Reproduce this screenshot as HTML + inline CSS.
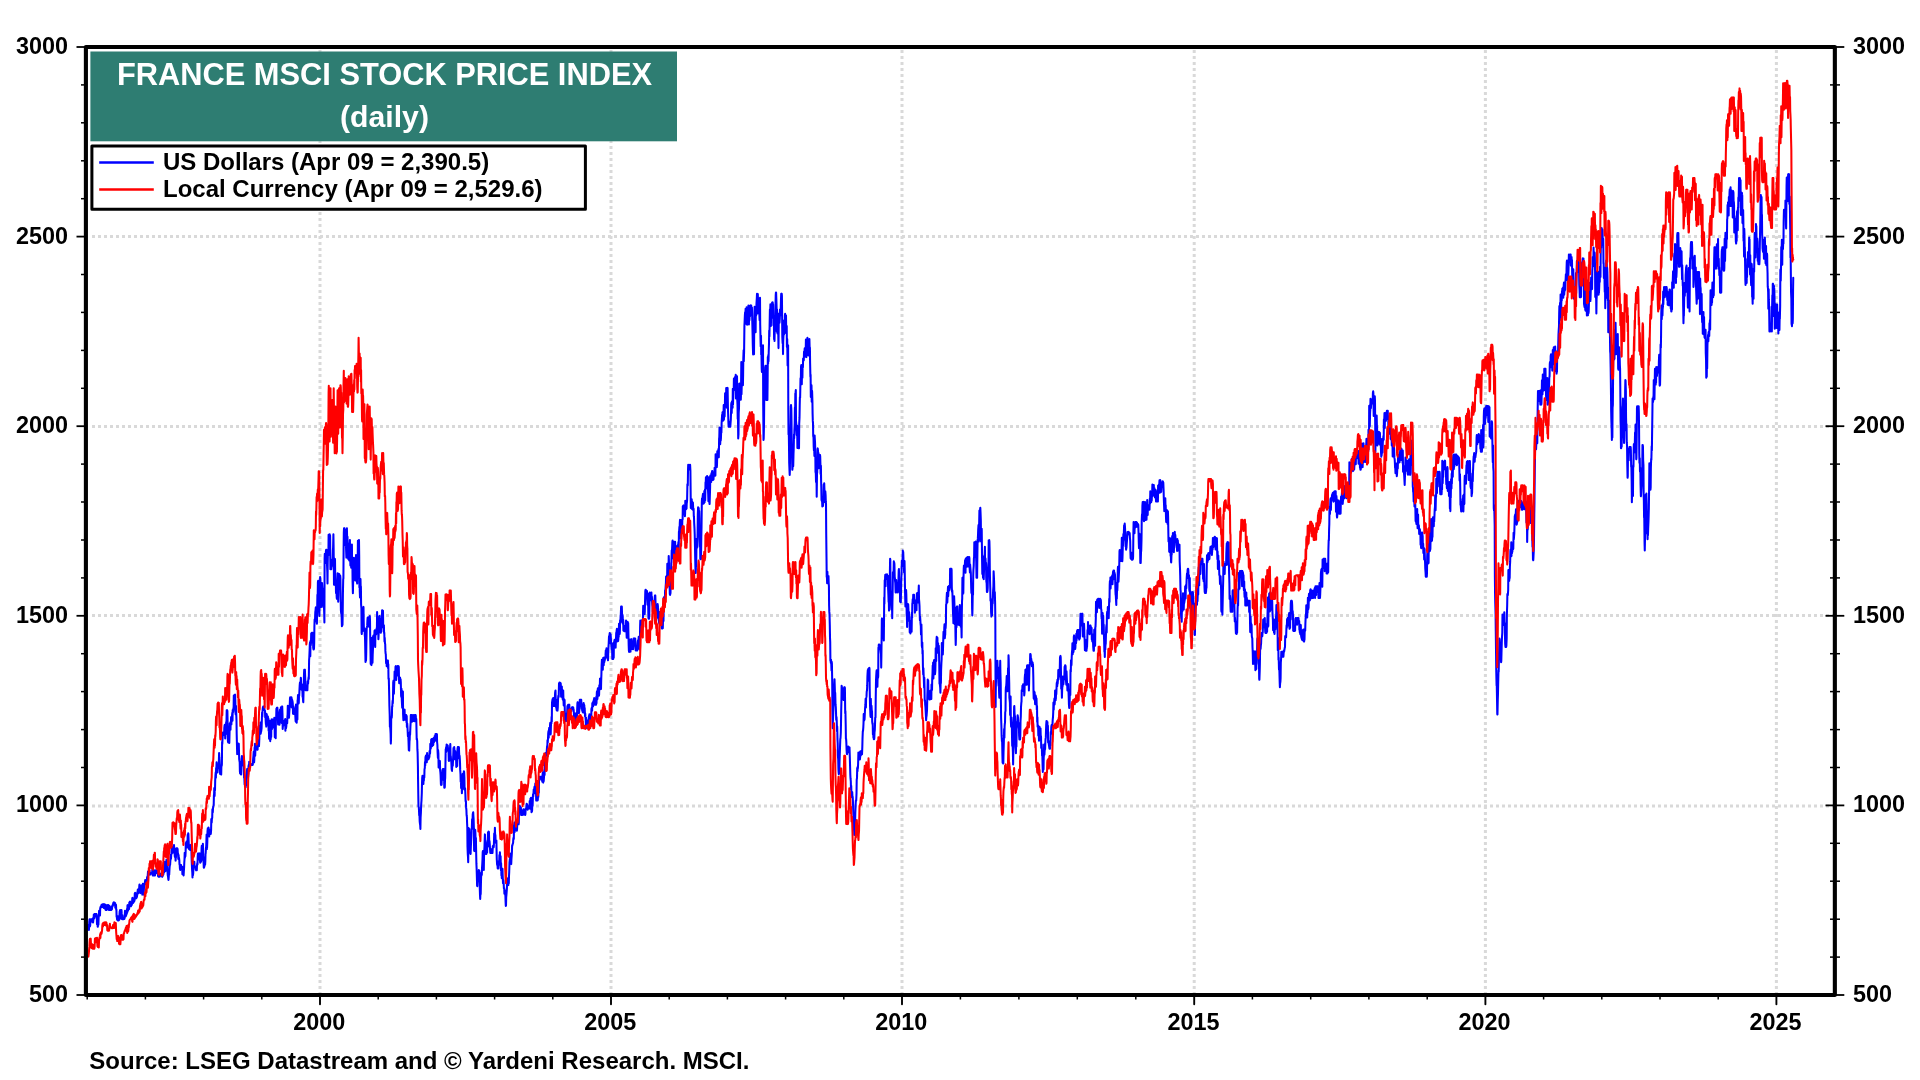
<!DOCTYPE html><html><head><meta charset="utf-8"><title>France MSCI Stock Price Index</title><style>html,body{margin:0;padding:0;background:#fff;width:1920px;height:1080px;overflow:hidden}svg{display:block;will-change:transform}text{font-family:"Liberation Sans",sans-serif;font-weight:bold}</style></head><body><svg width="1920" height="1080" viewBox="0 0 1920 1080"><rect width="1920" height="1080" fill="#fff"/><g stroke="#d9d9d9" stroke-width="3" stroke-dasharray="3 3" fill="none"><line x1="92" y1="236.5" x2="1833" y2="236.5"/><line x1="92" y1="426.5" x2="1833" y2="426.5"/><line x1="92" y1="615.5" x2="1833" y2="615.5"/><line x1="92" y1="806" x2="1833" y2="806"/><line x1="320.0" y1="50" x2="320.0" y2="993"/><line x1="611.0" y1="50" x2="611.0" y2="993"/><line x1="902.0" y1="50" x2="902.0" y2="993"/><line x1="1194.2" y1="50" x2="1194.2" y2="993"/><line x1="1485.4" y1="50" x2="1485.4" y2="993"/><line x1="1776.4" y1="50" x2="1776.4" y2="993"/></g><g fill="none" stroke-linejoin="round" stroke-linecap="round" stroke-width="2.05"><path d="M88.2,929.5l.2-4.6 .3 1.9 .2 3.2 .2-3.3 .2-5 .3-2.5 .2 4.5 .2 2.7 .2-1.1 .2-4.8 .3-1.3 .2 0 .2 .6 .2 1.7 .2-2.3 .3 0 .2 .1 .2 1.4 .2-.9 .3 2.5 .2-4 .2 4.1 .2-2.1 .3-1.6 .2-4.1 .2 3.1 .3 .7 .2-1.7 .3-2.6 .2 1.2 .2-1.3 .3 0 .2 0 .2 0 .2 2.5 .3-2.5 .2 .6 .2 2.1 .2 7.5 .2-4.6 .3 4.3 .2 2.9 .2-.5 .2-6 .3 4.4 .2-6.4 .3-4.1 .2-3.4 .3 3.8 .2-3.2 .2 .6 .2 3.5 .2-7.3 .3-1 .2-.6 .2-.4 .2 .5 .3-.4 .2-1.6 .2 2.6 .2-.8 .3-1.3 .2 1.8 .2-2.7 .2 0 .3 0 .2 .6 .2-.6 .2 3.6 .3-2.7 .2 .2 .2-1.1 .2 0 .3 .2 .2 3.9 .2 1 .2 .3 .3 .3 .2-4.2 .2 2 .3 2.2 .2-1.6 .3-3.4 .2 .6 .2 .3 .3 1.1 .2 2.1 .2-4.1 .3 3.6 .2 .8 .3 .6 .2-1.8 .2-2.4 .3 1.3 .2 2.3 .2-1.3 .3 1.9 .2 0 .2 0 .3 0 .2 0 .3-3.1 .2 2.7 .2-.8 .3-3.3 .2 .1 .2 .4 .3-2 .2 .4 .2-1.7 .3-.3 .2 2.4 .3-2.4 .2 0 .2 .9 .3-.2 .2-.1 .2 4.8 .2-1.1 .3-2.3 .2 .6 .2 4.6 .2-.2 .2 7.2 .2 .3 .3 2.8 .2-.6 .2-3.1 .2 1.2 .2 3.2 .2 0 .2 0 .3 0 .2-.7 .2 .1 .2 .1 .2-3.5 .3-5 .2 1.2 .2-2.5 .2 .6 .2-.2 .3 3.9 .2 3.8 .2 .5 .3-8.6 .2 3.3 .3 2.2 .2 3.5 .2 0 .3 0 .2-.6 .2 .6 .3 0 .2 0 .2-1.2 .2 1.2 .3-3.8 .2 3.2 .2-1.6 .3-6.2 .2 5.5 .2-2.5 .2 2.7 .3-.5 .2-.5 .2-.6 .2-2.4 .3 1.4 .2-4.8 .2 3.8 .3-7.5 .2-.3 .2 1.4 .2 4.2 .3-3.5 .2 1.3 .2 .3 .3 .2 .2-6.3 .2-.3 .2-.4 .3-.4 .2 2.5 .2 .2 .3-1.8 .2 3.8 .2-.4 .2-.3 .3-.4 .2-.3 .2-1.6 .3-5.1 .2-.3 .2 4.8 .2 .5 .3-.4 .2-.3 .2-.4 .3-.3 .2-.3 .2-.4 .2-.5 .3-7.2 .2 3.7 .2-4.2 .3 .7 .2 4.1 .2 .8 .3-.2 .2-.3 .3-.5 .2-.6 .2-1.1 .3-3.6 .2-.6 .2-2 .3 4 .2-.7 .3-.6 .2-1.7 .2 .4 .3-4.9 .2-1.5 .2 2.6 .3 4.5 .2 .8 .2 .7 .3-2.7 .2-3 .2-1.6 .2 4.3 .3-4.7 .2 .7 .2 2.9 .3 5.6 .2-.6 .2-6.2 .2-4 .3 1.1 .2 4.3 .2 5.4 .2-3.5 .3-5.7 .2-.9 .2-1.1 .3 .2 .2-1.6 .2-2 .2 4.3 .3-2.9 .2 2 .2-1.2 .3 .6 .2-1.2 .3-1.1 .2-3.4 .2 2.5 .3-2.7 .2-2.1 .2-3.2 .3-.2 .2 3 .3-3.5 .2-.2 .2-.3 .3 .3 .2 1.5 .2 2.5 .3-.3 .2-.3 .2-.4 .3-.3 .2-.3 .3-.3 .2-.2 .2 .6 .3 .6 .2-4.2 .2 2 .2 3.9 .3-5.1 .2-.8 .2 5.8 .2 0 .3 0 .2-4.3 .2 3.7 .2-4.4 .3 .8 .2 4.2 .2-1.3 .3-3.7 .2-.2 .3 0 .2 .7 .2-.7 .3 0 .2 .5 .2 2.5 .3-3 .2 0 .3 2.8 .2 3.1 .2-3.6 .2 4.3 .3 0 .2 0 .2-.1 .2-2.2 .3 1.3 .2 .8 .2-1.8 .2-.7 .3 1 .2-1 .2 0 .3 0 .2-.7 .3-1.1 .2 4.3 .2 .2 .3-1.8 .2 1.1 .2-1.7 .3-7.8 .2 7.8 .2-5.7 .3 1.6 .2 2.3 .3-1.3 .2-4.3 .2-5.1 .2 5.9 .3 2.3 .2 1 .2-1.1 .2-3.5 .3-3.3 .2-3.3 .2 .7 .2 1.7 .3 4.3 .2-1.6 .3 8.1 .2 2.4 .2 .7 .3 2.9 .2 .9 .2-2.3 .2-3.2 .3 .2 .2-3.9 .2-3.5 .2-2 .3-.6 .2-3.2 .2-2.2 .2-4.5 .3 3.8 .2-3.8 .2-.3 .3-7.9 .2 3.9 .3 2.5 .2-2.8 .2-2.9 .3 4.1 .2 1.2 .2-2.8 .2-2.9 .3 1.1 .2-3 .2 4 .3 2.1 .2 3.7 .2 2.2 .2-4.8 .3 3.7 .2 4.7 .2-4.4 .2 .9 .3-8.9 .2 0 .2 0 .2 0 .3 0 .2 2.2 .2-1.5 .2 4 .3 .8 .2 5.3 .3-4 .2 3.8 .2-1 .3 2.3 .2 4.3 .2-.1 .2 4 .3 1.6 .2-4.3 .2 .3 .2 1.6 .3-2.5 .2 3.9 .2-.6 .2 .4 .3 1 .2-3 .2 7.5 .3-1.7 .2-1.2 .3 2.5 .2 1 .2 .7 .2-3.5 .3-4.6 .2-5 .2-2.9 .2-6.7 .2 5.1 .2-3.2 .3 1.6 .2-3.6 .2-9.7 .2 2.1 .3-1.1 .2-2.4 .2 2.1 .2 .6 .3 1.6 .2 1.6 .3-12.6 .2 4.4 .3-6 .2 .8 .2 5.7 .2 4.6 .3 4.9 .2-3 .2-1.3 .2 4.3 .3 .6 .2-1.3 .3-3.3 .2 .6 .3-1.2 .2 5.5 .2-1.2 .2 9 .2 5.2 .3 6.8 .2 2.1 .2 5.3 .2-5.1 .2 3.1 .3-2 .2-6.4 .2-.5 .2-4.6 .2 3.4 .3-3.6 .2 2.5 .3 2.1 .2 1 .2 .6 .3-.6 .2 2.3 .2-.7 .2 1.4 .3 0 .2-1.4 .2 1.4 .2-5 .3-2.2 .2 1.4 .2-7.8 .2-3.2 .3 1.2 .2-1.3 .2 .7 .3 5.4 .2-5.2 .3-.5 .2 .3 .2-.7 .2 7.4 .2 1.8 .3 0 .2-.9 .2 .2 .2-1 .2-.9 .3-12.2 .2-2.1 .2 6.9 .2 3.1 .3-5.6 .2-1 .2-5.4 .2 6.5 .2 10.2 .3 2.6 .2 4.7 .2 0 .2-.7 .2-.6 .2-9 .2 4.3 .3 2.9 .2-2.8 .2-7.7 .2-1.1 .2-4.3 .3-2.4 .2-5.2 .2-6.6 .2 6.6 .2 7.8 .3-6.7 .2-10.9 .3-3 .2-.2 .2 6.2 .3-6.7 .2 .5 .2 4.3 .3 4.1 .2-2.9 .2 .4 .3 0 .2-.9 .3-3.4 .2 3.6 .2 .7 .3-3.9 .2-11 .2 3.8 .2-.5 .2-3.7 .3-.8 .2-8.5 .2 3.2 .2-.5 .2-3.8 .2-1.7 .3-.9 .2-.7 .2-9.3 .2-1.7 .2-5.9 .3 7.8 .2-7.5 .2 1.8 .2-10 .2-4.2 .3-3.7 .2 5.5 .2-9.6 .3-.2 .2-5.7 .3 4.2 .2-.6 .2 .2 .2 6.4 .3-4.2 .2 .4 .2-4.5 .2 0 .3 2.9 .2-6.8 .2-7.3 .2 4.2 .3 3.7 .2 4.4 .3 8.6 .2-1.6 .2 1 .3-3.3 .2 3.7 .2 .9 .2-9.3 .3 .6 .2-1.8 .2-22 .2 1.8 .2-4.8 .3-4.6 .2-2.1 .2-.1 .2 0 .3 2.1 .2-1.1 .2 1.6 .2-6.8 .3-2.8 .2-.6 .2 4.4 .2 9.4 .2-4.1 .2-3.4 .2 3.2 .3-11.4 .2-1 .2-.1 .2-11.4 .2 2 .3-2 .2 1 .3 17.2 .2 12.6 .3 1.3 .2 0 .2-2.5 .3-1.2 .2-3.6 .2 7.9 .2-8.3 .3-11.4 .2-.3 .2 1.7 .3 5.1 .2-7.9 .2 3.1 .2-8 .3 7.4 .2-6.6 .2 2.9 .2-4.4 .3-3.4 .2 7.9 .2-10.8 .2 1.7 .3 .3 .2-4 .2 2 .2-14.4 .3 4.5 .2-1.2 .3-3.2 .2-.8 .3-.2 .2 5.3 .2 12.6 .2 1.7 .3-8.4 .2 6.1 .3 8.9 .2 13.7 .3 12 .2 7.5 .2-2 .3-8.8 .2 4.8 .2 5.7 .2-4.3 .3-1.7 .2-4.1 .2 8.5 .2 6.8 .2 1.5 .3 1.8 .2 9.2 .2 2 .2-6.5 .2-.1 .3 0 .2 7.5 .2 0 .2-6.1 .3-9.4 .2-2.9 .3 3.3 .2-2.4 .2 4.7 .2-.9 .3 4.5 .2-4 .2-5 .2 9.7 .2 .8 .2 11.2 .2-2.4 .3 9 .2-1.1 .2 3.3 .2-1.5 .3-1.6 .2 3.6 .2-4.3 .3 2.6 .2-5.3 .3-4 .2-3.8 .2-3.4 .3 .7 .2 7.7 .2-5.7 .3 5 .2-4.1 .2-6 .2-1.5 .3 2.3 .2-5.5 .2 1.2 .2-.1 .3 4 .2-1 .2-1 .3-.1 .2 0 .2-.9 .2 .9 .2 0 .3 0 .2 0 .2 0 .2-.5 .3 .5 .2-.3 .2-4 .2-2.4 .2-2.1 .3-4.6 .2 8.3 .2 2.5 .2-2.7 .3-12.1 .2 .5 .2-4.3 .2 12 .3-9.1 .2-.1 .2 1.3 .3-.1 .2-2.8 .3 .9 .2 3.1 .2 .9 .3 0 .2-.1 .2-8.1 .3-2 .2 5.1 .3-1.9 .2 2.2 .2 1.1 .3-6.8 .2-8.6 .2 3.6 .3-8.7 .2 3.8 .2-6.8 .3 11.1 .2-1.5 .3-.9 .2-1.7 .2-1.6 .3-9.7 .2-5.7 .2 4.2 .2-4.8 .3-4.2 .2 2.4 .2-3.8 .2 0 .3 0 .2 0 .2 1 .2-1 .2 3.5 .3 .4 .2 .6 .2 6.5 .2-3.5 .2 5.2 .3 5.2 .2 .2 .2 2.1 .2-12.8 .3 .8 .2 5.8 .2 4.4 .3-4.2 .2-2.7 .2-1.3 .2 4.9 .3-3 .2 12.2 .2-5.3 .3 13.3 .2-1.6 .2-7.8 .2-8.6 .3 2.3 .2 18.1 .2-4.5 .3 2.6 .2-6.5 .3 4.2 .2-16.5 .2-1 .3 9.7 .2-5.2 .3-4.5 .2 8.1 .3-4.5 .2 0 .2 3.9 .3 .1 .2 .4 .3-6.7 .2-2.9 .3 9.7 .2 9.7 .2-1.4 .3-3.3 .2 3.4 .2 2.3 .2-17.7 .3-3.2 .2-8.6 .2 1.6 .3-2.6 .2 .6 .3-.6 .2 3.1 .2 3.6 .3 10 .2-.1 .2-2.3 .3-.8 .2 1.6 .2-.6 .3 2.6 .2-11.9 .3-3.2 .2 .6 .2-1 .3 .2 .2-2.1 .2 7 .2 3.5 .3 5 .2-8.8 .2-.8 .2-6.9 .3 8.2 .2 14.4 .2-3.4 .2 .1 .3-1 .2-3.9 .2 3.4 .2 .3 .3 .7 .2-.9 .2-1.8 .2-1.8 .3-1.6 .2 11.6 .2-3.8 .2-1.2 .2 2.6 .3-2 .2-4.2 .2-1.7 .2 .6 .3 2.3 .2-6.8 .2-2 .2-8.7 .3 10.2 .2-3.4 .2 .9 .3 3.2 .2 1.1 .3-5.6 .2-2.6 .3-6.3 .2-5 .2-1 .3 3.8 .2 5.6 .2-.5 .3-5.9 .2-3 .3 1.4 .2 8.7 .2-7.6 .2 1.1 .3 1 .2 1.8 .2 10.1 .2-3.2 .3-4.4 .2 7.7 .2-1.3 .2-4.5 .3 .6 .2 .6 .3 4.2 .2-3 .2 5.1 .3 5.4 .2 .7 .2-17.2 .2 13.9 .3 .6 .2 3.7 .2-9.3 .2-.8 .3 7 .2-19.3 .2-.7 .2-4.6 .3 1 .2 7.6 .3-.7 .2-7.7 .2 .4 .3-6.5 .2-3.7 .2-2.4 .2-.7 .3 0 .2 1.3 .2-5.8 .2 1.1 .2 9.7 .3 1.1 .2-3.7 .2 3.8 .2-5.4 .3 5.1 .2 7.5 .2-1.5 .3 5.5 .2 1.2 .2-8.8 .3-9.8 .2-9.6 .2-4.3 .2 13.2 .3-12.6 .2-.5 .2 5.2 .3 8.5 .2 6.8 .2-1.9 .2-2.9 .3 4.8 .2 0 .2-.6 .3-.2 .2-.2 .2 1 .3-9.1 .2 2.7 .2-.4 .2-3.7 .3-2.7 .2 1.8 .3-18.9 .2-2.5 .3-6.9 .2-6.1 .3-2.3 .2 14.1 .2-15.2 .3 4.1 .2-3.3 .2-8.3 .2 1.8 .3-2.5 .2 3.3 .2-2.8 .2-.5 .3 0 .2 10.2 .2-9 .2 13.6 .3 1.7 .3 0 .2-1.1 .2-5.6 .2-16.2 .2-6.9 .3 1.6 .2-3.1 .2-6.1 .2-1.2 .3-3.4 .2 8.5 .2 5.4 .2-5.1 .3 5.3 .2 2.2 .2-10.2 .3-18.8 .2 8 .3-20.5 .2-1.3 .3 0 .2 12.4 .3 1.8 .2 15.3 .3 5.5 .2-17.4 .3-5.6 .2-15.9 .2 1.3 .2 4.2 .3 14.8 .2 4 .2 5.6 .2-2.6 .2-6.9 .2-12.1 .2-2.2 .3 4.4 .2 2.5 .2-1.3 .2 3 .3 8.1 .2 7.4 .3-5.5 .2 3.2 .3 8.2 .2 9.3 .2-63.5 .2-5 .2-.1 .2 7.7 .3 1.5 .2-8.7 .2-3.2 .2-1.3 .3 0 .2 0 .2 .5 .2 13.8 .3 7.9 .2 11.5 .2-19.9 .2-10.5 .2 2.1 .3 .1 .2-20.5 .2 .8 .2 14 .2-13.8 .3 7.9 .2-9.5 .2 7.3 .2-5.9 .3 33.7 .2-1.3 .2 1.3 .3-3.9 .2 3.9 .2-4.1 .2 1.4 .2-4.7 .3-2.3 .2 3.2 .2 2 .3-14.4 .2-2.6 .3-13.5 .2 12.3 .2 16.2 .2 22 .2-11.9 .3 .7 .3-9.5 .2-5.2 .2 16.7 .3 9.8 .3-3.6 .2 10.8 .2 .8 .3-1.8 .2 5.8 .2 1.4 .2-10.1 .3-8.8 .2-6.7 .2 19.8 .2 .9 .2 7.8 .2-6.4 .2-12.7 .3-4.5 .2-4.2 .2 5.4 .2-4.8 .3 5.5 .2-2.2 .2-2.1 .2 2.3 .3 21.6 .2 10.7 .3 3 .2-2 .2 4.5 .3 10.4 .2-16 .2 .8 .2 14 .2-11.7 .2-19.4 .3-14.5 .2-1.1 .2-28.8 .2-16.5 .2-4.7 .3 5.1 .2-5.1 .2 6.7 .2 1.3 .3-.1 .2-6.5 .2 15.8 .3-6.8 .2 11 .3 7.9 .2-27 .3-2.3 .2 8.9 .2 .9 .2-1.3 .2 19.2 .3-1.8 .2 4.7 .2 0 .2-1.3 .2 1.3 .2-5.7 .2 7.2 .3-17.2 .2 .6 .2-3.7 .2 14.5 .3 10.8 .2-7.9 .2 6.6 .2-2.6 .2 6.2 .3-16.9 .2 10.7 .2-16.9 .2 22.2 .3-3.1 .2 18.3 .3 11.2 .2-9.9 .3-5.2 .2-.4 .3-19.9 .2 14.2 .3-4 .2 5.2 .3-4 .2 5.3 .2 6 .2-7.3 .3-7 .2-11.2 .2 4.1 .3 3.5 .3 18.5 .2 1.1 .2 1.3 .2-14.5 .3-8.8 .2-19.5 .2 5.2 .2 25.3 .3-6 .2-7 .2-18.1 .2 15.4 .2 31.9 .2-6 .2 10.7 .2 5.4 .3-12.8 .2-5.7 .2 9.7 .2-2.2 .2 18.2 .3 3.6 .2 24.5 .2 1.2 .3-10.3 .2 2.3 .3 5.1 .2-4.6 .2-14.5 .3-3.5 .2-1.6 .2 14.2 .2 8.4 .2 .1 .3 1 .2-2.4 .2 7.2 .2 1.6 .3 14.8 .2 10.2 .2-7.7 .3 6.4 .2-6.5 .2-12.3 .3-13.7 .2-.8 .3-1.5 .2-5 .2-3.2 .3 5.2 .2-5.7 .2 3.9 .3 5.1 .2-4.6 .3-4 .2 7.2 .2 2.3 .3-11 .2 3.7 .2 16.8 .3 14.3 .2 13.1 .2-6.8 .3-.6 .2 8.5 .2-1.2 .2-14.9 .3-11.3 .2 18 .2 7 .2-7.8 .3-6.8 .2-11.4 .2-1.2 .2 3.6 .3 5.8 .2-3.7 .2-4.7 .2-5.5 .3-.7 .2 5.4 .2 11.3 .2-15.8 .3 3.4 .2-2.6 .2 2.5 .3-1.3 .2-4.8 .3 1.3 .2-17.7 .2 10.2 .2-.9 .3 7.1 .2 .1 .2 .8 .2 10 .2-4.2 .2-4.5 .2-1.5 .3-12.9 .2 4.7 .2-5 .2 6.9 .3-4 .2 2.5 .3 11.4 .2 0 .3-4.7 .2 3.5 .2-6 .3-4.9 .2-10.3 .2 7.1 .2 4.8 .3-4.4 .2-7.1 .2 16.5 .2-1.1 .2-.3 .3-.5 .2 8 .2-.5 .2 8.8 .2-3.9 .3 5.9 .2 .4 .2 6.9 .2 2.6 .2 .7 .3 9.1 .2-3 .2-.3 .2 6.1 .2-5.3 .3 3.3 .2 2.4 .2-1.8 .3-4.2 .2 7.6 .2-3.9 .2 14.8 .3-.6 .2 8.2 .2 8.7 .2 10.6 .3 8.9 .2 12.1 .2-.5 .2 1.9 .3 5.4 .2 9.9 .2-4 .2-22.3 .3-.1 .2 .7 .2-2.5 .2-9 .2 .3 .3-6 .2 2.6 .2-5.5 .2-15.4 .3-1.8 .2 6.9 .2 6.2 .2-6.7 .3-6.5 .2-8.9 .2 7.5 .3-5.2 .2-.2 .2-7 .3-.6 .2 4.8 .2 9.1 .2-6.4 .3-.9 .2-5.5 .2 8.4 .3-4.2 .2-5.3 .2 0 .3 0 .2 0 .2 .1 .3 .7 .2 12.4 .2 4 .2-4 .3 .2 .2-2.1 .2 .7 .3 1.6 .2-.3 .2 2.8 .3 13.4 .2 1.1 .2-8 .3 11.5 .2 3.7 .2 3.8 .2-1.9 .3-5 .2-9.4 .2 22.7 .3 6.1 .2-1 .2-4.9 .3 .5 .2-4.6 .3-.6 .2 10.1 .2-4.6 .3-.1 .2 0 .2 2.5 .3-2.5 .2 0 .3 7.5 .2-6.5 .2 10.9 .3-3.5 .2 2.5 .2 3.9 .3 6.4 .2-3.3 .2 2.9 .2 5.2 .3 9.3 .2-.6 .2 .9 .3-9.5 .2-1.4 .2-7.7 .2 2.6 .3-8 .2-3.5 .2-8.1 .3 4.2 .2-4.2 .2 1.4 .2-1.4 .3 6.7 .2-5.7 .2 5.1 .2-.5 .3-4.3 .2-1.2 .2 5.8 .3-1.3 .2-3.9 .2 1.3 .2 .5 .2 3.8 .3-6.3 .2 0 .2 0 .3 0 .2 0 .2 1 .2 5.6 .3-2.6 .2 11.3 .2 9.2 .2-.9 .3 2.5 .2 8.6 .2 2.7 .3 13.6 .2 16.3 .2 13.3 .2 11.2 .3 .3 .2 3.2 .2 5 .3 .6 .2 5.6 .2 1.9 .3 1.7 .2 3.9 .2-11.2 .3-5 .2-6.8 .2-3 .2-2.7 .3-7.3 .2-9.7 .2-5.1 .3-2.5 .2 4.8 .2-3 .3 3.9 .2 2.6 .2-7.8 .2 4.8 .3-4.7 .2 1.1 .2-8.1 .3-1.2 .2-6.1 .2 3.8 .3-9 .2-.4 .2-.5 .3-.5 .2 1.3 .2 4.3 .2 1.2 .3-9.1 .2 2.5 .2 2.9 .3 .1 .2-2.8 .2 3.7 .3-.4 .2-.5 .2-.5 .2-.5 .3-.8 .2-5.7 .2 2.9 .3-1.1 .2-9 .2 3.2 .3 1.4 .2-4.6 .2-4.4 .3 1.9 .2-2.4 .2 4.3 .2 3 .3-.9 .2-4.8 .2-1.8 .3 6.4 .2-.7 .3-6.4 .2 2.4 .2 1.6 .3-3.5 .2 2.6 .2-5.2 .3 2.9 .2 1.6 .3-6.4 .2 3.4 .2 2.9 .2-.4 .3-5.9 .2 .9 .3-.9 .2 7.9 .3 3 .2 6.9 .3 6.1 .2-8 .3 3.6 .2 13.8 .2-6.5 .2-.5 .2 5.8 .3 1.5 .2-3.9 .2-2.9 .2 9 .3 2.5 .2 2.7 .3 9.2 .2 .8 .3-4.6 .2 4.2 .2-6.7 .2-2.9 .3 2.1 .2-7.2 .2 6.2 .2-7.1 .2 2.3 .3 4.1 .2-6.4 .2 11.3 .3-.1 .2 7.4 .3 0 .2-.8 .2-7.1 .2-1.8 .3-17.5 .2-11.2 .2 3.2 .2-5.3 .3 2.3 .2-5 .2 3.5 .2-2.1 .3 4.7 .2-3.3 .2-1.9 .2 2.6 .2 .1 .3 2.7 .2 2.7 .2 7.1 .2 .3 .2-1.2 .2-6.5 .2 6.9 .3-5.5 .2-8.1 .2-2.4 .3 12.6 .2-.5 .3 4.7 .2 .7 .3 7.1 .2 1.3 .2 .9 .3-6.4 .2-3.5 .3 4.7 .2-5.2 .3-6.7 .2-5.8 .2 2.3 .3 1 .2-4.2 .2 2.1 .3 10 .2-5.7 .3-2.6 .2 1 .2 2.7 .2-1.4 .3 5.9 .2 7.9 .2-.9 .3-.8 .2-.7 .2 1.4 .3-16.9 .3-2 .2 .9 .2 3.4 .3-4.3 .2 .6 .2-.6 .2 5.5 .3 6.1 .2-3 .2 3.2 .2 3.5 .2 7.5 .3 4.3 .2 7.4 .2-3.8 .2 10.3 .3-2.2 .2-3.1 .3 10.5 .2-4.5 .2-.7 .3-14 .2 5.6 .2 1.6 .2 7.4 .3-5 .2-11.1 .2-1.3 .2 .6 .3 5.8 .2 12 .3-1.7 .2 .4 .3 6.5 .2 6.2 .3 0 .2 6.3 .3 2.6 .2 5.2 .3 1.9 .2 6.2 .2 4.1 .2 19.3 .3 7.8 .2 2.3 .2 5.4 .2-16.5 .2-17.6 .3 1.2 .2 6.8 .2-7.2 .2 4.8 .2 4.3 .3 5.3 .2-3.6 .2 13.6 .2 .7 .3-8.4 .2-3.4 .3-6.6 .2-6.7 .2 .6 .3-10 .2-.8 .2 4.2 .2-8.5 .3-1.5 .2-.7 .2 3.8 .2 2.8 .3 10.5 .2 20.9 .2 .9 .2-7.4 .2-4.1 .3-9.9 .2 .2 .2 3.4 .2 7.8 .3-3.2 .2 12.2 .3 13.8 .2 4.1 .3 10 .2 7.6 .2 .6 .3-7 .2 2.8 .3-5.8 .2 3.2 .3-3.5 .2-5.9 .2 3.2 .3-2.5 .2 3.2 .2 12.4 .3 8.9 .2 3.7 .2-5.2 .3 .5 .2-9.5 .2-7.2 .3-4 .2-1.3 .2 2.7 .2-6.7 .3-5 .2-3.8 .2-7.2 .2-1.1 .2 8.5 .3 4.4 .2-3.1 .2 9.1 .2-12.5 .2-6 .3-5 .2-7.3 .2-4.8 .2 4.3 .2 3.3 .2 11.5 .3 .1 .2 .4 .2-.7 .2 .7 .2-2.6 .3-1.2 .2 2.2 .2-9.1 .3-2.7 .2 1.2 .2-9.6 .2 3.7 .2-1.4 .2-3 .3 .4 .2 5.4 .2 9.4 .2-5.6 .3 3.5 .2 4.1 .3 4.2 .2-.9 .3-2.8 .2 3 .2 .7 .2 0 .3 0 .2-2.4 .2-1.7 .2 1.3 .2 2.8 .3-6.7 .2-.1 .2-.5 .2 .8 .3 .8 .2-2.9 .3-10.8 .2 2.6 .3-.1 .2-8.2 .2 6.5 .3 .8 .2 6.4 .3 .2 .2 1.5 .3-2.8 .2 11.8 .2 7.6 .3 4.7 .2 .8 .2-.7 .2 3.9 .3 0 .2-.7 .2 .7 .3-7.1 .2 3.4 .3-3.2 .2-6.6 .3 3.6 .2-6.4 .2 4.8 .3 .7 .2-1.4 .3 13.9 .2-7 .3 12.2 .2-1 .2 3.9 .3-2.9 .2-.6 .2-6 .2 6.7 .3 7.6 .2-2 .2-1.2 .3 4 .2 4.5 .3-.3 .2 5.5 .3-3.6 .2 3.7 .2-.8 .3 3.2 .2 5.8 .2 4 .2-.3 .2-8.5 .2-1.9 .2-2.6 .3-4 .2-10.3 .2 .6 .3 2 .2 1.8 .3 .3 .2 2.1 .3-2.8 .2 1 .2-7.6 .2-3.7 .3-9.6 .2-1.8 .2-1.7 .2-5.4 .2 4.6 .3 .2 .2 .4 .2 4.6 .2 .8 .2-4.5 .3-4.1 .2-3.2 .2-6.7 .2 .3 .3-1.8 .2 0 .3-1.4 .2-3.8 .3-1.4 .2 1.4 .2-13.4 .2-1.2 .3-1.8 .2 9.6 .2-8.8 .2-.8 .3 0 .2 6.5 .3-8.5 .2 4.4 .3 .8 .2 4.3 .2 .7 .2-.8 .3-6.9 .2-4.2 .2-1 .2 .8 .2-1.1 .3-4.2 .2 11 .2-1.4 .2-14 .2 .9 .3-3.9 .2 0 .2 3.3 .3 .3 .2-2.8 .2 1.2 .3-.3 .2 7.3 .3 0 .2-.8 .2 .8 .2-3.9 .2 3.6 .3 .3 .2-1.7 .2-3 .2-.3 .3-.5 .2 5.2 .2-4.7 .2-.5 .3 2.5 .2 .1 .2-2.1 .2 3 .3 2 .2-.8 .2-4.4 .2-1.1 .2 .2 .3-.5 .2-2.8 .2-1.8 .2 .5 .3 3.6 .2-2.8 .2 4.7 .3-1.3 .2 0 .3 0 .2 0 .2 0 .3-2.1 .2 1.3 .2 .8 .2-7.4 .3 4.9 .2 2.9 .2-10.1 .2-.2 .2 .2 .2-1 .2 5.1 .3 9.5 .2-1 .2 .2 .2-1 .2-7.3 .3 2.8 .2-5.9 .2-5.9 .2 2.5 .3-3.4 .2-3.7 .2 3.7 .2-2.2 .3-3.8 .2-.7 .2 6.5 .3-5.7 .2-3.9 .3 0 .2 .8 .2 6.4 .2 9.9 .3-6.8 .2-4.7 .2 6.8 .2-.6 .3 5.3 .2 0 .2-.8 .2-4.3 .3 1.5 .2-4.6 .3 .4 .2-12.9 .2 .4 .3-3.4 .2 .9 .2-.9 .3 0 .2 0 .2 0 .3 0 .2 0 .3 2.8 .2-.6 .2-1.7 .3 1.5 .2 2.8 .2-6.3 .3-3.1 .2 1.3 .2 9 .3-10.2 .2 8.7 .3-4.1 .2-4.4 .2-2.9 .2 5.4 .3-15.2 .2 2.5 .2 2.8 .2-6.5 .3-4.1 .2-1.8 .2 2.9 .2-.6 .2-2 .3-4.4 .2-2.6 .2 2.1 .2-8 .2 2.6 .3-4.1 .2-5 .3-2.7 .2 6.7 .2-6.6 .3-3.2 .2 4.5 .2-2.9 .2 2.6 .3-8.2 .2-1.2 .2 9 .2 2.7 .3-10.8 .2-.5 .2 .2 .2-6.6 .2 4.8 .2-18.9 .2-1.2 .3-1.9 .3-.8 .2 .2 .2-.9 .3 7 .2 1 .3-3.9 .2 3.9 .2 0 .2 0 .2-6.4 .3-6.6 .2-1.5 .2-1 .2 8.2 .3 .9 .2 8.4 .2-5.5 .2 7.1 .2 1 .3 0 .2-2.3 .2 2.3 .3-3.1 .2-7.5 .3-4.2 .2 .9 .2 .2 .3-13.6 .2 6.7 .3-7.4 .2 0 .3 3.7 .2-2.6 .2 5.8 .3-6.2 .2 3 .2 10.4 .2-5.6 .3-.8 .2-3.9 .2 5.6 .3-.6 .2 6.5 .3 1.6 .2-8 .2-1 .2 7.9 .3 7 .2-5.8 .2-.3 .2 .2 .3 .7 .2 10.2 .2 9.6 .2 1 .3-4 .2-3.5 .2 5.8 .3 1.7 .2 0 .3-3.9 .2 1.2 .2-4.8 .3-7.1 .2-.7 .2 5.5 .3-6.5 .2 0 .2 .1 .3-.1 .2 .8 .3-.7 .2 4.8 .2-.6 .2 1.6 .3-.7 .2 .7 .2-.5 .2 .5 .3 0 .2 .9 .2-3.2 .2 .7 .3-1.7 .2 0 .3 0 .2 1.9 .2-1.9 .3 .1 .2 1.8 .2 .1 .3 4.2 .2 11.9 .2 0 .3 0 .2-1 .2-2.2 .3-4.7 .2-4.1 .2 6.8 .3-.3 .2 4.1 .2-.1 .3-2.5 .2-4.8 .2-5.1 .3-8.1 .2-1.2 .2 8.3 .2-8.1 .2 7.7 .3-4.5 .2 1.6 .2 6.1 .2-.9 .3-4 .2-3.4 .2-5.2 .3 0 .2 0 .2 0 .3 2.4 .2-1.4 .2-1 .3 5.5 .2 3.7 .2-.5 .3 2 .2-1.2 .2 2.5 .3 .6 .2-4.6 .2-.7 .3-4.1 .2 1.3 .2 .4 .3 .7 .2 7.8 .2-5.1 .3 8.2 .2-3 .2 3.6 .3 2.6 .2 6 .2-7.7 .3 4.6 .2 2 .2 3.6 .3 .2 .2 0 .2-2 .3-6 .2 7 .2-3.3 .3 2.4 .2-6.3 .2-3.9 .3 1.8 .2-3.7 .2 1.5 .3 5.1 .2-1.9 .2-.7 .2 .2 .3 5.2 .2-1.7 .2-.8 .2-11.8 .3-1.4 .2 .8 .2 1.9 .2-7.3 .3 1.7 .2-2.8 .2 4.2 .3-.9 .2-4.3 .2-.8 .3-1.1 .2-1.2 .2 .2 .3 5 .2 .3 .2 1 .3-2 .2-.5 .2 2.5 .3 0 .2-7.9 .2 6.6 .3-10.5 .2-1.6 .2 8.4 .3-1.6 .2-8.1 .2-1.7 .3 2.9 .2 1.4 .2 .2 .3 3.1 .2-1.3 .2-9.2 .3 2.9 .2-1.3 .2-8.3 .3-.1 .2 10.4 .2-3.7 .3 3.9 .2-9.1 .2-5.8 .2-8.8 .3-5.5 .2 1.7 .2 4.5 .2 .9 .3 2.7 .2-10.3 .3-1.6 .2 1.7 .2 5.7 .3-7.4 .2 4.6 .2-2.2 .2 .9 .3-1.8 .2-.4 .2-1.1 .2-2.4 .3-5 .2 5.1 .2 2.1 .3-9.3 .2 1.1 .2-.7 .2 4 .3 2.8 .2-.9 .2 4.6 .2 1.1 .3-9.6 .2-4.5 .2-2.7 .3-7.2 .2 .6 .2-1.1 .3-2.8 .2 .5 .2 9.4 .3-5 .2-3.7 .3 4.7 .2 4.6 .3 2 .2 3.9 .2-6.5 .3 6.2 .2 9.8 .2-5.3 .3-3.1 .2 8.4 .2 0 .3-8.3 .2 7.2 .2-14.5 .3-1.7 .2-1 .2-.9 .3 4.1 .2 2.3 .2-1.4 .3 2.9 .2-5.1 .2-3.6 .2-6 .3-.8 .2-1.9 .2-1.4 .2 12.7 .3-3.3 .2-2.6 .2 4.4 .3 1.1 .2-1.8 .2-6.8 .2 4.5 .3-13.2 .2 2 .2 4.2 .3 3.9 .2-3 .2-10.7 .3 .8 .2-5 .2-1.5 .3-7.9 .2 1.2 .2 8.3 .3-9.5 .2 5.9 .2 9.9 .3-7.6 .2 1.3 .2 7.9 .3-4.3 .2 10.9 .2-2 .3 1.7 .2-.3 .2 1.2 .3 0 .2 0 .2-5.3 .3 4.7 .2-2 .2-3.3 .3-4.7 .2 8.5 .2 .6 .3 8.1 .2-1.4 .2-9.9 .3 7.2 .2-12 .2 7.1 .2 8.7 .2-14.4 .3 14.9 .2 7.8 .2 5 .2 1.1 .3-5.7 .2 2.3 .2 2.1 .3-11 .2 .1 .2 11.9 .3-11.2 .2-1 .3-.3 .2 8.5 .3-.3 .2 .8 .2 .9 .3-7.1 .2 5.3 .2 2 .2 0 .2-2.6 .3-8 .2 1.1 .2-1.2 .3 0 .2 0 .2 6.9 .3-6.9 .2 .1 .2 7.2 .3 4.7 .2-1.1 .2 1.1 .3 0 .2 0 .2 0 .3 0 .2-1.1 .2-5.2 .3-3.3 .2 .2 .2-1.1 .3-.3 .2-3 .2 2.9 .3 8.5 .2 1.3 .2-11.6 .3 5.5 .2-16.6 .2-6.1 .3 10.4 .2 .4 .2-3.8 .2-.8 .3 1.6 .2 .4 .2-8.6 .2 .1 .2 9.4 .2-5.8 .3 3.5 .2-14.2 .2-7.4 .3 3.6 .2-2.2 .2 .6 .2 .9 .3 3.8 .2 1.6 .2-2.7 .3-12.6 .2-7.7 .2-1.3 .3 0 .2 7.8 .3-2.5 .2 2.5 .3-1.9 .2-4.6 .2 8.9 .3 4.8 .2-10 .2-1.3 .3 11.7 .2 12.3 .2 1.2 .3 0 .2 0 .2-5.5 .3-18.6 .2-2.1 .2 2.7 .3 1.4 .2 2.6 .2-3.6 .2 4.7 .3-7.1 .2-.7 .2 6.3 .3-2 .2 5.2 .2 2.6 .3 2.2 .2 5 .3-6.5 .2 5.3 .2 1.2 .3-1.9 .2-6.3 .2 2.7 .2-5.4 .2-1.9 .3-3.5 .2 1.2 .2-1.2 .3 9.4 .2 6.7 .2 2.5 .2-3 .3 1.4 .2-7.6 .2 3 .3 5.1 .2 4.5 .2-13.6 .3 2.2 .2 8.5 .2 4.1 .3 .2 .2 1.6 .2 1.5 .3 1.5 .2-10.2 .2-1.2 .3 3 .2-2.1 .2 2.6 .3-3.5 .2 0 .2 9.8 .3-3.5 .2 8.8 .2 1.2 .3 0 .2 0 .2 0 .3-.2 .2-9.3 .2-5 .3 7.2 .2-19.8 .2-4.1 .3 .8 .2 5.6 .2-.7 .3-5.2 .2-7.5 .3 .2 .2-3 .3-4.4 .2-6.4 .3 3.2 .2 2.4 .3-.8 .2-.3 .2-17.4 .3 22.3 .2-11.6 .2 10.9 .2-16.9 .3 .9 .2-13.4 .2 3.8 .3 20.6 .2 .9 .2 3.2 .2 9.5 .3 1 .2-1.2 .2-.5 .3-21.3 .2 3.6 .2-12.2 .2-1.3 .3-11.6 .2 .8 .2-2.6 .3-7.2 .2-.9 .2 7.2 .2-3.3 .3 14 .2-9.4 .2 1.1 .3-5.4 .2-2.9 .2 1.3 .3 8.2 .2 6.8 .2-16.4 .2 5.7 .3 14.2 .2-1 .2 1.3 .3 0 .2-7.4 .3-8.5 .2 11.2 .2 .3 .3-1.6 .2-10.5 .3-.5 .2 0 .2-2.8 .3 11.6 .2-21.9 .2-.3 .3-4.8 .2 3.8 .2-7.7 .2-2.9 .3 18.4 .2-17 .2-1.4 .3 0 .2 9.5 .2 2.7 .2 0 .3 0 .2-1.4 .2-10.9 .3-.4 .2-13.1 .2-.3 .2-.3 .3-.3 .2 3.3 .2 5.4 .3-3.4 .2 1 .2-5.7 .3 10.3 .2-3.2 .2-12.4 .2 9.1 .3-1.2 .2-3 .2 3.3 .3-.3 .2-5.1 .2-1.1 .2-2.2 .3-15.9 .2 .8 .2 .1 .2-15.3 .2-5.2 .3 4.7 .2 .2 .2-3.4 .2-.6 .3-.2 .2 3.2 .3-3.9 .2 0 .3 6.2 .2 18.3 .2 18.7 .3 .2 .2 .2 .2-2.7 .2-6.3 .3 7.9 .2 1.9 .2-6.5 .2 5.9 .3-6 .2 4.6 .2 3.3 .3-1.7 .2 7.5 .2 1.5 .2 5.7 .3 5.2 .2 5.3 .3 14 .2 10.6 .3 13.2 .2 1.3 .3-8.4 .2 2.2 .2-16.5 .2-11.6 .3 5.8 .2-4.3 .2 7.2 .3-14.2 .2-18.6 .3-7.3 .2 1.4 .2 2.2 .2-3 .3 22.2 .2-19 .2 7 .2 19.6 .3 8.4 .2-2.7 .2 15.7 .2-13.2 .3-13 .2 26.2 .3-22.4 .2-8.6 .3-25.7 .2-3.9 .3 1.3 .2-1.9 .2-2 .3-2 .2 8 .2 1.9 .2-.3 .3-.3 .2-3.9 .2-8.4 .3 11.4 .2-6.5 .2-6.2 .2 10.7 .3-18 .2 2.8 .2-7.8 .3 9.1 .2-8.5 .2 3.3 .2 7 .3-12.3 .2 2.9 .2 2.2 .3 8 .2 1.2 .2 3.9 .2 7.1 .3 0 .2-24 .2 8.2 .3 17.5 .2 1.1 .2-6.5 .3-10.1 .2-11.7 .2-.3 .2 5.3 .3 0 .2 1.2 .2-8.7 .3 4.3 .2-4.3 .2-2.2 .2 0 .3 5.3 .2-3.8 .2 7.4 .3-4.7 .2 4.2 .2-4.5 .2-1.7 .3 2 .2-1.1 .2-6.4 .3 5.9 .2 2 .3 0 .2-21.4 .3 4.1 .2 9.2 .3-6.4 .2 .2 .2 5.8 .2-2.5 .3-13.3 .2 3.9 .2-.7 .3 2.9 .2-3.8 .2-4.6 .2 3.9 .2 4.3 .3-18.5 .2-1.7 .2-9.6 .3 .6 .2 3.9 .2 12.3 .3-8.9 .2 5.4 .2-2.2 .2-5.6 .3-.3 .2-9.4 .2-3.5 .3-4.9 .2 5.5 .2-8.1 .3 1.2 .2 7.3 .2-4 .3-2.8 .2-9 .2 14.8 .3-7.5 .2-.3 .2 4.7 .3-12.8 .2-10.6 .2 3.5 .3-1.4 .2-.2 .2 11.4 .2-18.6 .3 0 .2 8 .2 11.9 .3-2.9 .2-15.3 .2-1.7 .3 18.4 .2 7 .3 9.2 .2 4.3 .3 0 .2-1.8 .3 1.8 .2-1.6 .2 .2 .3-3.8 .2 5.2 .2-3.3 .3-3.8 .2-6.2 .2-9 .2-1.6 .3 10.1 .2-11.5 .2 1.5 .2-1.9 .3 6.6 .2-18.9 .2 15.8 .2-8.9 .2-5.6 .3 .5 .2-12.1 .2 5.2 .2-3.8 .2 9.7 .3-10.5 .2-2 .2 7.6 .2-.1 .3-9.9 .2 23.7 .2-10.7 .2 2.2 .3-1.3 .2-3.1 .2-9.2 .2 22.3 .3 6.3 .2 13.8 .3 .9 .2 18.9 .3-4.4 .2-20.8 .3-5.8 .2-23.9 .3-.1 .2 1.7 .2 .3 .3 0 .2 1.7 .2 2.3 .2 10.3 .2-5.8 .3-32.1 .2 32.2 .2-8 .3-9.4 .2-7.8 .2 2.3 .2-3.6 .3 17.6 .2-10.1 .2-16.6 .3-8.1 .2 10.8 .3-10.1 .3-25.2 .2-4.2 .3-6.8 .2-2.6 .3 4.3 .2-7.8 .3 14.2 .2-4.3 .3 5.3 .2-16.7 .3 8.4 .2 9.1 .3-17.4 .2 14.2 .3-10.6 .2 2.5 .3-7.9 .2 2.1 .3 16.7 .2-11.3 .3 7 .2-4.8 .2-.3 .2 1.1 .3-10.5 .2 4.4 .2-4.5 .3 3 .2-3 .2 5.4 .3 3.8 .2-7.3 .2 7.9 .3 11.2 .2 8.5 .2 10.4 .3 9 .2-1.8 .2-4.4 .3-3.3 .2 9.4 .2-25.3 .2-15.1 .2-7.1 .3 2.9 .2 10.3 .2 1.7 .3 10.5 .2-20.1 .3 3.7 .2-7.7 .2-4.7 .3-5 .2-4.7 .3 12.6 .2 7.1 .3-19.3 .2 6.9 .2-2.3 .3 6 .2-6.5 .2 8.4 .2 6.8 .2-.1 .3 6.9 .2-17.2 .2-5.2 .2 26.9 .3 14.6 .2 7.1 .3-10.7 .2 19.1 .2-4.5 .3 18.3 .2 3.3 .2-2.5 .2-.1 .3-3.2 .2-3.4 .2-17.5 .2 60 .3 34.8 .2-1.9 .3-13.3 .2-24 .3-11.7 .2 3.3 .3-13.8 .2-11.2 .3-1.7 .2 0 .3 0 .2 34.3 .3-.7 .2-1 .2-13 .3 14.7 .2 0 .2-18 .2-25 .3 6.7 .2-8.7 .2 6.2 .2-8.4 .3-9.9 .2-12.4 .2 6.1 .2-10.7 .3-16.4 .2 5.3 .3-10.6 .2 2.2 .3 19.5 .2-14.8 .3-6.4 .2 13 .3-4.1 .2-11.1 .3 12.1 .2-12.4 .3 2 .2 .3 .3 20.7 .2-8.5 .3 6.2 .2 16.4 .2-10 .2 11.6 .3-14.5 .2-1.1 .2-3.6 .3-15.4 .2-10.9 .2-2.8 .2 0 .2 5.4 .3 10.3 .2 23.5 .2-22.2 .2 3.9 .3 19.9 .3-10.5 .2-4.3 .2 12.1 .3 17.4 .3-32.1 .2-2.4 .2 3.3 .3 5.8 .3-4.5 .2-8.6 .2 5.4 .3 .1 .2-5.3 .3-10.9 .2-5.2 .2 2.8 .3-2.8 .2 1.9 .2 18.9 .2 22.8 .3 5.9 .2-5 .2 15.9 .2-12.7 .3-6.8 .2-3 .3 2.9 .2-14.3 .2 2.4 .3 10.6 .2-17.6 .2-1.8 .3 7 .2-.6 .2-5 .2 .5 .2 16.3 .3-3.3 .2-2.8 .2 21.2 .3-8.1 .2 14.8 .2 11.6 .3-13.1 .2-7.1 .2 64.8 .2 24.5 .3-1.3 .2 14 .2 15.7 .3 7.9 .2 4.2 .2-5.2 .2-29.6 .3-9.4 .2-8 .2-16.1 .2-1.6 .3 3.4 .2 12.1 .3 29.3 .2 6.3 .3 13.6 .2-1.5 .2-6.9 .3 1.4 .2 3.4 .3-12.5 .2-4.7 .3-14.6 .2 3.9 .2-7.7 .3-7.3 .2-15.7 .2 8.9 .2-22.7 .3-1.6 .2-2.2 .2 31 .2 2 .3 7.5 .2 4.5 .2 .1 .2-9.6 .3 22.5 .2-15.3 .2 8.2 .2-1.8 .3 3.4 .2 5.8 .2-1.6 .3 1.6 .2-24.3 .3-6.6 .2-12.4 .2-8 .2 1.1 .2-9.8 .2-10 .3 4.6 .2-16 .3-1.9 .2 .6 .3 18.7 .2-19.4 .2 2.4 .2 10.5 .2-12.8 .3 2.3 .2-8.7 .2 1.2 .3 .7 .2-.3 .2-8.5 .3 3.6 .2-4.5 .2-2.5 .2 5.1 .3-4 .2 7.1 .2-.1 .3-16.9 .2 13 .2 4.6 .2-6.9 .3-2.2 .2 .1 .2-7.1 .2-3.2 .2 16.6 .2-5 .3 .6 .2 5.5 .2-.1 .2-16 .2 3.4 .3 8.9 .2-12.6 .2 7.6 .3 1.1 .2 15.4 .3 13.5 .2-2 .2 22.2 .2-1.8 .3-10.2 .2 .6 .2 16.2 .2-11.2 .2 1 .3 9.5 .2 12.9 .2 7 .2 2.4 .2 12.8 .3 1.4 .2 9.2 .2 3.7 .2-5.4 .3 11 .2-20.6 .2 3.5 .2 2.8 .3 10.8 .2 19.5 .3 1.3 .2 7.9 .2 1.1 .3-5 .2 19.4 .3-24.2 .2 .3 .3-22.8 .2-1.6 .3 2.5 .2 15.9 .3-13.7 .2 15.2 .2-5.8 .2 5.4 .3-3.1 .2-6.8 .2-2.3 .2-.7 .2 1.5 .2 7.1 .2 10.3 .3-8.2 .2 15.2 .2 7.4 .2 11.6 .3 1.2 .2-2.9 .3 8.2 .2-1.4 .2-1.5 .3 2.5 .2-3.3 .3-5.5 .2-12.6 .3 2 .2-3.3 .2 5.2 .3 8.8 .2 4.7 .2-6.3 .2-4.5 .3 4.2 .2 6.3 .2 2.4 .2 29.2 .3 24.8 .2 18.8 .2-.9 .2 7.2 .3-11.4 .2 8.8 .2-4.8 .2 1.3 .3-.6 .2-.3 .2 7.1 .2 2.5 .2 20 .2 6.1 .2 2.3 .3 11.6 .2 12 .2 4.2 .2 19 .2-1.2 .2 3.1 .2-3.2 .2 2.7 .3 8 .2-8.6 .2 1.9 .3 18.4 .2 28.3 .3 17.9 .2-7.1 .3-6.7 .2-6.3 .2-5 .2-18.7 .2 3.7 .3-4.4 .2-4.5 .3 9.1 .2 8.9 .2-4.6 .3 11.5 .3 2.9 .2 4.6 .2 8.3 .3-2.9 .2 3.4 .3 10.7 .2-4.6 .3 13.2 .2 3.5 .2 12.2 .3 4.1 .2 9.1 .2 3.5 .2 2 .3-3.7 .2 2.8 .2-11.6 .3-8.5 .2-6.1 .3-8.2 .2-.7 .3-5.5 .2-9.4 .2-13 .2-8.8 .2-15.8 .2 .8 .2 2.2 .3 .1 .2-.4 .2 1.6 .3-1.6 .2 3.8 .3 7.8 .2-5.7 .3 4.8 .2-11.8 .2 4 .3-4 .2 1 .3 25 .2-2.2 .3 13.8 .2 13.8 .2 .2 .2 3.2 .3 8.3 .2 2.9 .2 .9 .3-1 .2-2.4 .2 .2 .2 1 .3-5.5 .2 4.7 .2-3.8 .2 0 .3 0 .2 .9 .2-.9 .3 9.5 .2 7.1 .3 10.6 .2 3.6 .3 3.1 .2 8.7 .2-4.3 .3 11.4 .2-3.4 .3 2.7 .2-4.3 .3 5.5 .2-.9 .2 3.8 .3 9.9 .2 5.3 .2 6.6 .2 6.4 .3 1.8 .2 4.5 .2-6 .3-1.7 .2-.1 .3-14.4 .2-5.2 .3-6.7 .2-.9 .2 .7 .3-7.3 .2-13.6 .3-2 .2-9.7 .3 3.2 .2-4.6 .2 1.4 .2-4.3 .3-11.4 .2 0 .2 .1 .2-.1 .3 0 .2 5.5 .2-4.6 .2 6.1 .3-2.7 .2-5.5 .2 3.8 .3 .2 .2-4.2 .2 3.2 .3 0 .2-.9 .2 .9 .3-7.1 .2-8.3 .3-7.5 .2-.2 .3-3.8 .2-4 .2-9.2 .3 6.6 .2-3.1 .3 2.1 .2-3.2 .3-7.2 .2-2.6 .2-2 .2-6 .3 8.9 .2-9.4 .2-.8 .2-1 .2-4.6 .3-1.5 .2-4.4 .2-9 .2-4.1 .2-2.7 .3 10.7 .2-11.8 .2-.1 .3 5.6 .2-6.3 .3-.4 .2 1.1 .2 20.1 .3 15.9 .2 5.1 .2 5.2 .2 1.8 .2-18.3 .2 10.6 .3 6.5 .2-10.1 .3 5.8 .2-.4 .2 10.8 .3 2.2 .2-.8 .2 11.2 .3-1.3 .2 4.5 .2-.8 .2 2.3 .3 0 .2-.9 .2-5.8 .3-2.6 .2-5.7 .2-6.6 .3-.1 .2-17.5 .3-19.8 .2-4 .3-4.8 .2-1.2 .2 10.7 .2 1.4 .3 4.4 .2-9.7 .2 1 .2 0 .2-1.8 .2-28.5 .2-.8 .2-2.4 .3 0 .2 0 .2 1.7 .3 3.1 .2-3.8 .3 1 .2-.9 .2 6.1 .3 2.5 .2 13.4 .2-13 .2-15.3 .2-19.7 .2-1.2 .2 2.4 .3 10.1 .2-5.7 .2 8.1 .2-.1 .3-.2 .2 4 .2 3.4 .2-20 .2-22.8 .2 6.1 .3-23.4 .2 6.6 .2-10 .2-2.2 .3 11.6 .2-11.8 .2 1.4 .3 3.1 .2-4.1 .3 2.3 .2-2.9 .2 2.9 .3-1.7 .2 .1 .2 .3 .2 12.5 .3 7.2 .2 6.4 .2-1.2 .2 9.8 .2-2.9 .2-5.9 .2-7.9 .3-23.4 .2-11.8 .2 1.3 .2 30.1 .3 3.8 .2 .1 .2 7.2 .3 8.4 .2-1.5 .3-6.3 .2 16.5 .2-15.6 .2-8.3 .3-22.2 .2 2.8 .2-2.9 .2 3.4 .3-14.2 .2 2.3 .2-1 .2 1.4 .3 13 .2 1.2 .2 3.3 .2 1.4 .3 9.5 .2 0 .2 0 .2-12.4 .3 8.5 .2 2.6 .2 1.2 .2-.9 .3-8.3 .2 .9 .2 8.4 .2-2.3 .3-4.1 .2-9.1 .2-6.5 .2-1.3 .3 13.4 .2 2.5 .3 6.7 .2-1.6 .2 11.7 .3-1.4 .2 .7 .2 1.2 .3-15.7 .2-8.8 .2-3.7 .2-8.6 .2-4.6 .2 .5 .2-1.3 .2 1.7 .3-11.2 .2 2.8 .2-1.5 .2 5.2 .2 9.2 .3-1.3 .2 7.5 .2-.5 .2-11.1 .2 8.8 .3 20 .2 8.8 .2 8 .2-6.1 .3-1.1 .2-9.2 .2 4.5 .2 7.8 .2 12.8 .2 1.9 .2 9.9 .2-13.6 .2-2.7 .3 .5 .2-7.1 .2 .5 .2 4.3 .2 8.1 .2-1.1 .2-3.9 .3 9.7 .2-4.6 .2 15.1 .2-8.1 .2 2.9 .3 6.4 .2-5.9 .2-3.9 .2 6 .2-8.9 .2 6.7 .2 4.3 .3-19.3 .2 5.6 .2-14.3 .2-.9 .2-3.6 .3 3.7 .2-8.2 .2 3.5 .2-2.3 .2 2.2 .2-3.4 .2 5.3 .3-.3 .2 1.5 .2 11.6 .2-7.3 .2 2.9 .3 .1 .2-2.6 .2-3.1 .2 3.8 .3 3.7 .2-11.6 .2-5.4 .2 7.2 .3-7.3 .2 4.6 .2 4.6 .3-3.7 .2-2.8 .3-5.3 .2-5 .2 13.7 .2 2 .3 4.8 .2 8 .2 6.1 .2-3.5 .2 2.8 .2 3.8 .3 2.9 .2 8.2 .2-2.3 .2-7.7 .2 9.9 .2 11.6 .3 1.8 .2-5.2 .2 11.4 .2-3.3 .2 15.7 .3 8.1 .2-6.1 .2 6.1 .2 4 .3 9.2 .2-9.9 .2 8.6 .2 14.7 .3-.5 .2 4.4 .2 1.6 .2 3.7 .3 5.7 .2 4.4 .2-2.9 .3-1.9 .2-2.9 .2-2.1 .3-14.6 .2-5.9 .2-10.5 .3 8.9 .2-7.8 .2 15.7 .3 2.3 .2-.3 .3-2.7 .2 2.5 .2 1.4 .3-4.6 .2 4.2 .2-8.4 .3 8.6 .2-.6 .3-1.7 .2 1.9 .2-14.3 .3 1.7 .2 3.6 .2-10.3 .3-6.3 .2-7.8 .2 5.9 .2-8.9 .3 16 .2-13.8 .2-1.4 .3-3.3 .2 2.2 .2 1.4 .3 4.3 .2 6.2 .3-3.1 .2-8.2 .2-14.6 .3 9.3 .2 3.4 .2-19 .3-5.2 .2 6.1 .3 8 .2-13 .2 13.4 .3 1.4 .2-9.3 .2 9.7 .3-3.3 .2-3.9 .2 8.1 .2 8.2 .3 21.7 .2-3.1 .2 4.3 .3 2.9 .2 4.9 .2-9.1 .3-.7 .2-13.4 .3-6.9 .2-3.2 .2-16.6 .3 1 .2 3.5 .2-.3 .3 7.4 .2-5.9 .3-11.2 .2-5.7 .2 .1 .2 1.6 .2 .1 .2-6.2 .2-3.1 .3 14.1 .2-2.8 .2-.8 .2-10.3 .2 3.9 .3-5.4 .2-18.3 .3-.9 .2-5.5 .3-5.5 .2 6.5 .2 3.3 .2-5.4 .3-6.5 .2-3.7 .2 9.4 .3-7.4 .2 .3 .3-3.3 .2 4.5 .2-.4 .3-1.9 .2-2.5 .2-16.9 .3 0 .2 4.7 .3 2.8 .2-7.5 .3 0 .2 1.3 .2 17.2 .2 4.8 .3-1.4 .2 5.3 .2 6.3 .3 11.5 .2 2.6 .2 6.9 .2-23.8 .3 8 .2-11.2 .3 7.5 .2 15.7 .2 4.8 .2-9 .3 8.4 .2 13.5 .2 7.9 .2-6.8 .2-30.6 .3 14.2 .2 5.1 .2-13.6 .2-5.7 .2-1.2 .2 4.4 .2 6.9 .3 2.7 .2-5.8 .2 9.8 .2-7.4 .2 3.6 .3 4.4 .2-2.1 .2-1.2 .2-15.4 .2-1.2 .2 2.8 .3 2.8 .2 9.1 .2 7 .2-1.6 .3-2.6 .2 6.5 .2 8.3 .2-23.5 .2-12.5 .2-2.9 .2-20.7 .2 11.8 .3 .7 .2 .2 .2 2.9 .2-15.6 .2-8.9 .2-3.3 .2 4.8 .3 1 .2-2.5 .2-2.8 .2-5.1 .2-1 .3 12.7 .2-14 .2 7 .2-2.2 .2-5.4 .2-.3 .3 8.9 .2-7.9 .2 2 .2-1.2 .2-2.5 .2 7.3 .3-.7 .2 2.7 .2-8.9 .2-.5 .3 0 .2 0 .2 1.3 .2 9.4 .3 4.7 .2-7.9 .2 2.5 .2 2.6 .3 3.1 .2 7.7 .2 7.9 .2 4.6 .2-3.5 .3-3.6 .2 23 .2 6.6 .2-6.9 .3-20.3 .2 6.7 .2-19.1 .2-5.9 .3-3.9 .2-7.7 .2-1.5 .2-14.6 .2 8 .3-6.7 .2 9.1 .2-9.8 .3 1.8 .2-3.1 .3 13.5 .2 5.9 .3 16.9 .2-1.3 .2 .6 .2 .7 .3-26.6 .2-11.3 .2-1 .2-3.8 .2-5.9 .3-4.1 .2 11 .2 5.3 .2-15.5 .3-15.3 .2 23.7 .3-5.4 .2-19.8 .2-1.4 .2 4.3 .3 8.3 .2 21.2 .2-10 .2 1.9 .3-4.7 .2 17 .2 16.1 .2 12.1 .3-17.6 .2 10.8 .2 10.7 .2-.3 .3 .5 .2 1.1 .3-8.6 .2-3.6 .2-10 .3-3.1 .2-7.1 .2 18.7 .2-5.3 .2-1.5 .3 8.1 .2-4 .2 15.1 .2 4.4 .2 0 .3 9.8 .2-13.9 .2 13.8 .2-1.2 .2-2.9 .3-17.7 .2-4 .3-4.3 .2-21.6 .2 0 .3-.1 .2 1.4 .2 7.2 .2 20.4 .2 11 .3 9.9 .2 10.8 .2-2.3 .2 2.5 .2 11.4 .3 4.2 .2-8.6 .2 6.8 .2 .6 .2-8.8 .3-4.5 .2 1.4 .2-7.2 .2-5.5 .3-4.6 .2-14.9 .2 3.7 .3 6.9 .2 9.4 .3 .8 .2 .2 .3 10.7 .2 13.7 .3 90.3 .2-18.7 .2-9.2 .3-.7 .2-5.3 .2-9.5 .3 2.1 .2-2.4 .2-2.6 .2 6.9 .3-.3 .2 .9 .2 13.4 .3 4.3 .2-3.9 .3 11.3 .2 4.5 .2-10.7 .3-9.4 .2-9.2 .2-7.8 .2 12.2 .3 10 .2 19.1 .2 16.1 .3 8.6 .2 8.7 .3 5.8 .2-2.4 .3 16.8 .2 7 .2-2.1 .2 3 .3 0 .2-10.5 .2-6.7 .2-8 .2-9.4 .3 8.8 .2-11.2 .2-2.8 .2-1.1 .2-10.2 .3-1.5 .2-20.5 .2-3.2 .3-1.2 .2-3 .3-7 .2 12.4 .2-3.9 .3 6.8 .2-4.6 .2-4.7 .2-13.8 .3 4 .2-17 .2 4.7 .3 15.3 .2 7.5 .2 15.1 .2 1.9 .3 3.2 .2 12 .2-5.9 .3-12.4 .2 23.7 .3 6.4 .2-3 .2-6.3 .3 4.7 .2 13.9 .2 9.9 .2-4.2 .2 3.5 .3 7.6 .2 11.6 .3-19.2 .2-12 .3-12.2 .2-14 .2-1 .2 6.2 .3 4.5 .2-.6 .2 6.9 .3 23.9 .2 2.5 .2 3.9 .2-9.3 .3 2.5 .2-17.7 .2-1 .3-6 .2 1.2 .3-7.7 .2 1 .2 1.2 .2 7.7 .3-.2 .2-2.1 .2 4.2 .2 8.2 .3 4.1 .2-.9 .2 .9 .3 0 .2-3.6 .2-14.6 .3-5.1 .2-9.1 .3-4.1 .2-1.4 .2-11.2 .3 1.2 .2-.6 .2-5.2 .2 2 .2 3.3 .3-6.6 .2 6 .2-5.9 .3 0 .2 2.1 .2 8.9 .3-3.1 .2-13.8 .3-4.4 .2 3.2 .2-7.6 .3 3.9 .2 11.1 .2-8.3 .2-7.2 .2 4.2 .3 11.3 .2-18.5 .2-1.1 .3 0 .2 2.8 .3 6.4 .2-9.2 .2 1 .3 8.6 .2 15.6 .2-7.5 .3-14.8 .2-2.8 .2-1.4 .2-2.5 .2-7.3 .3 0 .2 1.1 .2 4.9 .3-1.4 .2 2 .3 .5 .2 5.1 .2-3.4 .3 1.1 .2-1.4 .2 1.7 .2 .9 .3 12.1 .2 15 .2 6.1 .3-2.5 .2-4.4 .2 8.1 .2-7.4 .3 7.1 .2 4.9 .2-7.3 .3-1.5 .2 .8 .3 2.4 .2 1 .2-1 .3 11 .2-3.6 .2 16.1 .2-4.9 .2 9.6 .3-1.2 .2 0 .2 9.9 .3-5.6 .2 1.9 .2 9 .3-5.2 .2-8.9 .3 8.5 .2-.4 .2-2.8 .3-3.6 .2 7.4 .3 .5 .2 11.4 .2 .6 .3-3.8 .2 5.1 .2 6.3 .2-2 .3 12 .2 6 .2-8.6 .2-1.5 .3 7.6 .2-11.9 .2-2.1 .2-10.8 .3 10 .2-3.1 .2-2.2 .3-.1 .2-6.2 .2-3.5 .3-2.1 .2-6.5 .2-6.4 .3-3.6 .2 0 .2 4.8 .3 2.2 .2-6 .2 10.4 .3-6.5 .2 16.8 .2-1.8 .3 .6 .2 3 .3 2 .2 1.4 .2 .9 .3-2.4 .2 2.4 .2-7.5 .2 4.3 .3-13.5 .2 2.5 .2-1.8 .2-5.5 .2-1.7 .3-.8 .2 2.7 .2-2.2 .3-1.6 .2-3.8 .3-3 .2-4.3 .2-10 .3 7.2 .2-6.4 .2-.7 .3-4 .2 5.8 .3-3.7 .2-10.3 .2 3.5 .3 1.2 .2 4.8 .3-8.7 .2 2.9 .2-5.5 .2-5.2 .3-1.3 .2 4.1 .2-6.4 .2 4.2 .2-2.6 .3-3.5 .2-8 .2 9.4 .3-2.6 .2-2.7 .2 2.7 .3-3.6 .3-5.8 .2-10.3 .2 3.3 .3-4.4 .2 1.7 .3 17.5 .2 13.7 .2-7.5 .3 7.9 .2 8.6 .2-7.4 .2-3.2 .3-1.2 .2-9.4 .2 3.8 .2 .2 .2 3.7 .3-5.6 .2 1.1 .2-2.4 .2 .4 .3-11 .2 2.5 .3-4.1 .2 0 .3 1.1 .2 13.1 .2 1.4 .3 3.8 .2-13.3 .2 4.4 .3 7.1 .2 1.3 .2 6.3 .2-3.8 .2 2.2 .3-4.7 .2 6.8 .2 .5 .2 5.2 .2 7.5 .3 3.9 .2 0 .2-1 .2-17 .3 3.2 .2 1.8 .2-24.9 .3 1.6 .2-11.5 .3 5.5 .2-1.3 .2-7.1 .3-6.1 .2-1 .2-7 .3 11 .2-5.1 .2 1.8 .3 1.1 .2-1.4 .2-13.8 .3-1.4 .2 6.8 .2 5.1 .3-7.1 .2 6.1 .2 2.6 .2-1.8 .3-9.8 .2 6.2 .2-1 .2-8.7 .2 6.9 .3-2.8 .2-6.8 .2 3.6 .3-4.8 .2 0 .2 1.7 .3-1.7 .2 0 .2 .1 .3 8.8 .2-.6 .2 1.4 .3-1.6 .2 .5 .2-2.5 .3-15.6 .2-6.6 .3 4 .2 2.3 .2 4.4 .3 1 .2-10.5 .2-1.2 .3 10.3 .2-10.3 .2 13.5 .2 9.2 .3-12.7 .2 8.1 .2-5 .2 .9 .3-4.1 .2 5.2 .2 7.8 .2 2.4 .3 11 .2-.9 .2-.8 .3-1.9 .2 4.2 .3-10.6 .2 9.5 .2 1.1 .3-6 .2 3.2 .3-9.1 .2-8.9 .3 3.4 .2-11.3 .2 9 .2-2.2 .3-1.2 .2-.6 .2 2.3 .2-2.2 .3 7.2 .2-5.5 .2-3.2 .2 4.7 .3-4.8 .2 1.7 .2 3.9 .3-1.3 .2-1.8 .2-.1 .2 11.6 .3 .1 .2 1.9 .2-7.2 .3 1.4 .2 5.3 .2 5.6 .3 4.1 .2-1.1 .2 1.1 .3-21 .2 8.4 .2 8.2 .3-1.1 .2 .2 .2-18.5 .2 0 .3-8.5 .2-16.7 .2 6.8 .3-1.1 .2-4.3 .2 9 .3-12.4 .2-.2 .2-.2 .3 6.9 .2-7.4 .2 0 .2 0 .3 2.1 .2-1 .2 8 .3-6.3 .2-1.6 .2-1.2 .3 0 .2 1.8 .3-1 .2 1 .2 8.2 .3 1.5 .2 8.3 .2-3.6 .3 18.8 .2-7.7 .3-13.2 .2 5.4 .2 1.3 .2-3.8 .3 15.6 .2-7 .2 10 .2 5.2 .3 12.3 .2-1.7 .2 6.8 .2-11.8 .3 4.4 .2-9.4 .2 4.7 .3-11.7 .2-5.6 .3-2.7 .2 7.5 .2-17.7 .3-3 .2 .5 .2 5.6 .2-10.9 .2 9.8 .2-1.4 .3-3.9 .2 6.7 .3-10.7 .2-8.7 .3 3.4 .2-17.1 .2-3.9 .3 4.4 .2-8.1 .2 11.1 .2-7.4 .3 1.9 .2 .3 .2-6.3 .3 3.3 .2-3.6 .3-1.5 .2 9.1 .3-9.1 .2-3.5 .2 7.7 .3-9 .2 0 .3 0 .2 2.1 .3 .1 .2 5.7 .2-4.2 .3 6.1 .2 10 .2 4.3 .2 1.2 .3 5.7 .2 3.6 .2-22 .3 15.7 .2-9 .3 .8 .2-4.9 .3-16.3 .2-2.6 .2 5 .3 10 .2-3.5 .3-6.6 .2-3.6 .3-16.9 .2-1.1 .2 9.1 .3-7.9 .2 4.5 .2 1.6 .2 3.6 .3-8.1 .2 7.2 .2-7.2 .3-15.1 .2 18.8 .3 4.8 .2-3.8 .3-10.9 .2-1.6 .2-6.6 .2-4.3 .3 5.5 .2-8.5 .2-5.5 .2-.6 .2 .4 .2-1.8 .3 3.7 .2 5.3 .2 8.7 .2 5.1 .3-.3 .2 3.6 .2-1.4 .2-1 .3-4.5 .2-2.3 .3-5.1 .2-3.5 .3 0 .2 1.4 .2 .5 .3-1.4 .2-.5 .3 2.1 .2 .5 .3-1.7 .2 .5 .2 4 .3 3.8 .2 10.8 .2 6 .2 .8 .3-.5 .2-4.9 .2-.5 .3 6.8 .2 0 .2 0 .3 0 .2-1.3 .2 .8 .2-2.5 .3-25.6 .2-9.1 .2 0 .2 4.1 .3-3.2 .2 10.4 .2-9.9 .2 4.3 .3-.5 .2 .3 .2-5.4 .2 4.6 .3-4.7 .2 0 .2 4.7 .2-4.1 .3 .3 .2 3.9 .2-.3 .3-2.6 .2 .3 .2 .3 .2 .3 .3 10.3 .2 8.3 .2 4.8 .3-12.5 .2-1.8 .3 3.6 .2 3.2 .3 22.4 .2-1.3 .2 1.3 .3-10.7 .2-1.7 .3-11 .2-18 .3-7.4 .2 5.8 .2-14.2 .3-3.9 .2 0 .2 3.6 .2-.1 .3-3.5 .2 1.4 .2 18 .3-12.5 .2-3.3 .3-3.6 .2 0 .3 9.4 .2 8.7 .2-8.3 .3-8.4 .2 5.7 .3 10.8 .2-6.6 .3-1.7 .2-11.5 .2 6.6 .3 8.3 .2-9.9 .2 4.7 .2 0 .3-2.1 .2 .7 .2 1.4 .3 0 .2 0 .3-10.9 .2 5 .3-12.5 .2 5.4 .2-2.9 .3-1.6 .2 10 .3-10.3 .2 8.9 .3-6.9 .2-2.2 .2-7.3 .3 6.8 .2 4.6 .2-4.2 .2 2.9 .3-.7 .2-8.8 .2 7.3 .3 1.4 .2-5.4 .3 8.3 .2 .9 .3-6.5 .2-1 .2 0 .3 11.4 .2 0 .3 0 .2-2.8 .3 1.8 .2-.4 .2-8.8 .3 7.5 .2 2.8 .2-15.9 .2 5.4 .3-2.2 .2 4.5 .2-6 .3-4 .2-3.1 .3 7.4 .2-7.2 .3-.2 .2 1.5 .2 10.7 .3-1.6 .2 .9 .3-6 .2-1.9 .3 3 .2-1.8 .2-.8 .3-2.9 .2 .4 .2 .5 .2 .5 .3 7.5 .2 8.1 .2 5.3 .3 7.5 .2-10.1 .3 1.6 .2 .2 .3-4.5 .2 8.4 .2-1.4 .3 12.1 .2 4.6 .3-.2 .2-12 .3 11.8 .2-1.6 .2 .1 .2 3.8 .3-12.7 .2 6.2 .2 12.6 .2 11.5 .3-4 .2 2.2 .2 12 .3 .2 .2-8.6 .2-2 .2-3 .2 4.7 .3 13.1 .2-3.7 .2 9.3 .2 .8 .3-8.3 .2 .5 .3-15.6 .2-3.1 .3 11 .2-.3 .2-13.7 .3 7.7 .2 1.5 .2-3.7 .2 13.6 .3-6.3 .2-12.5 .2-.7 .3-.7 .2 8.3 .3-5.3 .2 3.8 .3 1.2 .2 1.8 .2 .3 .2 3.1 .3 2.4 .2-1.1 .2 4.6 .2-12 .3 1.1 .2 .4 .2 2.8 .2 6.2 .3 1 .2-3.1 .3-2.7 .2 1.2 .3-1.1 .2 16.9 .3 7 .2 6.4 .3 14.9 .2 1.2 .3 22 .2 4.7 .3 1 .2 2.8 .2-16.1 .2 5.4 .2 .5 .3-5.1 .2-5.3 .2-7.8 .2 10.6 .3 5 .2 .7 .3-8.3 .2 1.7 .3-1.8 .2-1.2 .2-5.5 .3-8.2 .2 3.4 .2 8.8 .2-9.1 .3-4.6 .2 3.5 .2-5.7 .2-4.6 .3-4.5 .2 4.7 .2-4.2 .2-4 .3-1.3 .2 0 .2 1.3 .2 3.9 .3 2.6 .2-1.1 .3 14.2 .2 1.6 .3-13.1 .2 20.2 .2 9.7 .2-3.6 .3-13 .2 3.4 .2 5.5 .2 11.4 .2 1.2 .3-13.9 .2 4.1 .3-4.4 .2-4.8 .3-1.8 .2 1.2 .2 4 .3 6.5 .2 9.9 .3-10 .2 10.2 .3 15.3 .2 5.8 .2 0 .3-17.2 .2-7.7 .2-2.1 .2-2.2 .3-5.9 .2 1.8 .2-15.2 .3 5.9 .2 12.4 .3-14 .2 10.3 .3-8.6 .2-2.5 .2 4.6 .3-20.7 .2-6.7 .3 17.7 .2 .5 .3-21 .2-1.1 .2 1.7 .3-1.6 .2 10.5 .2-4.5 .2-9.6 .3 4.9 .2-6 .2 0 .2 0 .3 2.3 .2-1 .2-1.3 .3 3.7 .2 1.7 .2 14.9 .2-10.8 .3 13 .2-10.8 .2-6.3 .2 10.8 .3 12.2 .2 4.6 .2 1.2 .3 0 .2 0 .2 .1 .2 0 .3-1.8 .2-5.2 .2 2 .2-17.1 .3-15.7 .2 3.1 .2 4.1 .3-1.7 .2 0 .3-7.1 .2-.5 .2 3 .3 .1 .2 3 .3-.3 .2-3.7 .2-2.7 .3 .7 .2-4.7 .2-1.6 .3 1.8 .2-.1 .2 3.7 .3-5.9 .2 4.5 .2 4.1 .3-4.3 .2-4.9 .2 3.7 .3-11.6 .2 2.4 .2 6.8 .3-2.6 .2-6.4 .2 1 .2-1.4 .3 .4 .2-1.4 .2 0 .2 6.4 .2 2.3 .3 4 .2-10.3 .2 1.2 .2 2 .3-1.2 .2-3 .2 .2 .3 14.4 .2 6.5 .2-7.8 .3 17.5 .2-9.5 .2-3.9 .3 13.3 .2 .2 .2-8 .3 13.9 .2 .2 .2 .3 .3 8.6 .2-7.5 .2 4.7 .2-5 .3 7.9 .2 5.1 .2 20.9 .2 1.6 .2-6 .3 1.3 .2 4 .2 3.8 .3-13.7 .2-9.6 .3-10.9 .2-19 .2 .3 .2 5.5 .3 5.6 .2-1.2 .2-7.5 .2 9.7 .2-7.9 .3-1.1 .2 0 .2-1.3 .2 .8 .3 .5 .2-10.8 .3-7.6 .2-3.4 .2 16.2 .3 5.2 .2-22.6 .2 12.7 .3-3.9 .2-2.5 .3 .6 .2-6.5 .2 20 .2 10.9 .3 10.5 .2 15.2 .2-3.4 .2 .2 .3 3 .2 8.4 .2 4.5 .3-7.2 .2 7.2 .2-.8 .3 .7 .2-1.1 .2 1 .2 .2 .3-20.6 .2-.9 .2 0 .2 1.8 .2 9.6 .3-6.9 .2-4.5 .2 1.2 .2 8.7 .3 15.4 .2 5.9 .2-3.7 .2 3.3 .3 1.1 .2 7 .2 4.4 .2-.9 .3-.3 .2 1.7 .2-4 .3 2.8 .2-10.1 .3-14 .2-5.1 .3 1.9 .2-16.2 .2 .9 .3-2.8 .2-14.6 .2 7.6 .3 8.4 .2-7.7 .3-10.2 .2 0 .2 0 .3 .9 .2 .4 .2 3.9 .3-5.2 .2 .1 .2 3.7 .3 11.4 .2-15.2 .2 2.4 .3-1.2 .2 1.1 .2 2.4 .3-.3 .2 9.7 .2 5.3 .3-8.8 .2 11.9 .2 3.6 .3-7.8 .2 3.8 .2 12.4 .3-4.8 .2 3.6 .2 1.2 .3-12.9 .2 9.9 .2-4.9 .2 1.3 .3 6.6 .2-3.3 .2 1.9 .3-3.2 .2 0 .2 3.5 .2-3.5 .3 0 .2 1.2 .2 9.9 .3-6.2 .2-4.9 .2 14 .3 17.3 .2-8.2 .2-7.5 .3 9.9 .2-3 .2 5.3 .3-3.8 .2 11 .2 1.5 .3 1.2 .2 8.7 .2 4 .3 12.8 .2-13 .2 11.5 .2-9 .3 5.4 .2-.4 .2-2.9 .2 4.1 .2 4.3 .3-12.7 .2 10.4 .2 8.5 .2-4.2 .3-3.2 .2 5.7 .2 .5 .3-14.2 .2 .7 .2-1.4 .3-14.3 .2-1.6 .2 5.9 .3 6.5 .2 4.5 .3-.4 .2 8.6 .3 1.8 .2 13.6 .2 1.1 .3-8.6 .2-8 .2-13.3 .3-4 .2 3 .3-4.1 .2-1.3 .2-6.1 .3-4.3 .2 3 .2-.4 .3 .6 .2-3.5 .2-.2 .3-5.8 .2-7.3 .2 1.2 .3-.3 .2-1.3 .2 4.3 .3-3.6 .2 3.3 .2-5.2 .2 8.8 .3 5.4 .2 .9 .2 0 .3 0 .2 0 .2 0 .2-9 .3 5.7 .2 2.1 .2-9.8 .3-10.1 .2-14.4 .2 17.9 .3 11 .2-15.5 .2-5.5 .3-5.5 .2-6.4 .2 6.4 .3 11.6 .2-.1 .2-7.5 .2-11.6 .3 1.4 .2 5.8 .2-6 .3 16.2 .2-13.8 .2 4.8 .2-2.4 .3 3.1 .2 9.1 .2 4.7 .3 4.6 .2 10.5 .2-5 .3-.5 .2-5.4 .2 13 .3-11.5 .2 13.1 .2-3.8 .3-6.6 .2 3.5 .2 2 .3-10 .2-.3 .3-4 .2-9.7 .2 0 .3 5.1 .2-3.9 .2 11 .3 14.9 .2 18 .2-12.5 .3 4.9 .2 17.4 .2-2.4 .3 12 .2-5.5 .2 7.1 .3 11.2 .2 4.8 .2-3.5 .3-1.8 .2-3.8 .2-15.1 .3-4.3 .2-7 .2 2.6 .3 2.6 .2-3.8 .2-.9 .3 4.1 .2-2.3 .2-2.4 .2 2.7 .3 2.5 .2-2.9 .2-3.3 .3 1.2 .2-1.2 .2-1.2 .2-1.3 .3-1.2 .2-10.8 .2 1.9 .3-1.6 .2-.2 .2 1.1 .3-8.6 .2-3.3 .2 2.6 .3-8.9 .2 0 .2 6.5 .3-7.6 .2-.1 .2 0 .3 0 .2 2 .2-4.7 .3-2.2 .2 14.6 .2 1.2 .3-1.2 .2 .2 .2-14.7 .3-.2 .2-9.6 .3-2.5 .2 4.7 .2 2.5 .3-7.2 .2 1.2 .2 3.7 .3 13.8 .2-8.4 .3 4.1 .2 15.4 .3 .3 .2-1.2 .2 1.2 .3 0 .2 0 .2 0 .2 0 .3-.1 .2-11.1 .2-1.4 .3-.4 .2 0 .2 0 .2 1.1 .3 .1 .2 0 .2 5.5 .3-6.7 .2 3.6 .2 1.3 .2-4.9 .3 0 .2 0 .2 3.2 .3 2.5 .2-2.5 .2 8.6 .2 .5 .3 2.7 .2-5.3 .2 6.7 .3-6.5 .2-2.9 .2 9.4 .3 2.9 .2 .3 .2 1.1 .3 .7 .2 .7 .2-1.1 .3 1.3 .2-10.1 .2 .7 .3-1.3 .2 8.7 .2 3.3 .3 0 .2-1.1 .2-.9 .2-8.3 .3-2.2 .2 1.8 .2-7.6 .2-4.5 .2-3 .3-2.7 .2-7.7 .2 3.1 .2 2.4 .3 1.1 .2 5.6 .2-5.2 .2 .6 .3-15.2 .2 11.9 .2-.7 .3-1.3 .2-10.8 .2-3.1 .2 5.1 .3 1.8 .2-2.8 .2 2.4 .3-10.1 .2 6.7 .2-7.5 .2 3.6 .3 2.5 .2-1.9 .2 4.8 .3-.7 .2-7 .2 5.5 .3 1 .2-4.7 .3 1.8 .2 3.8 .2-2.4 .3-2 .2-3.4 .3 .4 .2 6.1 .2-8 .3-.8 .2 10 .2-9.5 .2-2.2 .3 7 .2-.2 .2 2.1 .2-8.9 .3 0 .2 1.3 .2 4.7 .3-6 .2 0 .2 0 .3 6.3 .2-2.3 .2 7.7 .3-10.6 .2 9.4 .2-3.2 .3-10.4 .2 14.8 .3 0 .2-3.5 .2-5.1 .3-5.2 .2-10.6 .2-2.1 .3-2.1 .2-.1 .3-.6 .2 9.7 .2 8.5 .3-27.3 .2 8.7 .2-.2 .3-2.9 .2-6.4 .2 0 .3 1.8 .2-.5 .2-1.3 .3 12.4 .2-9.8 .3-2.6 .2 3.6 .2 4.5 .3 2.2 .2-2.9 .2-1.9 .3 9.2 .2-7.7 .2-1.9 .3 7.9 .2 1.8 .2-7.8 .3 2.8 .2 3.7 .2-22.4 .3-9.8 .2 .5 .2-11.1 .2-5.2 .2-17.4 .3 2.3 .2 4.8 .2-8.7 .2-5.2 .3-1.8 .2 11.8 .2-8.1 .2-2.4 .2-.8 .3-.8 .2-2.7 .2-.6 .2-.6 .3-.6 .2-.6 .2 5.2 .2 2.6 .3 1 .2-.4 .2-4.1 .3-5.7 .2 0 .3-.1 .2 1.5 .2-1.5 .3 0 .2 0 .3 20.5 .2-13.3 .2-2.6 .3 3.9 .2 16.3 .2 1.4 .2-2 .3-4.8 .2-10.2 .2 0 .2 .6 .3-.6 .2 0 .2 1.4 .2 11.7 .2-9.2 .3 9.2 .2-10.9 .2 3.7 .2 5.8 .2 1.4 .2 0 .2-9.7 .3-7.4 .2 6.1 .2-4.6 .2-1.3 .3-4.9 .2 5 .3 6.2 .2 .9 .2-2.5 .3-2.1 .2-5.2 .2-8 .2 4.1 .3-2.9 .2 9.6 .2 1.3 .2-10.6 .2-1.5 .2 0 .2 0 .3 0 .2 0 .2 10.6 .2-10.6 .2 8.1 .3 4 .2-10.1 .2-3.5 .2-1.5 .3 .1 .2 11 .2-4 .2 5.9 .3-1.7 .2-10.7 .3 10.1 .2-9.2 .2-22.3 .3 .4 .2 5.5 .2-3.3 .2 8.6 .3-9.8 .2 4.2 .2 3.1 .2 1.1 .3-4.7 .2-8.5 .2 1.5 .2-1.5 .3 1.1 .2 1.8 .2 5.9 .3 3.2 .2-.1 .3-5.6 .2 4.2 .2-6.2 .2 6.2 .2-4.1 .3-11.1 .2 6 .2-3.7 .2 .2 .3 4.2 .2 3.3 .2-9.5 .3-2.2 .2 5.5 .3 0 .2-2.8 .2-3.9 .2-.2 .3 1.6 .2 5.4 .2 .5 .2-7.5 .3 12.5 .2-5.1 .2-5.9 .2 6.1 .3-7.6 .2 8.7 .3 8.1 .2-4.4 .2 6.2 .3 0 .2-1.5 .2-8.4 .2 2.8 .3-8.1 .2 .3 .2-11.4 .2 1.4 .2 11.6 .2 10.7 .3-7.3 .2-15.2 .2 1.2 .2-2.5 .3 5.9 .2 12.7 .2-1.5 .2-7.1 .3-.1 .2 5.5 .3-2 .2 3.2 .2 2 .3-8.1 .2-7.7 .2-2.9 .2-4.4 .3 6.1 .2 1 .2 8.1 .2-.1 .2-2.5 .2-5 .3 .7 .2 4.2 .2-21.5 .2 5.8 .3 8.4 .2-38.3 .2 10.6 .2-.6 .2 10.5 .3-13.6 .2-2.8 .2-11 .2 3.2 .2 6.1 .3-4.1 .2-2.1 .3-2.2 .2-.3 .3 2.2 .2 1.8 .3-.5 .2-9.9 .3-1.7 .2 2.1 .3 22.5 .2-16.5 .2 10.2 .2-5.7 .3-1.8 .2-5.8 .2 4.4 .2 20.8 .2 31.1 .2-19 .2-2.3 .3 4.4 .2-4 .2-5 .2-11.3 .2 9.7 .3 5.6 .2 14.8 .2-1.7 .2-1.6 .2-3.8 .2-2.3 .2 3.9 .3 3.8 .2-8.2 .2-3.7 .2 8.6 .2-7.2 .3-.7 .2 1.3 .2 11 .2-2.7 .2-2.3 .2 5.1 .3 8.8 .2 2.9 .2-3.4 .2 1.9 .2-16.2 .2 1.2 .2 2 .3 10.4 .2-9.4 .2-3.6 .2 .6 .2-4.2 .3 3.8 .2-20.2 .2 4.7 .2-5.4 .2-5.9 .3 15 .2-14.8 .2 1.5 .3 3.2 .2 3.1 .3-.7 .2-7.9 .2 2.1 .2 3.7 .3-7.4 .2 0 .2 0 .2 0 .3 0 .2 8.9 .2-3.4 .2 11.5 .3 .4 .2 5.5 .3-6.5 .2-3.1 .2-1.2 .2 2.8 .3-5.3 .2 5.5 .2 3.7 .2 9.4 .3-8 .2 8.8 .2-1.5 .2-6.3 .2 13.6 .3-1.8 .2 1.7 .2-5 .2 16 .2-2 .2-15.9 .2 3 .3 2.9 .2 .2 .2 1.4 .2 4.2 .2 7.6 .3 1.4 .2 3.4 .2 5.1 .2 .4 .2 5 .3-8.7 .2 3.8 .3 4.5 .2-9.3 .3 12.6 .2-1.5 .2-3.5 .3-7.6 .3 4.9 .2-9 .2-4.7 .3 8.3 .2-2.7 .2 2 .3-.7 .2-4.7 .2 5.3 .2-9.6 .2 2.8 .2-5.1 .2 4.4 .3 5.3 .2-2.2 .2-7.8 .2-1.5 .2 .3 .3 11.2 .2-7.9 .2-1.6 .2 2.1 .2 10.3 .2-12.4 .3 21.3 .2-2.1 .2-3.7 .2 4.7 .3 2.1 .2 2.5 .3 5.9 .2 3.8 .3-9.2 .2-4 .3-14.2 .2 1.5 .2 9.5 .3 1.6 .2-2.9 .3 3.2 .2 .2 .2-10.2 .2 4.7 .3 1.6 .2 7.1 .2 .9 .2-10.5 .2-1.5 .2-.5 .2 5.6 .3-8.7 .2 3.6 .2 10.5 .2-6.3 .2 7.8 .3 0 .2-1.7 .2-26.9 .2 9 .2 9.6 .2-4.6 .2-1.1 .3-12.1 .2-6.4 .2 1.6 .2 19.4 .3 3.5 .2 21.2 .2 1.5 .2 4.1 .2 0 .3 9.5 .2-10.7 .2 8.6 .2 1.5 .2 5.7 .3-5.6 .2 2.8 .2-3.3 .2 9.2 .2 11.1 .2 .9 .3-2.3 .2 3.7 .2 1 .2-6.6 .2 1.7 .3-10 .2 11.6 .2 7.5 .2-3.5 .3-10.1 .2 12.2 .2 0 .3-1.6 .2 1.7 .2 7.1 .2-.8 .3-4.2 .2 .4 .2 1.9 .3 1.6 .2 11.9 .2-1.6 .3 4.4 .2 .6 .2-7.5 .2 5.9 .3-6.3 .2-7.9 .2 1.4 .3 2.6 .2 11.4 .3-4.1 .2 9.4 .3-5.5 .2 .5 .3 11.4 .2-2.6 .2-7.8 .3 9.1 .2 4.4 .2 6 .3 4.1 .2 3.9 .3-2.5 .2 1.2 .2 1.3 .3 0 .2-3.6 .2-16.4 .2-5 .2 5.1 .3 7.1 .2-13 .2 11 .3 1.2 .2-22.6 .2 6.4 .2-7.6 .3-6.1 .2 12.7 .2 5.3 .2-1.1 .3-1.1 .2-10.3 .2-8.1 .3-11.6 .2 22.4 .3-4.3 .2 .4 .2 3.3 .3-5.2 .2 1.6 .3-17.8 .2-2.1 .2 1.4 .3 .6 .3 7 .2-7.9 .2 3.4 .3-6.7 .2-5.2 .3-3 .2-11.5 .2 8.5 .2 6.5 .3-12.8 .2-.8 .2-18 .3-.3 .2 10.1 .2 4.6 .3-21.3 .2 10.8 .3 4 .2-11.6 .2 5.9 .3 0 .2-7.6 .2-1.5 .3 0 .2 0 .2 0 .2 1.9 .3 17.6 .2 3 .2 0 .2 0 .3 0 .2-1.5 .2 1.5 .2 0 .3-6 .2 .9 .2-28.5 .2 5.9 .2 16.5 .3-12 .2 6 .2-14.9 .2 3.2 .3 1.2 .2-2.5 .3 1 .2-4.1 .2-.3 .3 .2 .2 8.5 .3 .5 .2-1.6 .2 6.2 .3 9.8 .2-.1 .2-.7 .2 4.8 .3-15.7 .2-5.5 .2 1.3 .2 22.5 .3-1.8 .2-2.4 .2-1.2 .3 1.8 .2 8.7 .2-13.7 .3-.3 .2 4.4 .2 22.2 .3-1.9 .2 4.4 .2-19.1 .2 5.8 .3-18.5 .2 8.8 .2 .5 .2-14.9 .2 9.9 .3-19.3 .2-1.9 .2 12 .2 2.4 .3-19.2 .2-2.4 .3-.6 .2 14.5 .2-1.9 .3-.8 .2-2.8 .3-9 .2 1.5 .2 5.6 .3 2.5 .2-9.6 .3 0 .2 0 .2 0 .3 2.6 .2 8 .3-1.3 .2-4.7 .2-3.3 .2 .3 .3 .5 .2 2.6 .2-2.3 .2 .3 .2 .3 .3 1.6 .2 11.3 .2 10.1 .2-1.8 .2-4.6 .3 15.6 .2 15.3 .2-2 .2 4.4 .3 3.9 .2 0 .2-9.3 .2 5.6 .3-5.4 .2-.2 .2 7.9 .2-10.9 .3 1.3 .2-4.9 .2 15.9 .3-11.9 .2-4.9 .2 9.8 .3-.8 .2-22.8 .2-5.1 .3 2.2 .2 0 .2 .2 .3-1.4 .2 7.1 .2-10.2 .3-8.3 .2 .3 .2-3.8 .3 7.8 .2 3.2 .2-11.8 .2 6.6 .3-.6 .2 1.9 .2-.6 .2 11.7 .3-12.1 .2-5.4 .2-1.5 .3 4.8 .2-4.8 .3 12.6 .2 6.4 .2 6.5 .3 1.6 .2-3.7 .3-1 .2 12.7 .2-1.9 .3-1.2 .2-8.3 .2-11.3 .3 7.8 .2-9.3 .2-3.9 .3-8.5 .2-3.1 .2 .3 .3-3.7 .2 4.8 .3 4 .2-3.6 .2-1.8 .3 1.1 .2-1.7 .2-1.6 .3-1.7 .2-1.6 .3-13 .2-2.9 .2 5 .3 4.3 .2-8.1 .3 5.2 .2 .7 .2 .2 .3-1.8 .2-6.5 .2 .5 .3 1.2 .2 2.4 .3-2.2 .2 5.2 .3 .1 .2 7.6 .3-4.4 .2 7.4 .3-21.9 .2 20.4 .2-3.7 .3 5.2 .2-3.8 .3-4 .2-10.7 .2 9.1 .3-17.5 .2 22.5 .3-5.8 .2-24.9 .2-5.6 .3-2.2 .2-.7 .3 5 .2 10.8 .2-3.3 .3-3.3 .2 0 .2-4.4 .3-7.1 .2 9.2 .3-9.2 .2 1.6 .2 5.7 .3-7.3 .2 5.5 .2-5.5 .3 6.3 .2 9.7 .2-8 .3-7.6 .2 4.3 .2-3.7 .3 .4 .2 29.3 .2-2.4 .2-6 .3 8.4 .2-1.6 .2 .4 .3 3 .2-9.7 .3 7.7 .2-15.2 .3 1.6 .2 14 .3 16.2 .2 9.2 .3-16.6 .2 22 .3 4.1 .2 36.5 .2 2.2 .2-5.1 .2 6.9 .3 12.7 .2 51.8 .2 17.2 .2 9.3 .3 10.4 .2 17.7 .3 23.7 .2 17 .3 13.4 .2 .3 .3 16.3 .2 12 .2 .5 .3-14.9 .2-5.8 .3-14.5 .2-9 .2 1.7 .3-16 .2-8.2 .3-9.2 .2 1.1 .2 8.1 .3 4.6 .2 3.7 .2-4.9 .2 3.8 .3 7.2 .2-1.1 .2-7.4 .3-11 .2-5.4 .3-4.5 .2-18.3 .3 9.9 .2-6.5 .3 2.7 .2 2.3 .3-.3 .2 2.4 .3-12.8 .2 9.7 .3 1.5 .2 12.2 .2 8 .3 3.4 .2-14.3 .2 14.2 .3 0 .2-1.1 .3-7.5 .2-23.7 .3-9.2 .2-11.5 .3 1.7 .2-.8 .3-4.6 .2-20.3 .3 8.1 .2 .6 .3 2.2 .2-2 .3-.8 .2-11 .3-5.6 .2-10.3 .2-1.6 .2 2 .3 1.2 .2-10.5 .2 13.9 .2-10.5 .2 7.9 .3-1.5 .2-.6 .2-6.4 .2 3.2 .3 .9 .2-.3 .3-16 .2 6.6 .2-1.9 .3-4.1 .2-6.5 .3-10.8 .2 7.5 .2-9 .3 8.4 .2-8 .3-5.7 .2 1.3 .2 7.3 .3 6.7 .2-1.2 .3-1.2 .2-10.8 .2-9.1 .2-.9 .3-.6 .2 1 .2 2.3 .2 1.6 .2 .7 .3-3.3 .2-2.3 .2 1.4 .2-1.4 .3 6.4 .2-3.1 .2-3.2 .3 0 .2-.1 .2 4.2 .2-3.7 .3 4.6 .2 3.8 .2 0 .3 0 .2-1.4 .2-5.1 .3-.4 .2-.5 .3 2.2 .2-.6 .2-2.7 .3 8.1 .2-2.7 .2-5.8 .3 0 .2 0 .3 5.9 .2-4.5 .3-.5 .2 6.8 .3 13.9 .2-7.7 .3 5.7 .2 21.5 .2-12.4 .3 .2 .2-2.9 .2-8.5 .2-11.4 .3 0 .2 7.1 .2-7.1 .2 0 .3 2.3 .2-.9 .2 4.6 .3-4.9 .2 5.4 .2 9.6 .3-4.3 .2-11.8 .2 5.5 .3 2.5 .2 5.7 .2-6.2 .3 22.9 .2 9.5 .3 .4 .2 12.2 .3 .9 .2-3.8 .3-6.3 .2-9.4 .3-26.4 .2-13 .3-30.4 .2-13.6 .2-16.3 .2 5.9 .2-6.2 .3 6.9 .2 1.6 .2-4.9 .2-4.6 .3-14.2 .2 4.2 .3 13.4 .2-17.1 .3-23.1 .2-12.1 .3 0 .2 0 .3 0 .2 0 .3 1.7 .2-1.7 .2 10.4 .3-7.5 .2 8.6 .2 2.2 .2-7.9 .2-6.5 .3 13.8 .2 .6 .2-1.6 .3-12.9 .2-9.9 .2 14.3 .3-.3 .3-19.8 .2 10.8 .2-4.8 .2 10.4 .3-14.2 .2 1 .2 12.7 .2-21.6 .2 0 .3 0 .2 6.6 .2-4.9 .3-1.7 .2 11.4 .3 12.7 .2 5.4 .3-3.3 .2-.8 .2 6.2 .3-22.4 .2 14.4 .2 12.3 .3 0 .2-1.6 .2-4.9 .3-8.5 .2 8.6 .3-11 .2-9.5 .3-1.4 .2-12.3 .2-2 .3 3.3 .2 1.9 .2-11 .3-1.9 .2 9.7 .2 1.9 .2 1.3 .3-7.9 .2 .5 .2 10.8 .3-.6 .2-19.9 .3 12.7 .2-13.2 .2 7.1 .3-9.5 .2 3.6 .3 5.5 .2 8.2 .3-16.4 .2 9 .2-10.7 .3 18.9 .2 5.8 .2-19.8 .2 4.9 .2 13.5 .3 3.9 .2-3.1 .2 1.4 .2-17.6 .3 2.8 .3-2.3 .2 2.9 .2-10.3 .3-12.6 .2-4.1 .3-4.1 .2-12.8 .2-7.7 .3 8 .2-4.5 .2-6.9 .3 8.1 .2-16.2 .2 25.2 .3-7.5 .2-8.3 .3-7.6 .2 4.2 .2-9.3 .2 .1 .2-3 .3 7 .2 1.1 .2-8.9 .2 10 .2-6.6 .3-6.4 .2-2.1 .2 12.1 .2-3.1 .2-8.9 .2 7.9 .3-2.2 .2 1.3 .2-8.5 .2-2.6 .2-4.2 .2 2.5 .3 3.3 .2-11.9 .2-6.3 .2-1.4 .3 19.6 .2-.6 .2-11.3 .2 4.7 .3 3 .2-1.7 .3-10.3 .2-9.3 .2 8.4 .3-1.3 .2-5.2 .2 4.6 .2-6.6 .2 4.1 .3 .1 .2-4.2 .2 11.1 .2-1.7 .2-4.7 .3-2.2 .2 5.1 .2-2.1 .2 13.3 .2 11.9 .2-6.3 .2 5.4 .3-10.1 .2-5 .2 9.3 .2 19.5 .2 .6 .3 0 .2 0 .2 0 .2-1.9 .2 1.9 .3 0 .2 0 .3-9.9 .2-15.6 .2 20.1 .3-16.3 .2-6.2 .2-9.6 .2 0 .2 5.4 .3 4.9 .2-9 .2 .6 .2-1.3 .2 10.4 .3-6 .2-4.2 .2 8 .2 14.9 .3 6 .2 6.5 .2-1.9 .2-3.9 .2 5.8 .3 0 .2 0 .2-.7 .2-15.5 .2 2.6 .2-20.6 .2 6 .3-5.5 .2-2.1 .2-1.1 .2-2 .2 2.4 .2 3 .3-5.4 .2 14 .2 3.5 .2 28.3 .3 1.8 .2 1.2 .2-8.6 .3-8.5 .2 19.6 .3 .9 .2-7.4 .2 4.4 .2-18.6 .3 13 .2-3.4 .2 16.8 .2 0 .3-6.2 .2 6.1 .2-1.8 .2 1.8 .2-6.3 .2 4.5 .3-1.5 .2-6.4 .2-8.9 .2-11.1 .3-1.1 .2-1.6 .2 12 .3-.9 .2 6.9 .3-10.5 .2-6.7 .2-6.3 .2 8.4 .3-6.9 .2-1.1 .2 11.3 .2-18.4 .2-2.9 .2-10.9 .2 6.6 .3 2.7 .2-4.7 .2-14.1 .2 11.4 .2-3.4 .2-2.8 .3-.2 .2 .3 .2 5.1 .2 12.5 .2 26.6 .2-26.2 .2 11.8 .3 14.6 .2 2.1 .2 14.3 .2-14.4 .2-3.1 .3-21.2 .2-3.4 .2 1.9 .2-1.9 .2 0 .3 8.8 .2 2.4 .2 12.1 .2-1.9 .2-.2 .3-7.3 .2-7.3 .3 4 .2-15.2 .2 .7 .3 9.5 .2-21.8 .2-12.4 .3 5 .2-9.3 .3-10.5 .2 16.9 .3-5.8 .2-9.8 .2 .6 .2 12.4 .3-3.1 .2-.5 .2 24.8 .2-.5 .2 15.1 .3-2.5 .2-8 .2 16.2 .2 8.2 .3-1.8 .2 18.1 .2-18.6 .3-5.1 .2 13.5 .3-37.7 .2 6.1 .3-3.1 .2 6.3 .2-1.8 .2 4.1 .3 13.8 .2 14.8 .2-13.1 .2 44.7 .3-20 .2-.2 .2-4.5 .2-.5 .2-5.5 .3-.8 .2 28.2 .3 22.6 .2 1.8 .3 15.1 .2 15.1 .3 27.8 .2 9.6 .3 8.5 .2 10.6 .2-5.5 .3 3 .2-29.5 .3-3.2 .2-27 .2-16.5 .3-3.7 .2 2.3 .2-9.2 .2 8.7 .3-.7 .2-18.3 .2-10.3 .2 1 .3 1.7 .2-10 .2 12.8 .3 12.3 .2 6.2 .3-.5 .2-6.8 .2-5.8 .3 8.6 .2 1.2 .3-16.8 .2 19.3 .2 15.1 .3 1.3 .2-1.4 .2-3.1 .3-17.9 .2 5.4 .2-.9 .3 13.3 .2 3.5 .2 17.2 .3 34.7 .2 7.7 .2 20.1 .2 0 .3-8.2 .2 6.6 .2-16.1 .2-6.7 .2-2.4 .3-14.5 .2-2 .2-6.5 .2 8.4 .2 4.2 .3 11.7 .2 15.3 .2 4.9 .2-5.1 .2-15.1 .3 1.7 .2-9 .2-25.4 .2-10.1 .2 .6 .3 11 .2 26.5 .3 12.8 .2-6.7 .2 18.2 .3 3.9 .2 17.1 .3 14.4 .2-1.5 .2-20 .2-2.4 .2 5.6 .3 .9 .2-8.9 .2-3 .2 2.4 .2-3.9 .3 0 .2 0 .2 0 .3 0 .2 0 .2 3.4 .3 16.3 .2-1.5 .3 16.5 .2 20.5 .2-8.1 .3-6.2 .2 1 .2-8.4 .2 15.4 .2-28.2 .3-1.1 .2-16.2 .2-6.4 .3 5.9 .2 2.5 .3-6.6 .2-5.1 .2-8.3 .3 5.1 .2-13.1 .2 21.8 .2-3.9 .3 17 .2-1.5 .3-27.3 .2-22.7 .2-1.6 .3 0 .2 8 .3-.4 .2 5.6 .2-13.2 .3 .2 .2 6.9 .2 15.3 .2 25.5 .2 8.9 .3-4.8 .2 13.4 .2-3.8 .2 .4 .2 16.6 .3 11.5 .2-1.5 .2-3.9 .3-5.2 .2-4.3 .2-4.3 .3-7.6 .2-24.4 .3 0 .2 1.6 .2 13.6 .3 5.1 .2 30.4 .2 4.6 .2 17.1 .2-.4 .3 26.2 .2 7.1 .2-9.9 .2-12.2 .3-17.7 .2-15.8 .2 11.5 .3 6.7 .2-19.6 .3 11.2 .2 28.8 .2-9.3 .3-6.7 .2 21.9 .2-6.2 .2 2.2 .2-6.5 .3-7 .2-6.3 .2-7.7 .3-23 .2-21.5 .2 3.7 .2 11.4 .3-7.7 .2 .8 .2 18.2 .2-2.3 .2-18.9 .3-9.8 .2 1.4 .3-13.8 .2 4.1 .2-14.7 .3-21 .2-16.2 .2 1.1 .3 2.3 .2-3.9 .3-2.4 .2-15.6 .3 14.8 .2-2.7 .2 7.2 .3-20.4 .2-10.1 .2 1.8 .2 9.1 .3 4.9 .2-5.4 .2 3.5 .2-15.8 .3 1.2 .2 .5 .2 7.3 .3-4.6 .2-3.6 .3-.8 .2 0 .2 0 .3 .3 .2 5.2 .2-10.2 .3-7.4 .2 17.3 .3 13.5 .2-1.7 .2 1.1 .3-15.4 .2-25.1 .3 3.3 .2-12.2 .2-21.7 .3-8.3 .2 13.5 .3-9.1 .2-.4 .2 5.9 .3-11.9 .2 4.3 .2-16.4 .2 12.6 .3-12.5 .2-.5 .2-4.1 .3 0 .2 5.7 .2 4.5 .2-8 .3 6.2 .2-6.5 .2-1.9 .2 0 .3 0 .2 0 .2 0 .2 1.5 .3 8.3 .2 3.4 .2-8.7 .2 13.2 .3-8.7 .2 2 .3 7.1 .2-9.2 .2 .4 .3 8.8 .2-1.9 .2-13.6 .3 0 .2 1.9 .2 7.9 .3-.2 .2 9.4 .2-3.9 .3 6.7 .2 0 .3-10.8 .2 9 .2-27.4 .2 3.9 .3-1.7 .2-6.5 .2-6.6 .2 4.6 .3 2.8 .2 9 .2-17 .2-14.3 .2-2.8 .3 7.8 .2-10.1 .2-7.2 .2 2 .2 10.7 .3-3.7 .2 29.9 .2-21.3 .2 15.5 .3-6.2 .2-11.4 .2-4.5 .2-20.1 .2-2 .2 2.3 .2 2.3 .3 8.8 .2-13.4 .2 11.1 .2 15.9 .2 6.8 .2-1.1 .3 1.1 .2-.1 .2-1.9 .2-6.2 .2-10.6 .3 4.5 .2-1.3 .2 0 .2 2 .2-2 .2 .1 .2 13.7 .3 14.3 .2-14 .2 8.6 .3 11.9 .2-1.3 .2 21.8 .3 16.9 .2-7.7 .2 .3 .3-16.3 .2-16.5 .2 13 .2-.1 .2-6.3 .3-5.3 .2 8 .2-17.2 .2-2.8 .3-5.3 .2 .4 .2-1.9 .2 13.6 .3-6.6 .2 8.4 .2 8.6 .2 9 .2 9.1 .2-10.7 .2-8.8 .3-7.6 .2-12.4 .2 1.9 .2 2.4 .2 26.3 .2 12.8 .2-21.7 .2-27.5 .2-4.2 .3 .4 .2-6.5 .2-7.9 .2-2 .2 3.4 .3-3.4 .2 0 .2 0 .2 5.9 .2 20.5 .2-12.4 .2 6.7 .3 2.2 .2-7.2 .2 29.1 .2-2 .2-5.8 .3-6.7 .2 3.2 .2-11 .2-8.9 .2 16.5 .3-4.9 .2 4.5 .3-4.4 .2 15.6 .2 7.3 .3 7.8 .2 5.6 .2-3.9 .2-12.4 .3-15.4 .2 11.2 .2-.6 .2 16 .3-24.9 .2-1.7 .2 1.9 .2 7.4 .2-9.3 .2 9.7 .3 1.1 .2 4.3 .2 27 .2-35.5 .2 7.7 .3 2.2 .2 18.2 .2-12.7 .2 1.9 .2 .2 .2-2.1 .2 19.2 .3 9 .2 .1 .2-8.2 .2 19.6 .2-.8 .2-12.1 .3-8.7 .2 22.2 .2-3.4 .2-13.9 .2 15.6 .3 4.9 .2-4.4 .2 5.1 .2-4.7 .2 5.4 .2-9.1 .2 22.9 .3 7.6 .2 17.4 .2-1.7 .3 .7 .2-20.5 .2 12.3 .3-23.5 .2-4.2 .3-4.6 .2-1.7 .2 6.8 .2-8.8 .3-.9 .2 1.9 .2 2.4 .2-12.6 .3 1.2 .2-4.5 .2 9.6 .2-23.3 .2-16.1 .3 .6 .2 4.5 .2-.5 .3 10.1 .2-3.7 .3 1.3 .2-14.3 .2-5.8 .2 6.8 .2-3.8 .3 11.7 .2-1.9 .2-1.9 .2 1.9 .2-17.3 .2-19 .3-11.6 .2 13.4 .2-11.4 .2-2 .2 0 .3 1.7 .2 11 .2 8.7 .2-11.7 .2 2 .3 0 .2-14.8 .3 14.8 .2 6.7 .2-9.2 .3 2.1 .2-19.7 .2 22.6 .2 7.3 .3-10.1 .2 8.7 .2 .1 .2 7.7 .2-4.2 .2 .8 .3 20.8 .2 0 .2 0 .2-1.9 .2 1.9 .2-2.9 .2 2.9 .3-33.2 .2-8.1 .2-2 .2 7.1 .2-9.1 .3 15.7 .2-10.1 .2-5.6 .2 22.4 .3-.6 .2 1.5 .2-1.9 .2 1.9 .2-2.9 .3-28.9 .2 12.5 .2 9.7 .2-11.7 .2-16.6 .2 5 .2-.3 .3 2.3 .2 8.1 .2-10.2 .2-3.4 .2 4.9 .2-19.7 .2-1 .2-13.4 .2 3.4 .3-6.1 .2 .2 .2 2.7 .2 10.3 .2-18.5 .3 9.1 .2-6.8 .2-7.3 .2-2.7 .2 7.7 .2-6.5 .2 13.4 .2-16.7 .2 18.8 .3 0 .2-.8 .2-14.9 .2 2.9 .2-2.1 .2 13.9 .2-13.9 .3 9.3 .2 17 .2-10.9 .2-15.4 .3 1.7 .2 10.7 .2-1.7 .2 3.4 .2 27.2 .2-16.3 .3 16.2 .2-3.4 .2-10.4 .2 8.7 .3 6 .2 8.3 .3 2 .2-6.4 .3 4 .2-21.7 .2-7.8 .2 8.7 .3-10 .2 20 .2-22.9 .2 .4 .2-10.3 .3 2.1 .2-10.3 .2-11.2 .3 .3 .2 2.2 .3-2.5 .2 1 .3 22.1 .2-21 .2 32.8 .2 2 .2 0 .2-3.1 .3-16.4 .2-2.8 .2 1.7 .2 1.2 .2 27.4 .3-3.7 .2 4.4 .2-13.8 .2 10.8 .2 20.3 .2-9.4 .3 25 .2-27.8 .2 5 .2 12.9 .2 .8 .3 19.2 .2 13.7 .2 4.5 .2-10.5 .3 7.5 .2-15 .2 .1 .2 16 .2-10 .2 4.4 .2-18.4 .3 7.5 .2-6 .2-8.6 .2 4.3 .3 4.1 .2 6.4 .3-17.6 .2-11.5 .2 25.6 .2-24 .2 24.3 .3 11 .2-19.3 .2 17.4 .2 .4 .2 4.2 .3 7.9 .2-14 .2-7.4 .2 1.1 .2 6.2 .2 25.9 .3 .1 .2 6.7 .2-31.6 .2 10.7 .3-13.5 .2 29.5 .2-30.1 .2 2.7 .2 .4 .2-16.6 .3-22.3 .2 20.9 .2 .6 .2-20.1 .2 23.1 .3-9.6 .2-23.9 .2 9.9 .2-7.9 .2 14.7 .3-1 .2-.2 .2-1 .3 3.4 .2 19.2 .3-12.2 .2 13.4 .2 1.9 .2-.5 .3 .2 .2-2.4 .2 2.8 .2-4.5 .3-16.8 .2-9.8 .2-9.8 .2-14.1 .2-14.2 .2 0 .3 18.7 .2-10.3 .2-6.4 .2 17.9 .2-.2 .2 20.3 .2 1.8 .2 11.4 .2 1.8 .3 1.7 .2-1.3 .2-10.2 .2 6.7 .3 11.8 .2-5.4 .3 3.3 .2-2.9 .2-16.2 .3 10.4 .2 7.8 .2 7.5 .2-10.3 .3-6.8 .2 19 .2-9.2 .2-.3 .3-2.2 .2 1.4 .2 12.6 .2 5.6 .2 13.9 .2 1.3 .2 4 .2 16.6 .3-19.6 .2 10.7 .2 4.9 .2 11.9 .2 14.7 .2-5.3 .2-.9 .3 6.2 .2-3.4 .2 1.6 .2-5.2 .2 1.8 .3 .8 .2-6 .2-14.2 .2 24.6 .3-26.3 .2-9.8 .2 12.3 .2-23.7 .2-.2 .2 .7 .3 31.6 .2-1.6 .2-28.8 .2 1.8 .2 1.3 .3 10.6 .2 29.5 .2-8.9 .2 7.1 .2-14.3 .2-8.8 .2 11.3 .3 3.4 .2-2.5 .2-9.8 .2 21.7 .3-10.6 .2-13 .3 18.3 .2-5.7 .2 8.6 .3-4.5 .2 12.4 .2-8.8 .2-1.2 .3 6 .2-17.2 .2 17.6 .2-11.9 .2 1 .3-12.8 .2-36.2 .2-.7 .2 11.5 .3-15.2 .2-18.6 .2 14.2 .2-11.9 .2-9.6 .2 12.1 .2 13 .2-24.4 .3 8.9 .2-.5 .2-5.5 .3 .2 .2-21.1 .3-12.7 .2 2 .2-2.1 .2 0 .3 .7 .2 2.8 .2-.7 .2-11.9 .3 9.6 .2 15.2 .2 3.2 .2-19.6 .2-22.5 .2-8.8 .2 5.9 .3 3.2 .2 14.6 .2-13.6 .2-4.6 .3-8.9 .2 12.1 .2-12.1 .2 2.1 .2-2.1 .2 0 .2 29.7 .2-.6 .2-6.8 .3 21.3 .2 12.7 .2 27.2 .2-5.8 .2 21.5 .2 18.7 .3 6.8 .2 25.2 .2 .3 .2 1.8 .2-4 .3 .1 .2 .9 .2-4.3 .2-27.3 .2-13.8" stroke="#0000ff"/><path d="M88.2,956.1l.2 .5 .3-2.5 .2-1.9 .2-2.4 .3-3.4 .2-4.4 .2-2.4 .2-.8 .3 0 .2 .5 .2-.5 .3 5.8 .2 3.2 .3 .1 .2 .2 .2-1.5 .3-2.4 .2 2.8 .2-2.3 .2 4.1 .3 0 .2-3.6 .2 2.3 .2-2.5 .3 3.8 .2 0 .2-.5 .2-1.2 .3-8.3 .2 1 .2-1.6 .3 4 .2-2.6 .3 1.4 .2-3 .2 1.3 .3-.7 .2-.9 .2 3.4 .2 5.1 .3 .3 .2 .5 .2 .1 .3-.4 .2 .8 .2 0 .3-8.5 .2 1 .2-2.6 .2 .2 .3-1.4 .2-2.1 .2 3.9 .3-4.8 .2-1 .3 0 .2 1.6 .2-.5 .3-1.8 .2-1.3 .2-4.4 .3-1.9 .2 .3 .2 2.2 .3-3.5 .2 1 .3 1.2 .2-.3 .2-2.3 .3 1 .2-.5 .2-.6 .3 1.4 .2 1.4 .2-2.8 .3 0 .2 0 .3 .2 .2 3.4 .2-1.8 .3 1.8 .2 4.2 .2 .4 .3 .1 .2 0 .2-1.5 .3-.4 .2 1.9 .3-.1 .2-.6 .2-4.5 .3 .1 .2-1.9 .2 4 .3-.6 .2-.1 .2 .2 .3 .3 .2 .3 .3 .3 .2 0 .2 0 .3 0 .2 0 .2-.4 .3-2.7 .2 2.6 .2 .5 .3 0 .2 0 .2-3.3 .3-2.4 .2 0 .3 1.1 .2 .9 .2 2.7 .3 .7 .2-4.8 .2 5.4 .2 4.2 .3 3.9 .2 2.8 .2-.1 .3 1.8 .2-3 .2 1.4 .2-3.2 .3-.3 .2 2.9 .2-.3 .3-1.3 .2 6.6 .2 .1 .3-.8 .2 1.2 .3 0 .2 0 .2 0 .3-5.1 .2-3.8 .2-.5 .3 0 .2 0 .2 3.5 .3 .1 .2-1.7 .3 3 .2-2.3 .2 2.3 .3-2.4 .2 1.9 .2-5.6 .3-.7 .2 .2 .2-1.4 .2-.7 .3-.6 .2 0 .2-1.2 .3 1.4 .2-2.8 .2-.4 .2 .2 .3-1.6 .2 1.6 .2 .5 .3 4.8 .2-1.2 .2-6.2 .3 4.5 .2 1.4 .2-.6 .2-2.9 .3-.6 .2-3.4 .2 .2 .3-3.6 .2-.6 .2-.3 .3-.4 .2-.3 .2-.4 .2-.3 .3-.4 .2-.3 .2-.4 .3-.3 .2 2.4 .2 2.2 .3 .3 .2-6.3 .2-.4 .3-.3 .2-.3 .2-.4 .2-.3 .3 3.3 .2 1.9 .2-.3 .3-.4 .2-3.3 .2 2.6 .3-.3 .2-.4 .2-.5 .3-.2 .2-.4 .3-.6 .2 0 .2-1.2 .3 .2 .2-1.7 .2 1.4 .3-3.3 .2 2.7 .3-.3 .2-.3 .2-.4 .3-.7 .2-2.6 .2 2.4 .3-5.6 .2 .5 .2-2.4 .3 2.6 .2-4.1 .3-.5 .2 1.3 .2 5.3 .3-1.1 .2-1.9 .2 1.6 .3-.5 .2-.4 .3-.5 .2-.5 .2-3.1 .3-2 .2-.1 .2-.8 .3 .6 .2-3.5 .2-3.7 .3 3.7 .2 0 .2-4.7 .3-2.4 .2 3.9 .2-9.9 .2 8.9 .3-5 .2-2 .2-.7 .3-2.9 .2 4.2 .2 2.1 .3-4.9 .2-2.9 .2-5.5 .2-6.4 .3 2.9 .2 .9 .2-8.2 .2 .7 .2-1.1 .2-2 .3-.1 .2 0 .2 1.7 .2 2.1 .3 2.9 .2-5.1 .2-.9 .2-.7 .2 0 .2-.5 .3 4.4 .2 2.5 .2 2 .2-2.7 .3-5.9 .2-2.6 .2-3.5 .3 2.3 .2 .4 .3-4.8 .2 0 .2 9.4 .2 1.8 .3-.5 .2 3.1 .2-2.8 .2 3.2 .2 .7 .2 1 .2-.6 .3-3.9 .2-1.3 .2-3.6 .2 .3 .2 9.3 .3 .1 .2 5.2 .2-6.1 .2 6.7 .2-3.7 .2-7.4 .2-2.5 .3 2.1 .2-1.7 .2 .3 .2-.7 .2 0 .3 0 .2 8.1 .2-1.1 .2 1.4 .2-.2 .2 6.1 .3-.1 .2 0 .2-.8 .2 .2 .2-4.2 .2-6.5 .2-2.7 .3-6.3 .2-3.8 .2 5.4 .2-8.7 .2 .5 .3-3.3 .2 1.4 .2-2.3 .2 .7 .2 4.4 .2 3.2 .2 3.9 .3 .9 .2 0 .2-.7 .2-6.1 .3 2.2 .2-7.9 .2-1.2 .3 9.3 .2 7.1 .2 5 .3-.7 .2-9.4 .2-.7 .3-2.5 .2-3.9 .2-2.1 .2-3.4 .2-.7 .2 0 .3 .6 .2 .4 .2 3.7 .2 1.2 .3-.6 .2 0 .2-.7 .2-3.8 .2-5.3 .3-14.5 .2 2.9 .2-2.1 .3 2.5 .2-3.8 .3 1 .2-.3 .3 .4 .2-.3 .2 4.2 .3 2.3 .2 .7 .3 3.8 .2-.7 .2 .7 .2-1.5 .2-7 .3-3.7 .2-3.1 .2-.9 .2 1.1 .2-6.5 .3-1.6 .2 4 .2 2.7 .2-7.5 .2 3.9 .2 3.8 .2 2.8 .3 .4 .2 1.1 .2-4.2 .2 .9 .2-4.1 .3 4.1 .2 7.2 .2 2.9 .2-8.4 .2 4 .2 .2 .2 12.4 .3-3.5 .2-.9 .2 .7 .2 2.9 .2-.1 .3 3 .2 2.6 .2-5.2 .2 8.5 .2-8.8 .2-4.6 .3-1.3 .2 6.4 .2-8.7 .2 1.4 .2 5.5 .2-11.1 .2 4.7 .3-7 .2-.4 .2-3.3 .2 0 .2-2 .3-.9 .2-1 .2 1.8 .2 4.7 .2 .8 .2-3 .2-2.4 .3-2.5 .2-5.4 .2 .8 .2 1.5 .2 4.4 .2-1 .3-5.7 .2 1.3 .2 8.6 .2-4.3 .2-3.6 .3 .5 .2 1.5 .2 7.3 .2 3.8 .2-.6 .3 12.4 .2 6.3 .2 11.5 .2 7.4 .2 3.2 .2 .7 .2-9.9 .3 2.5 .2-2.2 .2-1.5 .2 3.9 .2-1.5 .2-2.6 .2 1.4 .3-5.1 .2-2.7 .2-2.5 .2 3.8 .2-.1 .3 2.4 .2 1.8 .2-2 .2-2 .2-.8 .2-1.7 .3-3.7 .2-4.6 .2 2.3 .2-8.4 .2-5.9 .2 0 .2 0 .3 0 .2 5.7 .2-4.9 .2 4.5 .2 2.1 .3 3 .2-1.8 .2-.3 .2 5.4 .2-1.4 .2-4.9 .2-2.4 .3 4.3 .2-4.1 .2-4.4 .2 2.8 .2-9.4 .2-5.4 .3 1 .2 5.3 .2-9.9 .2 7.7 .2 4 .3-2.2 .2 .4 .2 0 .2-.8 .2 .8 .2-1.2 .2 1.2 .3-5.3 .2 5 .2-1.8 .2-9.5 .2 1.2 .3-1 .2-5.7 .2-1.9 .2-2.6 .2 4.6 .3-6.1 .2-.9 .3 .3 .2 2.2 .2-.2 .3-.1 .2-1.1 .2 1.8 .2-12.1 .2 8.9 .3 .7 .2-2.6 .2-1.8 .2-1.3 .3-1.8 .3 1.1 .2-4.5 .2-4 .2-1.6 .3-2.5 .2-10.1 .3-1.5 .2-3.5 .2 .8 .2 3.1 .3-5.3 .2-1.5 .2-5.2 .2-4.3 .2-5.6 .3-5 .2 .3 .2 8.2 .2-9.2 .2 7.3 .2-10.6 .2 1.2 .3-4.9 .2-10.4 .2-4.6 .2 1.3 .3 7.4 .2-8.5 .3-5.7 .2-.2 .3-7.2 .2-.1 .3-1 .2 0 .3 6.6 .2-6.3 .3 11.4 .2 3.6 .2 9.6 .3 0 .2 3.5 .2 7 .2 1.4 .3 .1 .2-.9 .3-7.8 .2-6 .3-13.4 .2-6.5 .2-1.7 .2 12 .3-10.5 .2-8.2 .2 3 .2 .2 .3 1.1 .2 1.3 .2-2.4 .2 4.6 .2-1.9 .3-.6 .2 .5 .2-3.2 .2-11 .2 12.8 .2-9.3 .2-.8 .3 3.3 .2-1.1 .2 6.7 .2-6.8 .2-5.2 .3 2.2 .2-13.2 .2-2.7 .2 1.1 .2-.5 .2 4.3 .2 12.7 .3 5.5 .2 4.9 .2-1 .2-10.2 .3-11 .2 3.9 .3-10.3 .2-3.9 .2-.5 .3-3.5 .2 3.1 .2-5.7 .3 .1 .2-2.3 .2-.8 .3 7.6 .2 5.2 .3-3.2 .2-6.1 .2-3.9 .3 3.4 .2 4.2 .3-4.9 .2-5.6 .3 4.8 .2-4.4 .2-1.1 .3 8 .2 11.6 .2-.4 .2 6.9 .2 2.8 .3-12.7 .2 11.6 .2-7.7 .2 13.4 .2-6.4 .2-3.5 .2 6.6 .3 2.7 .2 8.5 .2-6.6 .2-.1 .2 11.2 .3 10.3 .2-12.5 .2 0 .2 2.7 .2 5.2 .2-2.9 .3 6 .2 15.4 .2-9.3 .2 3.8 .2-4.3 .2-2.8 .2-3.4 .3 8.5 .2-2.5 .2 12.3 .2 1.1 .2 4 .3-7.3 .2 1.6 .2 7 .2-3.9 .2 7.7 .2 14.6 .2 3.3 .2 3.8 .2 .9 .3 8.9 .2 3.6 .2 5.4 .2 18.6 .2 6.7 .3 .8 .2-2.3 .2 15.2 .2 2.5 .2 .4 .2 3 .2 0 .3-3.8 .2 3.8 .2-.8 .2-23.8 .2-6.4 .2-13.9 .2-3.5 .2-1.5 .2-4.8 .3 1.5 .2-2.9 .2 2.1 .2 1 .3-3.1 .2-.4 .2-9.5 .2-6.7 .3-2.6 .2 1.7 .2-4.6 .3-2.9 .2-1.6 .3 4.3 .2-8 .2-1.1 .3-5.8 .2 4.1 .2-2.7 .2-9.7 .3 2.1 .2 8.8 .2-8.2 .2-7.1 .2 1.1 .2 5.7 .2-6.9 .3-7.9 .2-2.1 .2 1 .2-1 .2 19.5 .2-.6 .3 14 .2 4 .2-.9 .2-.9 .2-2.8 .2-1.6 .3-5.1 .2 5.5 .2-8.1 .2-4.2 .2-1.7 .3-8.6 .2-5.4 .2-4 .2 3.2 .2-.9 .2-10.3 .2-10.2 .3 2.1 .2-14.2 .2-5.4 .2 .3 .2-1.4 .3 8.7 .2-5 .2 6.9 .2 15.1 .2-6.4 .2-6.7 .3-3.5 .2 10.8 .2-12.1 .2 1.1 .2-.8 .2 6.6 .2 14.5 .3-.3 .2 1 .2 7.5 .2-19.7 .2-13.8 .3 9 .2-1.8 .2-7.2 .2 1.1 .2-1.1 .2 2.4 .2 7.3 .3-4.8 .2 3.8 .2 9.3 .2 8.2 .2 8.8 .3-4.1 .2-8 .2 .5 .2 11.4 .2-5.6 .2-12.9 .2 4.5 .3-9.5 .2-2.9 .2 .5 .2 9.2 .2 7.5 .2-10.4 .3-6.8 .2 13.2 .2 8 .2 1 .2-2.4 .3 2.4 .2-3.5 .2-8.9 .2-6.7 .2-1.1 .2 0 .2 1.3 .3 11.1 .2 1.3 .2-1 .2-5.1 .2-5 .3 .8 .2-16.9 .2-2.1 .2 8.9 .2 1.7 .2-3.3 .3 2 .2-6.7 .2-9.1 .2 1.1 .2 4.8 .3 1.6 .2 3.9 .3 1.2 .2 0 .2-7.9 .3 7.9 .2-1.1 .2 1.1 .2-21 .3 13.2 .2-11.3 .2-1.3 .2-.1 .2-.5 .2-3.2 .2 0 .3 0 .2 0 .2 1.1 .2-1.1 .2 3.1 .2 10.1 .3 8.8 .2 .2 .2 2.2 .2 1.1 .2-9.2 .3-3.9 .2-8.5 .2 6 .2-4.9 .2 4.6 .3-2.7 .2 8.1 .2 1 .3-.2 .2 .6 .3-11.4 .2 10.3 .2-6.2 .2 .4 .2 5.1 .3-8.4 .2-1.1 .2-1.4 .2-2.5 .2 8.9 .3-1.6 .2-14.5 .2-7.6 .2-1.8 .3 11.7 .2-.6 .2 1.5 .2-5.4 .3 1.1 .2-.8 .2 2.6 .2-7.2 .3-12.1 .2 0 .2 10.2 .3-1.3 .2 3.3 .3 6.5 .2-4.7 .2 9.7 .3 0 .2 9.9 .3 5.9 .2 3.1 .3-10.4 .2 7.7 .2 7.5 .3-5.1 .2-.6 .2 8.2 .3 .2 .2 0 .3 0 .2-3.8 .2-6.1 .3 9.5 .2-.7 .2-15.8 .3-6.2 .2-7.8 .2 2.4 .3-19.5 .2 9.3 .2-1 .3 11.2 .2-16.4 .3 3.3 .2-4.5 .2-2.9 .2-10 .2 0 .3 7.9 .2-5.2 .2-1.5 .3 .2 .2 6.3 .2-7.7 .2 18.9 .3 1.9 .2 0 .2-1.2 .2-5 .2 .2 .3 5.3 .2-12 .2-4.5 .2-6.1 .2 13.5 .2 9.9 .2-4.6 .3-4.6 .2 5.5 .2 5 .2 1.2 .3 0 .2-9.2 .3-11.7 .2-.8 .3-1.6 .2 10.1 .2-4 .3 9.7 .2 11.4 .2-1.2 .2-5.6 .2-6.1 .2-17.3 .3 .4 .2 8.4 .2-5.8 .2-2.6 .2-.6 .3-6.7 .2-2.7 .2-5.9 .2-8.7 .2-6 .2-11.6 .3 15.1 .2 .5 .2-3 .2-18.4 .2-5.1 .2 3.1 .3-3 .2-9.4 .3 5.5 .2-.7 .3 2.5 .2-7.1 .2-1.8 .3 3.4 .2 10.1 .2-1.1 .3-9.1 .3-23.7 .2 7.9 .2-1.7 .3 2.9 .2-7.4 .2 .5 .2-.3 .3-2.1 .2 .4 .2-2.9 .2-16.1 .2 3.6 .2-8.2 .2-9.9 .3 .1 .2-3.4 .2 7.3 .3-5.4 .2-5.9 .2 10.4 .2-10.2 .3-9.8 .2-8.7 .3 0 .2 1.5 .2 18.2 .3 42 .2-8.9 .2 2.2 .3-5.5 .2-5.8 .2 4 .2-19 .2-.5 .3 1.8 .2-.3 .2 15.5 .2-4.3 .3-1.4 .2-1.4 .2-14.4 .3-25.1 .2 .1 .2-10.2 .3-17.5 .2-12.5 .2 13.3 .3-5 .2-8 .2-2.9 .3 2.4 .2 14.2 .3-6.1 .2-13.1 .2-1.6 .3 2.9 .2 27.3 .2 11.8 .3-13.8 .2 .2 .2 12.8 .3-7 .2-8.4 .3-15.1 .3-41 .2-7 .3 9.6 .2 16.3 .3 29.9 .2-13.6 .3-15.7 .2-16.4 .2-7.5 .2 22.6 .2 25.7 .2-5.5 .2-10.7 .2-10 .3-4 .2 25 .2-21.4 .2-10 .2 7.6 .3 11.6 .2 23.6 .2-9.4 .2-19.4 .2-25.7 .2 17 .3 7.7 .2 8.6 .3 31.6 .2-20.7 .2-21 .2 1.5 .2-6.4 .3 25.4 .2 7.3 .2 6.5 .2 7.7 .3-4.1 .2 2.5 .2-12.2 .3-31.1 .2-18.3 .2 18.3 .2 22.6 .2 2.5 .2-22.7 .3-7.8 .2-12.3 .2-2.6 .2 23.1 .2 14.5 .2-5.5 .2 7.1 .2-18.1 .3-24.1 .2 0 .2 1.7 .2 9 .3-3.3 .2 21.4 .3 7 .2 15.9 .3 2.2 .2 14 .3-19 .2-19.9 .3-4.9 .2-23 .3-15.6 .2 31.6 .2-3.5 .3 2.3 .2-3.8 .2-3.6 .3-9.5 .2-6.3 .2 21.1 .3-18.5 .2 18.5 .3-4.3 .2 8.8 .3-5.6 .2-3.8 .2-14.9 .2 10.9 .3 16.6 .2 0 .2-1.6 .3-10.9 .2-18 .3 1.7 .2 8.7 .2-5.1 .3-.6 .2 13.8 .2-7 .2 1.1 .2 4.6 .3-19.2 .2 18.4 .2-17.3 .2-1.7 .3 11.2 .2 9.9 .2 17.2 .3-10.7 .2 6.7 .3 2.4 .2 1.6 .3-13 .2-11.7 .2-2.9 .2 7.1 .2-11.6 .2 9.7 .2-19.5 .2 8.1 .2-12.3 .3 0 .2 6.3 .2-4.6 .2 5.6 .2-7.3 .3 .7 .2-2.9 .2 3.9 .2 4.6 .2 14.2 .3 6.2 .2-.4 .2-9.2 .2-12.3 .3-16.4 .2-16.5 .3 16.9 .2 .8 .3 9.5 .2-11.4 .3 20.4 .2-5.4 .2-4.2 .2 12 .2-18.6 .2 24.1 .2-11.9 .2 23.4 .3-3.1 .2 9.5 .2 19.6 .2 2 .2-11.9 .3-20 .2 7.9 .2-1.7 .2 9.2 .2 34 .2-2 .3-28.1 .2-4.9 .2 .2 .2 25.8 .2 28.4 .2-3.1 .2 5.1 .3 2.1 .2-4.1 .2 4.1 .2-1.5 .2-3.8 .3-24.7 .2-18.1 .2-2.6 .2-2.8 .3-4.3 .2 .6 .2 20.8 .3 9.2 .2-2.5 .3 16.6 .2-13.9 .3-13.8 .2 3.8 .3-18.9 .2 12.3 .3 24.8 .2-.7 .3 16.7 .2-13.4 .2-5 .2-23 .2 4.9 .2-4.1 .3 14.9 .2-2.5 .2-4.4 .2 6.7 .3 7.9 .2 3.1 .3 7.4 .2 21.3 .3-10.7 .2 15.3 .2 1.5 .2 0 .3-8 .2-16.3 .2 1.8 .2-1.5 .2 16.1 .3-12.2 .2 11.4 .2-14.8 .2 7.5 .2 2.8 .2 .8 .3 16.5 .2-9.1 .2-4.5 .2-2.3 .3 4.1 .2 7.3 .2 19.4 .3-.1 .2-1.4 .2 1.4 .2-6.1 .3 .3 .2-10.1 .2-5.1 .2 1.2 .3-10 .2-3.2 .2-1.9 .2-1.8 .2 6.4 .3 2.2 .2-8.5 .2-8.8 .2 17.6 .3-8.1 .2 11.6 .2-19.6 .2-1.5 .2 8.3 .2 8.7 .2-6.9 .3 11.3 .2 1.3 .3 7.1 .2 13.6 .3-.6 .2 7.2 .2 13.5 .3 12.5 .2-3.9 .2 9.2 .3-3.9 .2-12.1 .3-3.3 .2-2.1 .2 6.6 .3 7.4 .2 1.8 .2-5.1 .3 12.6 .2 19.2 .2 8.7 .2-.7 .2-1.3 .3 3.4 .2 24.6 .2 6.3 .2-1.2 .2-16 .2-28.8 .2-4.5 .2-1.3 .2 0 .3-5.3 .2 2.8 .2 14.6 .2 15.2 .2 1.3 .2-8.7 .2-18.6 .3-.8 .2-4.1 .2-11.9 .2 4.4 .2 4.8 .3 1.8 .2-12.4 .2 4.1 .2 6.1 .3-4.8 .2-7 .2 5.6 .2-3.4 .2 2.1 .3-17.5 .2 10.7 .2-21.5 .2 .9 .2-9.5 .3-1 .2 9.9 .2-1.5 .2 10 .3-1.8 .2-9.7 .2-12.8 .2 15.9 .3-1 .2-1 .2-6.1 .2 8.7 .3-9.5 .2-5.6 .2-1.5 .2 10.7 .3-10.7 .2 0 .2 15.7 .2-9.8 .3 18 .2 4.1 .2 1.1 .2 5.1 .3 13.8 .2 5.5 .3 16.6 .2-3.7 .3-5.7 .2 3.9 .2 13 .2-6.4 .3 6.4 .2-5.1 .2 1.6 .2 2.2 .2-1 .2-8.6 .3-1.7 .2-9.1 .2 10.1 .2-11.4 .3 2.3 .2-10.5 .2 1.4 .2 12.6 .2 1.6 .2 23.4 .2 .7 .2 1.5 .2 4.7 .3 .2 .2-4.3 .2 6.2 .2 13.9 .3 3.5 .2-.3 .3 1.1 .2-11.9 .3 4.8 .2 5.9 .2-25.1 .2 7.1 .3-9.6 .2-13.4 .2 1.7 .2 5.2 .2-.8 .3 5.7 .2-4.5 .2-.1 .3 29.1 .2-4.9 .3 5.6 .2-1.3 .2-7.7 .2 2.1 .3-21 .2 9.5 .2-1.1 .2 11.2 .2-11.2 .3 9.4 .2-8.4 .2 .3 .3 33.7 .3 3.1 .2 1.6 .3 .1 .2-8.6 .2 9.8 .3 20.2 .2 24.4 .2 4.9 .3 6.1 .2 2.9 .3 4.6 .2 8.1 .2 7.7 .3 5.9 .2 8.9 .3 13 .2 3.2 .2-15 .3 2.4 .2-20.3 .2 2.6 .2-15.1 .3-3.9 .2-15 .2 3.9 .3-5.5 .2-11.6 .3 .2 .2-16.5 .2-4.6 .3-4 .2-.4 .2 0 .3 0 .2 6.7 .3 3.3 .2-8.8 .2 2.4 .2 4.6 .3 18 .2 0 .2 3.3 .2-1.1 .2-1 .2 2.1 .2-27.4 .3-13.1 .2-2.8 .2 2 .2-3.7 .2 4.2 .3 13.3 .2-17.4 .2-5.2 .2 1.1 .2-.8 .3-1.1 .2 4.1 .2-.1 .3-5.4 .2-5.7 .3 0 .2 1.2 .2-1.2 .2 20.7 .2-2.9 .3-3.8 .2 8.2 .2 10.1 .2-.6 .2-.2 .3 9.4 .2-.5 .2 .8 .2 1.2 .3-10.3 .2 5.2 .2 6.7 .2-2.4 .2-4.3 .3-3.7 .2-11.6 .2-5.9 .2-9.7 .2-4.1 .2-3.4 .3 2.4 .2 5.8 .2-8.1 .3 8.1 .2-5.7 .3 22.1 .2-2.5 .2 8.8 .3 1.5 .2-1.2 .2 1.2 .2-.4 .3-16.6 .2 .3 .2 9.6 .2-8.4 .2 8.2 .2 1.8 .2 3.3 .3-5.9 .2 16.7 .2 7 .2-4.5 .3-21.6 .2 7 .2-2.9 .2 9.8 .2 1.6 .3 11.5 .2-7.4 .2 11 .2-6.1 .3-15.7 .2-2.6 .2 .5 .2 1.9 .2 13.4 .2 7.4 .2-3.1 .2-12.7 .2-16.1 .3-9.1 .2-8.8 .2 5 .2 1 .2-2.7 .3-3.3 .2 1.7 .2-1.7 .2 1.2 .2 1.1 .3-2 .2 15.1 .2 .5 .3-6.4 .2-1.9 .3-5.1 .2-2 .3 6 .2-1.3 .2-9.2 .2 7.5 .3-7.4 .2 1.2 .3 5.8 .2-7 .3 10.7 .2 8.6 .2 5.6 .3-1.6 .2 9.9 .2-.9 .2-2.1 .2-7.6 .3-3.9 .2-2.1 .2-4 .2-1.1 .2 10.4 .2 13.2 .2 9.5 .3-4.2 .2 0 .2 1 .2 3 .2 7.1 .3 0 .2-7.8 .2-.1 .2 6.8 .2-13.7 .3-4.5 .2 8.4 .3-12.1 .2 0 .3 11.5 .2-11.6 .2-.5 .2 .6 .3 4.6 .2 18.6 .2-13.1 .2-1.2 .3-2 .2 4.7 .3 4.2 .2 6.3 .3 2.2 .2 4.1 .3 28.5 .2 8 .3-8.1 .2 2.2 .3 6.2 .2 2.2 .3-18.1 .2 7.6 .2 20.8 .2-7.5 .2 2.8 .3-5.1 .2 9.2 .2-8.5 .2 12.4 .3-.6 .2 6.3 .2 17.6 .2 .9 .3 15.1 .2-3.2 .3 6.5 .2-1.3 .3 8.3 .2 4.8 .2 1 .2 3.6 .3 8.6 .2-2.8 .2 7.4 .3 7.2 .2 13.1 .3 7.3 .2-12.5 .2 2.8 .2-11.9 .3-10.3 .2-15.4 .2-.6 .2-.7 .3-1.4 .2 1.2 .2 9.1 .2-2.7 .3-6.1 .2-2 .2 .8 .3 10.5 .2 17.2 .2-4.2 .2-8.3 .3-20.1 .2-12.8 .2-.5 .2-.1 .2 8.3 .3 2.6 .2-2.9 .2-4.8 .2 19.6 .3 15.6 .2 18 .2 .8 .2-11.7 .2-8.1 .3 .2 .2-4.5 .2-11.7 .2 5.9 .2 4 .3 3.2 .2 4.1 .2 13.1 .2-5.7 .2 22.3 .2 23.2 .2-3.8 .3 11.9 .2-3.5 .2 .1 .3 2.5 .2-1.6 .2-3.5 .2 9.7 .3 1.1 .2 1 .2 3.9 .2-9.2 .3-5.7 .2-2.6 .3-6.9 .2-15.1 .2-9.7 .2-12.8 .2 11.1 .3 8.2 .2 8.3 .2 2.9 .3-2.1 .2 0 .3-1.2 .2 1.2 .2-4.4 .3-15.4 .2-8.8 .2-8.5 .2 .9 .2 8 .2 9.8 .2 .5 .3 4.6 .2 3.8 .2-.8 .2-.2 .3-3.2 .2 .6 .2-5.9 .2-14.2 .3 2.5 .2-10.7 .2-.9 .2 6.8 .2-3.9 .3-2.9 .2 0 .2 .9 .2-.8 .3 6.1 .2-5.9 .3 13.6 .2 6.5 .2-3.9 .2-2.9 .2 9.4 .3 8.2 .2 3.5 .2 1.2 .2-8.3 .2 1.2 .3-6.5 .2 7.5 .2-12.8 .2 .8 .2 1.1 .2-1.9 .2 1.3 .3 6.9 .2 1.1 .2-.8 .2-2.8 .2-3.6 .3 1 .2-3.5 .2-2.3 .2 .9 .2 4.5 .2 1.5 .2 2.6 .3-.4 .2-2.1 .2 2.9 .3 13 .2 15.7 .3 3 .2 .5 .2-4.2 .3-4.5 .2 3.5 .2 2.9 .3-2.8 .2 .7 .2 .8 .2 4 .2 8.6 .3 5.6 .2 2.7 .2-7.6 .3 4 .2 .3 .2-.6 .2 3.2 .3 1.4 .2-2.5 .2-4.1 .3 5.7 .2-6.5 .2 2.4 .2-3.1 .3 0 .2 0 .2 5.6 .2 .4 .2-4.4 .3 2 .2 7.1 .2 10 .2 14 .2 4.7 .3 8 .2-.6 .2 5 .2-11.4 .2-15.8 .3-12.3 .2-.2 .2-9.2 .2 7.6 .3 1.3 .2 8.2 .3-.3 .2 .8 .3 3.8 .2 .9 .2-11.2 .2-3.6 .3-5.7 .2-13.6 .2-5.9 .2 9.9 .3 1.8 .2-.2 .3 1.2 .2-3.1 .3 6.6 .2-.7 .2 .6 .2-5.6 .3-6.4 .2 3.7 .2-10.1 .2-2.3 .2-.1 .3-5.2 .2-4 .2-1.7 .2 2.6 .2-1.1 .3-2.3 .2 1.2 .2 8.6 .2-2.5 .2 7.1 .2-3.6 .3 13.4 .2 2.2 .2-4.3 .3-1.5 .3-.5 .2 1.5 .2-2.2 .3 1.5 .2 1.3 .3-4.8 .2-11 .3-13.2 .2-2.8 .3 0 .2-.8 .2 .9 .2 5.7 .3 5.1 .2 .3 .2-.8 .2-2.6 .3 3 .2-11.1 .3-8.7 .2 2 .2-.2 .3 1.7 .2 2.2 .2 11.5 .2 7.4 .2-5.1 .3-1.4 .2 .4 .2 3.8 .2-13.6 .3-5.6 .2 .8 .2 .4 .3-1.2 .2 7.8 .3 1.6 .2-6.4 .2-3 .3 6.7 .2-.8 .2 .8 .2-4.7 .3 4.7 .2 0 .2 0 .2-5.9 .2 2.6 .3-2 .2-2.1 .2-.9 .3-6.6 .2-1.6 .3 1.6 .2-1.4 .2-4.4 .2-.7 .3-1.9 .2-1.9 .2 3 .2 8.2 .3-6.7 .2 3.2 .2-2.7 .2 1.2 .3-3.5 .2 .1 .3-3.9 .2-6.9 .3-2.2 .2 .9 .2-.1 .3 1 .2 .1 .2-1.9 .2 2.9 .2-.3 .3-.2 .2 1.1 .2 10.8 .3-1.5 .2 4.4 .3 2.4 .2 9.5 .3-4.1 .2-.7 .2 1.5 .2-.4 .2 9.5 .3 1.8 .2 2.6 .2-.8 .2-.4 .2-12.4 .3-1.9 .2-7.3 .2-1.3 .2-3.9 .2-.9 .3 3.5 .2-3.7 .2-1.6 .3 5.9 .2 1.3 .3-1.4 .2-.5 .2-8.1 .3-1.2 .2 9.8 .3-7.6 .2 7.9 .2-2.8 .3-5.7 .2-5.3 .2 8.1 .2-4.7 .3-4.9 .2 5.3 .2-2.1 .2-5.2 .3 2.9 .2-2.9 .2 .9 .2 1.8 .3 1.5 .2 5.1 .2 8.1 .3 0 .2 0 .3 0 .2-.9 .2-7.1 .2-.8 .3-3.1 .2-6.6 .2 4.5 .2-7.6 .2 4.2 .2-5.3 .3 .5 .2 2.5 .2 2.4 .2-7.5 .3 4.8 .2-7.2 .2 5.6 .2 .9 .3 0 .2 0 .2 0 .3 0 .2-2.6 .3-1.5 .2-6.7 .2 1.1 .3 .9 .2-5.1 .2 1.1 .3 1.9 .2 1.3 .3-.1 .2-1.2 .2-1.2 .3-3.6 .2-8.6 .2-2.8 .3 8.8 .2-9.3 .2 .5 .3-.8 .2 0 .3 0 .2 0 .2 5.4 .3 4.5 .2-8.9 .2-1 .2 5.3 .3 3.3 .2 .5 .2 3.9 .2-3.8 .3 2.3 .2-.8 .2 2 .2-4.1 .3-6.3 .2 3.8 .3-3.3 .2 1.2 .2-1.1 .3-2.8 .2-6.8 .2-3.5 .3-.1 .2 0 .2 3.8 .3-3.1 .2-.7 .3 0 .2 1 .2 .2 .3-1.2 .2 8.8 .2 0 .3 2.4 .2-2.5 .3 1.5 .2 15.9 .2 3.2 .3 4.6 .2-.5 .2-9.7 .3 4.8 .2-4.6 .2 1.3 .3 .7 .2-1.5 .3-11.3 .2 .7 .2-6.2 .3-4.5 .2-2.1 .2-2.8 .3 .9 .2 14 .2-5.4 .3-.5 .2-2.9 .3-6.9 .2 .1 .2-.1 .3 0 .2 1 .2 9.1 .3-1.6 .2-.5 .2 1.8 .3 3.7 .2-6.6 .3 6 .2 5.9 .2 0 .3-2.3 .2 1.3 .2-9.8 .3 1.5 .2 2.6 .2 .4 .3 1.7 .2 4.6 .2-.1 .3-.3 .2-.4 .2-.3 .3-.3 .2-3.7 .2-3.8 .3 .8 .2 5 .2-6.9 .2 5.4 .2-1.4 .3 1.7 .2-6.9 .2-.3 .3-.3 .2 4 .2-1.5 .2 3.1 .3-6.8 .2 3 .2 1.7 .3 0 .2-1.2 .2-3.6 .3 5.5 .2-4.5 .2 6.6 .3 5.3 .2 .2 .2-8.8 .3 7.5 .2-9.5 .2 7.8 .3-3.9 .2 5.9 .2 1 .3 0 .2 0 .2-2.7 .3 2.7 .2 .1 .2 .2 .3-2.3 .2 2.6 .2 .1 .3-2.7 .2 1 .2-.9 .3 .4 .2-.5 .2 .5 .3-.5 .2-.3 .2-.5 .3-.4 .2 3.6 .2-3.8 .3 4.8 .2 0 .2 0 .3-.5 .2-3.5 .2-1.3 .3-4 .2 6.3 .2 1.5 .3-4.9 .2-.1 .2 3.2 .2-2.1 .3 1.7 .2-1.5 .2-5.9 .2-2 .3 5.8 .2-1 .2-3.8 .2 4.3 .3 6.4 .2-.6 .2 .6 .3 0 .2-1 .2-6.4 .3-2.4 .2-6.1 .2 0 .3 1.4 .2-1.4 .2 0 .3 0 .2 1 .2 2.1 .3 6.4 .2-1.4 .2 .6 .3 .6 .2 .6 .2-1.2 .3 2.5 .2-4.6 .2 2 .3-6 .2 1.9 .2-.7 .3 .7 .2 8.6 .2 0 .3-.7 .2-.3 .2 1 .3-12.3 .2-2.6 .2 8.3 .3-3.7 .2-4.5 .2 7 .3-4.4 .2 2.7 .2-8.1 .3 2.3 .2-5.1 .2-1 .2 .5 .3 5.5 .2 3.6 .2 .7 .2-8 .3 4.6 .2-2.4 .2 3.4 .2 4.7 .3 .4 .2 .1 .2-1.6 .3 1.4 .2 .2 .2-6 .3 1.6 .2 3.4 .2-3.7 .3 0 .2 4.7 .2 0 .3 0 .2-4.6 .2 4.5 .3-.3 .2-3.4 .2-8 .3 1 .2-2.8 .2 .8 .3 6.6 .2 3.7 .2-.4 .3-2.1 .2-7.1 .2-5.4 .3-1.1 .2-1 .2-.7 .3 3.6 .2-.5 .2-4.8 .3 1.6 .2 2.7 .2 .2 .3 3.8 .2-5.8 .2 4.6 .3-13.1 .2-1 .2 5.1 .3-1.1 .2-2.4 .2-.3 .2-1.8 .3-4.1 .2 10.6 .2-.9 .2-11.8 .2 .2 .3 2.9 .2-2.7 .2-2.6 .3-3.3 .2-1.1 .2 5.6 .3-3.7 .2 3.3 .2 2 .3-.2 .2-.1 .2-.8 .3-3.6 .2 3.9 .2-8.2 .3-2.3 .2-.4 .2-1.1 .3 0 .2 4.3 .2-3.3 .3 .7 .2 9.1 .2 1.1 .3-.2 .2-1.9 .2-3.5 .2 2.5 .2 3.1 .3-4.7 .2-.6 .2-6.6 .3 2.1 .2-2.1 .3 0 .2 5.2 .3-1.9 .2-2.2 .2 1.2 .3-2.3 .2 8.7 .2-.9 .3 11.1 .2 .2 .2-3.7 .3-8.2 .2 7.1 .2 14 .2-3.2 .3-4.2 .2 6.6 .2 1 .3-1.9 .2 1.9 .2-2.5 .2-.2 .2-5.5 .3-6.7 .2 2.8 .2-1.8 .3 4.7 .2-3.8 .2-5.6 .2-2.2 .2 2.5 .3-2.4 .2 3 .2-6.9 .3-3.6 .2-5.4 .3 4.8 .2-.8 .3-1.2 .2-6.1 .2-1.9 .3 6.3 .2-3.3 .2-4.7 .3 4.1 .2 6.2 .2-4.2 .3 1.9 .2-1.2 .2-1.1 .3-.4 .2-4.7 .2 4.6 .3-5.7 .2 7.7 .2 0 .3-4.9 .2 4.9 .2-2.7 .3 2.3 .2-.7 .2-1.1 .2-2.4 .3-4 .2-6.4 .2-4.2 .3-11.4 .2 1.7 .2-2.2 .2-4.5 .2-2.4 .3 8.4 .2-3.4 .2-10.9 .3 5.6 .2 11.5 .2-18.5 .3 1.4 .2-1.4 .2 0 .3 0 .2 1.2 .2-1.2 .3 0 .2 0 .2 0 .3 0 .2 7.7 .2-7.5 .3 1 .2 9.7 .2 10.8 .3-3 .2 4.4 .2-1.4 .3 1.4 .2 0 .2-11.3 .3-.5 .2 10.7 .2 1.1 .3-1.5 .2 1.5 .2 0 .3-6.7 .2-13.8 .2 18.8 .3-13.1 .2-6 .2 8.6 .3-2.7 .2-.7 .2 1.8 .3 0 .2-1.2 .2-3 .2-6.9 .3-9.4 .2-6.9 .2 3.1 .2 8.7 .3-2.4 .2-9.4 .2 1.2 .2 10.7 .3-9.5 .2 13.3 .2 2.1 .3 5 .2-14.5 .2 3.7 .3-1.2 .2 9.9 .2 6.5 .3-5.2 .2 12.1 .2-2.2 .3-8.7 .2 8.6 .2-.1 .3 2.1 .2 6.5 .2-2.9 .3 5.2 .2-1.1 .2-.8 .3 1.9 .2-7.8 .2-17.2 .3 1.3 .2-1 .2-6 .3-3.4 .2-1 .2 3.5 .3 13.1 .2-1.6 .2-11.1 .3 5 .2-6.8 .2-3.9 .3 9.6 .2-11.9 .2-5.9 .3 6 .2-4.1 .2 11.3 .3-9.8 .2-1.1 .2 4.8 .3 1.7 .2-4.9 .3-3.5 .2-3.6 .2 6.7 .3-15.2 .2-2.6 .2 1.5 .3-.2 .2-6.3 .2-1.5 .2 9.8 .3-6.5 .2-1.5 .2-2.9 .3 3.3 .2 1.5 .3 3.8 .2-1.7 .2-1.6 .3-2 .2-3.2 .3-6.3 .2 1.3 .2-1.3 .3 0 .2 0 .3 7.7 .2 .4 .2 10.2 .3 0 .2 0 .3-4.5 .2 3.2 .3 1.3 .2-21.8 .3 1.3 .2-1.5 .3-12.1 .2 1.3 .2 14.7 .3 .3 .2-6.2 .2 6.9 .2-5.6 .3-2.1 .2 4.6 .2-5.2 .3-12.5 .2 12.1 .3-7 .2-7.6 .2 5.3 .3-2.8 .2 5.2 .3-7.7 .2 1.3 .3 8.6 .2 2.6 .3-6.9 .2 7.3 .3-2.7 .2 3.7 .2 1.3 .3-4.9 .2 4.9 .2-19.4 .2 1.5 .3 .4 .2-12.1 .2 5.1 .3-9.6 .2 4.1 .2-1.3 .2-4.2 .3-1.8 .2 1.4 .2-1.4 .3 0 .2 0 .2 0 .2 9.8 .3 1.9 .2 2.3 .3-.7 .2-2 .2 10.3 .3-6.4 .3-6.9 .2 12 .2 1.3 .3 0 .2-7.1 .2 2.2 .2-10.2 .3-8.2 .2 3.1 .2-4.7 .3-4.6 .2 13.8 .2-5.5 .2-8.3 .3 0 .2 1.4 .2 2.7 .3 2.1 .2 3 .3-6.7 .2 9.9 .2 21.4 .2 18 .2-6.5 .3 13.9 .2 8.1 .3 0 .2-1.2 .3-.1 .2 0 .3 1.3 .2-.2 .2-13.2 .2-1.8 .3 8.4 .2-7.1 .2 2.5 .2 3.5 .2 21.9 .3-.2 .2 .2 .2-1.2 .2 1.2 .3-13.5 .2-6 .3-.8 .2 12.4 .2 6 .3-1.4 .2-15.2 .3-1.6 .2 .6 .3-10.3 .2-1.2 .3-5.7 .2-2.3 .2 1.5 .3 4.8 .2 19.5 .3-6.7 .2-7.1 .2 16.9 .3 2 .2-1.3 .3 3.1 .2-1.2 .2-1.4 .3-.6 .2-10.1 .2-11.3 .2 1.4 .3-5.6 .2-8.6 .2 4.4 .3-.3 .2-2.8 .2 7.6 .3-3.4 .2-6 .2-3.5 .2 8.5 .3 0 .2-1.3 .3-2.1 .2-21.7 .3 4.9 .2-6.2 .3 3.1 .2 9.1 .3-2.5 .2-7.7 .2-3.5 .3 .2 .2 8.8 .3 2.3 .2-9.9 .3 5.9 .2 12.3 .3-8.7 .2 7.1 .3-7.2 .2 7.9 .2-3.5 .3-6.6 .2-15.9 .2 14.2 .2-6.6 .3-1.7 .2-3.5 .2-6.2 .3 9.3 .2 6 .3-14.2 .2-1.7 .2-2.2 .3-.3 .2 3 .3 2.7 .2-2.7 .2-5.4 .3-3.5 .2 6.2 .2-4 .2 4.8 .3 3.9 .2-5.2 .3-8 .2-.6 .3 2.4 .2-9.2 .3-3.3 .2 4.6 .2-2.3 .3-3.5 .2 3.5 .3 7.2 .2-13.4 .2-2.4 .3 1.4 .2 8.8 .3-3 .2-5.8 .2 11.1 .3-5.9 .2-6.7 .2 0 .2 0 .3 0 .2 7.8 .3-6.8 .2 4.2 .3 .8 .2 8.7 .3-5.1 .2 20.3 .2 1.4 .3 0 .2-10 .2 2.5 .2-22.9 .3-4.9 .2 5.5 .2-6.2 .3 4.8 .2 1.5 .2-6.3 .2 7.6 .3 1.1 .2-7.2 .2-1.5 .3-.6 .2-3.4 .2-.1 .2-2.5 .3-2.6 .2 13.9 .2 1.5 .3-10.7 .3 9.4 .2-19 .2 9.6 .3-6.6 .2 1.9 .3 3 .2-10.9 .3-.5 .2 4.1 .2-3.9 .3-.8 .2-1.3 .3-.5 .2 4.2 .2-5.1 .3 8.8 .2-1.9 .3-8.5 .2-.9 .2 9.4 .3-.5 .2-.4 .3-11.8 .2 6.2 .2-6.1 .3 7.5 .2-6.5 .2-2.4 .3-1.9 .2 0 .2 3.1 .2-1.9 .3 4.3 .2-4 .2-1.5 .3 20.6 .2-13.5 .2 5.1 .2-11.7 .3 1.4 .2 4.3 .3 14.9 .2 9.7 .3 27.4 .2-2.4 .3 3.8 .2-13.8 .2 2.3 .2-7.1 .3-10.5 .2-8.5 .3-.4 .2 1.5 .3 7 .2-7.8 .3 4.4 .2-15.7 .2 2.9 .3-6.8 .2-10.4 .2 .2 .2 18.9 .3-15.1 .2-2.3 .3-6.1 .2-5.4 .3-7.4 .2-.4 .3 .8 .2 1.5 .2-13.6 .3 7.9 .2 3.7 .2 1.6 .2-4.6 .3-11.9 .2 13.7 .2-11 .3 9.2 .2-9 .2-1.3 .3-4.4 .2 10.9 .3-8.5 .2 6.5 .2-8.1 .3-3.3 .2-.8 .2-.8 .3 3.7 .2 5.7 .3-11.6 .2 5.9 .2-7.5 .3 3.6 .2 7.2 .3-6.4 .2 5.5 .2 .9 .3-8.1 .2 2.1 .3-.6 .2-4.3 .2 13.8 .2-10.3 .3 8 .2 12 .2-5.6 .2-1.2 .2-14.4 .3 8.6 .2 15.8 .2 5.4 .2 1.2 .3-11.4 .2 10.5 .2-.1 .3 1.4 .2-5.3 .2-5.5 .2 8.3 .3-2.6 .2-9.2 .2-7.8 .3 5.4 .2-6.3 .2-1.6 .3 0 .2 12.3 .3-12.3 .2 12 .2-7.7 .3 .4 .2-3.5 .2 4.6 .3-2.7 .2 3.8 .3 8.9 .2-2 .2 11.6 .3 20.3 .2 1.9 .3 12 .2-.6 .3-11.6 .2 7.4 .2 6.4 .3-12 .2-9.8 .2 30.7 .2 .4 .2 15.3 .3 11.7 .2 .2 .2 4.7 .2-5.3 .3 1.6 .2 5.1 .3-4.1 .2-7.9 .2-16.2 .3 10 .2-19.1 .3-5.3 .2 1.5 .2-.3 .3-1.2 .2 17.9 .3-4.4 .2 4.5 .2 1.2 .3-7.9 .2 4.9 .3-5.4 .2 9 .2 1.4 .3-21.1 .2-6.5 .2-8.7 .3 32.1 .2-1.7 .2-11.9 .2 14.6 .3-3.1 .2-3 .2-13.5 .3-7.2 .2-18.3 .2 3.2 .3-6.7 .2 1.5 .2-1.5 .3 0 .2 2.1 .3-2.1 .2 1.6 .2 1.7 .3 15.2 .2-2.7 .3-2.5 .2-5.7 .2 15 .2-5.5 .3 2.1 .2 10.7 .2 12.8 .2-5.1 .2-11.3 .3 6.4 .2 9.7 .2-4.2 .2 9.4 .3-4 .2-11.7 .2-4.4 .3 5.5 .2 7.5 .2 20.5 .3-11 .2 12.6 .2 1.4 .3-.5 .2 .5 .2 0 .2 0 .3-17.7 .2-3.5 .2 7.9 .2 5.5 .3-17.4 .2-12.8 .2 19.6 .3-1.5 .2-6.8 .2-12.8 .3 2.2 .2 0 .2-.7 .2 11.2 .3 5.4 .2 1.2 .2-7.4 .3 2.1 .2-.3 .2 1.1 .3-3.2 .2 4.9 .2-2 .2 8.8 .3 16.2 .2 8.1 .2 2.8 .2-3.8 .3-6.7 .2 4.4 .2 12.9 .3 4.5 .2 12.5 .2 13.8 .3 7.3 .2 1.1 .2-6.1 .3 2.6 .2-5.9 .2 5.4 .3 3.4 .2-3.8 .3 5 .2 .3 .3 23.4 .2 1.2 .3-3.7 .2-8.9 .3 1 .2 1.4 .2 3.8 .3-7.4 .2-19.9 .2-2.5 .3 0 .2 1 .3 4.5 .2-4.2 .2 10.6 .3-9.8 .2 1.3 .2 2.2 .3-5.6 .2 0 .2 .2 .2 11.9 .3 3.5 .2-7.4 .2 13.6 .3-1.5 .2 14.7 .2 1.2 .3 0 .2 0 .3-10.7 .2-5.2 .2-6.8 .3 6.3 .2-2.6 .2-2.9 .3 6.2 .2-4.4 .3-16.4 .2 4.7 .2-5.9 .3-.6 .2-.5 .2-.6 .3-.6 .2-.6 .2 10.1 .3-4.7 .2-4.6 .2-2.9 .2-1.3 .3 3.6 .2 6.4 .2-.6 .3-4.3 .2-2.1 .2-2.8 .3-1 .2-6.8 .2 3.9 .2 1.1 .3 .8 .2-8.3 .2-4.4 .3-1.1 .2-1 .2-.1 .3 0 .2 0 .2 2.7 .2-2.7 .3 0 .2 1.4 .3 10.3 .2 3.4 .3 3.3 .2 4.1 .2 10.5 .2 3.4 .2-3.3 .3-5.2 .2 3.1 .2 13.5 .2-12.6 .3-1.9 .2 12.7 .2 14.4 .3-12.2 .2 8.6 .3 7 .2-12.1 .2 3 .3 3.9 .2 12.6 .2 1.3 .2 5.7 .2-2.2 .3-7.1 .2 1.8 .2 1.8 .2 23.3 .2 13.2 .2-3 .3 10.4 .2-12 .2 9.6 .2 9.1 .2-3.3 .3 4.6 .2 2 .2 14.6 .2-1.1 .2-.9 .3-24.5 .2-3.9 .3 11 .2-17.1 .3-8.7 .2 4.2 .2 6.5 .3 3.3 .2 5.5 .2-3.9 .2-9.9 .3 8.1 .2-1.3 .3-11.2 .2-7 .2 1.1 .3-1 .2-12.5 .2 4.8 .2 8.7 .2-6.4 .3-1.3 .2 10.6 .2 14.7 .2-.4 .2-6.7 .3-15.6 .2 .9 .2-9.2 .2 1.2 .2-1.2 .2 0 .2 0 .3 0 .2 11 .2-3.4 .2 15.5 .2 3.4 .2 17.4 .2-.8 .2 9.2 .2 13.5 .3 3.5 .2-.4 .2 3.5 .2-4 .2 6.3 .3-.4 .2 7.7 .2 1.6 .2 .8 .3 2.3 .2-7.3 .2-1.8 .3 5.5 .2 5.6 .3-1 .2-2.3 .3 2.9 .2-.3 .2 48.3 .2 15.7 .2 15 .2 6 .2 4.3 .3 4.4 .2-1.6 .3-2.1 .2 4.2 .3 6 .2 1.5 .2-17.1 .2-20.6 .3-5.2 .2-13.5 .2-21 .2-1 .2 4.3 .3 10.8 .2 6.5 .3 5.6 .2-.5 .2 23.6 .3 11.1 .2 2.8 .2 8 .2 14.5 .3 10.2 .2 3.1 .2-9.1 .3-5.1 .2-14.7 .3-7.5 .2-1.9 .3-4.2 .2-4.1 .2 14.4 .3 0 .2 6.9 .3 2.4 .2 .9 .3 6.2 .2-.8 .3-15.1 .2-10.8 .3-12.5 .2 .3 .3 12.8 .2 7.4 .3 4.5 .2-2.5 .3-1 .2 .2 .3-10.2 .2-3.9 .3 .8 .2-1.4 .3-12.7 .2-6.8 .3 0 .2 2.1 .3-2.1 .2 .9 .3 19.9 .2 14.4 .3 24 .2 9.1 .3 0 .2-1.6 .3-5.7 .2-5.4 .3 9.1 .2 2.8 .2 .8 .3-1.8 .2-4.2 .2-10.4 .2-4 .3-8.4 .2-7 .2 6.1 .3-2.8 .2 5.7 .3-.5 .2 7.3 .3 9.1 .2-6.5 .2 6.2 .3 8.6 .2-4.4 .3-.3 .2 6.4 .3 10 .2 8.5 .2 6.8 .2 2.9 .3 3.9 .2 .1 .2 9.5 .2-.7 .2-3.2 .3-3.7 .2-7.7 .3-9 .2-.2 .3-3.8 .2-1.6 .2 2.4 .2-14.1 .3-2.3 .2 1.8 .2-2.8 .2 4.5 .3 4.5 .2 .8 .3 2.4 .2 3 .3 3.7 .2 1.1 .2-5.3 .3-3.2 .2-9.8 .3-15.8 .2 .8 .2-2 .3-.9 .2 .6 .2-4 .3-3.1 .2 7.5 .2-7.6 .3 4.9 .2-8.8 .2 .8 .3 3.5 .2-3.6 .3 4.1 .2-4.4 .3-.4 .2-10 .2-4.1 .3-4.2 .2-2.8 .3-2.5 .2-3.9 .3 5 .2-4.1 .2 4.7 .3-2.5 .2-3.1 .2 .1 .2-3.6 .3 8.9 .2 2.1 .2-2.8 .3 3.7 .2-4.8 .3 4 .2-1.4 .3 3.9 .2-17.6 .2 4.5 .3 17.5 .2-7.5 .3-.7 .2 6.8 .3-.1 .2 4.5 .2-.8 .3-9.6 .2-3.9 .2 3.4 .2 3.3 .3 8 .2-7 .2 4.6 .3-1.1 .2 2.3 .3 4.1 .2-2.3 .3 2.4 .2 5 .2-1 .3 .1 .2 .1 .3 10.3 .2 4.6 .3 0 .2-.8 .3-14.5 .2-12.4 .3-14.8 .2 1.6 .3 2.3 .2-10.3 .3-.3 .2-15.1 .3 5 .2-3.2 .2 10.6 .3-11 .2-5.5 .2 0 .2 0 .3 3.6 .2-2.7 .2 .1 .3 8.5 .2-1.8 .2 3.2 .2-10.7 .3-14 .2-2 .2-.2 .2 .7 .3-5.3 .2 1.5 .2-3.9 .3 10.5 .2-2 .2-3.9 .2-5 .3 1.7 .2 3.7 .2-4.6 .2 .6 .3 2.1 .2-5.8 .2 .6 .3-1.6 .2 4.3 .3-11.5 .2-2 .3-5.8 .2 1 .2-1 .3 9.3 .2-4.5 .2-4.8 .2 10.8 .3 8 .2-2.2 .2 7 .2-4.5 .3 4.5 .2-1 .2-1.9 .2-5.7 .3-10.9 .2-10.6 .2-.9 .2 3.9 .2 6 .2-7.9 .3 5.9 .2-3.2 .2 1.8 .2-2.3 .3-1.1 .2 7.6 .2 3.8 .2 7.3 .2 6.2 .3 13 .2-1 .2-5.5 .3 .4 .2-7.9 .2-2.8 .2-7.3 .3-7.9 .2 1 .2-1 .3 0 .2 2.6 .2 2.1 .2 .6 .3-5.3 .2 9.6 .2-5 .2 15.8 .3 0 .2-1 .2-10.3 .3 .6 .2 .2 .2-7.2 .2 5.6 .3 11 .2-9.8 .2 4.5 .2 2.8 .3-10.9 .2-6.5 .2-8.6 .2-7.9 .3 5.9 .2-12.9 .2 11.9 .2-.3 .3-10.6 .2-2.8 .2 2.7 .2 0 .3 1 .2-3.1 .2 .8 .3-3.7 .2 0 .3 7.6 .2-6.5 .2 9.7 .2-10.8 .3 7.2 .2-1.9 .2 6.3 .2-4 .3 1.5 .2-.4 .2 9 .3 11.1 .3 .1 .2-1.3 .2 3 .3-.5 .2 6.2 .3 1.9 .2 15.4 .3 2.2 .2 3.4 .2-10 .3-.6 .2 8.5 .2-1.5 .2-11.9 .3 4.8 .2-4.3 .2-2.9 .3 4.1 .2-11.1 .2 8.6 .2-.8 .3 5.3 .2-2.1 .2-1 .2-.9 .3-.9 .2-8.3 .2-6 .2 3.2 .3 .3 .2-9.7 .2-10.5 .2 4.3 .3-5.5 .2-5.2 .3-4.8 .2-1 .2-.9 .3-.5 .2 2.3 .2 6.5 .3-4.3 .2-5.4 .3-.3 .2 2.5 .2-2.9 .3 4.4 .2 .7 .2-3.2 .3-2.9 .2-.2 .2 3 .2-3 .3 .8 .2 2.5 .2-3.3 .3 .9 .2 .2 .2 6 .3-.5 .2 11.9 .3 11.3 .2-2.8 .2 1.5 .3 2.5 .2-6.5 .2 9.5 .3 8.8 .2-3.6 .3-4.1 .2 11.8 .3 7.4 .2-1.1 .3 2.3 .2 .9 .3 11.3 .2 9.8 .2-7 .3 5.8 .2 4.7 .2-1.5 .2 6.2 .3-5.7 .2-1.7 .2-4.7 .2 5.1 .3 4.1 .2 3.8 .2-2.2 .3-4.6 .2-3.8 .2-7.7 .3-2.7 .2-7.5 .2 0 .3 0 .2 1 .2 3.1 .3-4.1 .2 0 .3 9.9 .2-7.6 .2 5 .3 .8 .2-2 .2 6.3 .3 7 .2 2.1 .3 7.9 .2-.9 .2 .9 .3 0 .2 0 .2-12.5 .3-9.1 .2-4.1 .2 3.6 .2 5.2 .3-4 .2-3.1 .2-6.3 .3-.1 .2-10.2 .2 3.1 .3 9.7 .2-8 .2 1.1 .2 6.2 .3 4.7 .2-11 .2-5.5 .3 6.4 .2-2.8 .2 13.9 .3-12.6 .2 13.8 .2-4.5 .3 5.9 .2 2.6 .2-4.5 .2-3.1 .3 6.6 .2 2.5 .2-5.6 .3-.7 .2-12.9 .2-.4 .3-9.5 .2 12.2 .2-15.4 .2 7.1 .3 2.5 .2-2.1 .2 4.8 .3-8.8 .2-1.8 .2-7.1 .3-.8 .2 5.8 .2-7.3 .2 8.2 .3-5.1 .2-4.9 .2-1.3 .3-.7 .2-.8 .2-.8 .3-.7 .2 10.6 .2-8.8 .3 8.6 .2-6.5 .2-6.8 .2 8.8 .3 1.4 .2-7.1 .2-.1 .3 4.9 .2-1 .2-.5 .2-.8 .3-.7 .2-.8 .2-.9 .3-.9 .2-3.6 .2 1.4 .3-.6 .2-.9 .2-4.7 .3 2.9 .2-6 .2-3.9 .2-3.2 .3 8.3 .2-7.2 .2 7.2 .3 2.7 .2-4.6 .2 1.5 .3 5.1 .2-10.6 .3 14.5 .2-1.6 .2 4.3 .3-1.6 .2-7.7 .2 2.9 .2 5.4 .3-.2 .2-4.2 .2 12.5 .2 3.9 .3-5.1 .2 14.2 .2-1.8 .3-3.4 .2 3 .2-10.1 .3-12.2 .2 2.1 .2-.7 .3-14.7 .2 1.1 .2-1.1 .3 8.2 .2-.4 .3-6.9 .2 8.4 .2-9.2 .3 .6 .2 1.3 .2 1.9 .3-1.3 .2-3 .3-1.5 .2 9.1 .2-11.9 .3-1.4 .2 13.5 .3 .9 .2-.2 .2 .2 .3-7.2 .2 5.4 .2-1.4 .3-1.7 .2-1.2 .3-1.4 .2-11.9 .2 4.7 .3-10.9 .2 12.7 .2-4.9 .2-3.1 .3-7.6 .2-3.4 .2-2.1 .3 5.5 .2 .7 .2 2.5 .3 1 .2 .6 .2-.9 .2-5.7 .3-5.5 .2 1.1 .2-1.1 .2 0 .3 0 .2 8.2 .2 5.5 .2 2.9 .2-.4 .3-3.5 .2 6.4 .2-5.7 .2 3.2 .3-6 .2 8.1 .2 6.2 .3 3.1 .2 3.7 .2 4 .3 4.5 .2 15.9 .2 .7 .3-9.3 .2-9 .3-13 .2-3.4 .2 12.2 .3-16.9 .2-8.2 .3 3.6 .2-2.5 .2 8.1 .3 5.6 .2-3.4 .3 4.8 .2-11 .2-2.9 .3 2.9 .2-3.4 .2 1.4 .3 12 .2-4.6 .3-2.2 .2 11 .2 1.1 .3-3.6 .2-8.3 .3-14.2 .2-.5 .2 0 .3 4.9 .2-4.9 .3 1.7 .2-.6 .2 8.3 .2-8.9 .3 11 .2-6 .2 1.2 .2 3.7 .2-.2 .3-1.8 .2 3.6 .2-4.8 .2 3.8 .3-6.4 .2 6.8 .2-7.2 .3 3.1 .2 1.7 .2 7.1 .3-.3 .2 3.6 .2 5.4 .3 6.2 .2 2.9 .2 1.7 .2 3.2 .3-.1 .2-5.1 .2-3 .2 2.7 .3 .4 .2 4.1 .2-.7 .3 1.7 .2 .1 .2-4.3 .3-2.2 .2-1.8 .3 7.6 .2-14.7 .2 10.1 .3-4.2 .2-6.1 .2 2.6 .3-13.1 .2 .1 .2-1.1 .3 3.5 .2 14.6 .3 4.6 .2 9.4 .2 5.7 .3 7.9 .2 1.7 .2 .4 .3-1.9 .2-11.5 .2-3.3 .2 8.5 .2-5.8 .3-9.7 .2-2.6 .3 22.9 .2-.8 .3 18.1 .2 18.6 .3 21.4 .2 14.3 .2-5.6 .3-3.8 .2-1.9 .2-4.9 .2 1.6 .2-8.5 .3 4.4 .2-3.6 .2 6.8 .2 1.8 .2 9.7 .3 9.4 .2 5.4 .2 2.1 .2 .8 .3 0 .2-5 .2-2.2 .3 .5 .2 2.8 .3 .5 .2-6.6 .2 5.8 .3 10.6 .2 2.1 .2 7.7 .2-5.5 .2 8.8 .3 2.8 .2 2.8 .2-5.9 .3 6.3 .2-7.3 .3 5.5 .2-14.6 .2-6.9 .3-3.3 .2-1.5 .2 .9 .3-6.4 .2-3.3 .2-.9 .2-11.2 .2 12 .3-7.2 .2-6.2 .2 13.4 .3-1.1 .2-.8 .3-3.5 .2-4.5 .2 5.4 .3 2.5 .2 1.6 .2-6.7 .2-8.5 .3-13.7 .2-6.3 .2 12.1 .3 10.4 .2-2 .3 3.9 .2 .1 .2 4.7 .3-1.2 .2 7.2 .2 .8 .3-1.1 .2 3.1 .2 9 .2-3.2 .3 8.1 .2-2.5 .2 21 .2-10 .3-4.8 .2-6.7 .3-3 .2-1.2 .2-5.5 .3-.7 .2-12.6 .2 6.1 .2 .2 .3 7.2 .2-7.3 .2 13.4 .3 5.3 .2-2 .2 1.2 .2-8.1 .3 4.8 .2-4.2 .2 4.7 .3-10.2 .2 .5 .2 1.2 .3 2.5 .2 2 .2-2.5 .3-8.4 .2-2.6 .2-.5 .3-1.9 .2 2.7 .3 0 .2 2.9 .2-18.8 .3-.6 .2 1.3 .2-7.2 .2 7.5 .3-.8 .2-7.8 .2 7.1 .3 1.4 .2 .3 .2-1.8 .2-14.2 .2 6.9 .3-10.5 .2 .6 .2 3.2 .3-1.5 .2 2.2 .2-10.7 .3-1.5 .2-.3 .2 2.3 .3-.6 .2 3.2 .2-6.1 .3 1.3 .2 1.1 .2-3.4 .3 1.3 .2-1.9 .2 5 .3 1.1 .2-8.6 .2-2.2 .3 1.8 .2-.1 .2 1.3 .3 .9 .2 1.1 .2-2.2 .3-1.1 .2-9.3 .2-5.1 .2 4.4 .2 3.7 .3-8.1 .2 1 .2 1.6 .3 .1 .2 6.3 .2-4.7 .3 2.8 .2 9.3 .2 4.8 .3-.1 .2-13.6 .2 5 .3 1.9 .2 3.3 .2 7.5 .3 6.8 .2-.4 .3-3.3 .2 1.2 .2 2.3 .3 1.2 .2 5.1 .2-3.4 .3 10.1 .2 8.2 .2 .5 .2 4.1 .3-4.9 .2 5.6 .2 3.9 .2 .9 .3-.3 .2-2 .3-7.2 .2 5.6 .2 5.7 .3-5.3 .2-4.9 .2 10.6 .2-5.3 .3 5.6 .2 6.8 .2 4.1 .3 1.3 .2-9 .2 .8 .2 2.9 .3-2.5 .2 9 .2 2.8 .3-3 .2-5.4 .3 3.5 .2 5.6 .2-1.8 .2-3.1 .3-3.2 .2-5.6 .2 9.5 .2-11.2 .3 .3 .2-3.4 .2 1 .3-1.9 .2 .9 .2 4.9 .3 1.2 .2 .8 .3 3.2 .2-.8 .2-9.5 .3-1.1 .2-9.5 .2-2.4 .3-.5 .2 7.3 .2-8.1 .3 2.5 .2-2.3 .2 9.2 .3-3.2 .2-8.4 .2-.9 .3 4.9 .2-.7 .2-4.2 .2 3.9 .3-3.3 .2 6.6 .2-1.7 .2 10.2 .2-.2 .3 2.4 .2-.3 .2-14.4 .3-16.6 .2-1.1 .3-8.4 .2-6.5 .2 2.7 .3-3.7 .2 1.7 .2-2.2 .3-.1 .2-.2 .2-.1 .3-.2 .2-1.1 .2 4.8 .3-2.8 .2 2.5 .2-.1 .3-.2 .2-2.1 .2-4.3 .3 4.2 .2-3.1 .2 1.8 .2 2.7 .3-7.2 .2 1 .2 .5 .2-3.3 .3 .3 .2-7.3 .2-.2 .2-.1 .3-.9 .2 2.7 .2 9.2 .3 9.9 .2-2.9 .3-3.4 .2 .4 .2 .6 .3 11.4 .2 0 .2-3 .2-5.9 .2 8.9 .3-2.6 .2 1.7 .2-5 .3-3.2 .2-.3 .2-3 .3-4.3 .2-2.6 .3-3 .2 1 .2 5.9 .3-5.4 .2 0 .3-1.5 .2 10.2 .2 9.4 .3-1.9 .2 0 .2 2.7 .3 .3 .2 4.2 .2-6.6 .2 2.8 .2 .1 .3-4.9 .2 5.4 .2 4.3 .2-3.1 .3 1.8 .2 .4 .2 .9 .3 0 .2-2.5 .2-1.8 .3-9.3 .2-16.4 .3 2.7 .2-5.1 .2-5.6 .3 3.4 .2-4.9 .2 8.6 .3 2 .2-2.4 .2-9.8 .3-.2 .2 .6 .2 2 .3-3 .2 1.9 .2 1.6 .3 1.2 .2-5.4 .2-.2 .2-.2 .3 1.4 .2 .7 .2-5.4 .2 1.3 .2 5.6 .3-.2 .2-2.3 .2-2.3 .3 4.1 .2-6.3 .3 6 .2-8.5 .2 0 .3 7.7 .2-9.9 .2-.2 .3-5 .2 0 .2-.9 .3 2 .2-2.6 .2 7.7 .3-7.7 .2 7.7 .2 3.1 .3-8.9 .2-.8 .2 11.7 .3-2.7 .2-.2 .2 8 .2-8.3 .2 5.5 .3 4.5 .2 1.9 .2 .3 .3-11.1 .2 1 .2 1.3 .3-2.3 .2-7.7 .2 9.2 .3-4.3 .2-1.6 .2 1.8 .3-11.4 .2 6.3 .2 3.2 .3-10.6 .2 8.1 .2-8.6 .3-9.7 .2-.2 .2 1.7 .3 10.5 .2-5.3 .2-6.9 .3 4.5 .2-3.4 .2 1.1 .3-2.2 .2 0 .2 12.9 .3 5.8 .2-4.5 .2-10.2 .3 7.6 .2-.9 .2-1 .3 12.8 .2-4.7 .2 .8 .3 .6 .2 9.3 .2 4.3 .2-2 .2-9.2 .3 10.3 .2 4.4 .2 1 .3 0 .2-3.2 .2-8.9 .3-1.7 .2-15.8 .2 3.3 .3-3.4 .2 8.8 .2 1.5 .3-11.1 .2-2 .2-10.7 .3-.9 .2 8.1 .2-8.3 .3 4.4 .2-13 .2 2.8 .3-1.3 .2-8.1 .2 0 .3 0 .2 1.1 .2-1.1 .3 0 .2 7.9 .2-.4 .2 9.3 .3 8.3 .2 3.1 .2-.8 .2-3.6 .2 2.8 .3-5.8 .2-1.2 .2 12.2 .3 10.7 .2 .2 .3 6.8 .2-11.3 .2-1.6 .3 3.3 .2 6.1 .3 15.1 .2 1.1 .2-.2 .3 1.2 .2-2.5 .2-19.7 .3 .6 .2-8.9 .2 8.7 .2-18.3 .3 7.2 .2-5.1 .2-2.6 .3 9.9 .2 .3 .2-.9 .2-13.3 .3-7.5 .2-8.4 .2-.7 .2 1 .3 6.5 .2 .5 .2 .3 .3-7 .2 1.5 .3-2.7 .2-6.9 .2-.8 .3 14.2 .2-11.8 .2-2.2 .3 3.4 .2 4.9 .3-.8 .2-10 .2 .8 .3-.8 .2 1.2 .2-1.2 .3 0 .2 0 .2 0 .2 1.4 .3-1.3 .2 2.3 .2-.9 .2 8.1 .3 3.4 .2 .2 .2-7.9 .3 3 .2-.3 .2-2.2 .2-.6 .3-1.2 .2 .8 .2 1.8 .2-12.5 .3 7.9 .2-2.5 .2-11.2 .3 2 .2 1.9 .3 11.9 .2-1.3 .3-7.9 .2-5.4 .2 4.9 .3-3.8 .2-2.3 .2 0 .2 0 .3 0 .2 11.2 .2-.8 .3-13.4 .2 8.5 .2-.3 .2 7.2 .3 0 .2-4.6 .2-16.5 .2 4.1 .3 4.2 .2-6.7 .2 11.2 .3-2.9 .2-12.5 .2 10.5 .2-2.5 .3-3.8 .2-5.4 .2 5.5 .2 .5 .3-4 .2 .1 .2-3.7 .3 5.2 .2 .5 .2-1.9 .2-4.7 .3 0 .2 1.2 .2 2 .2-3.2 .3 0 .2 1.2 .2 2.5 .3 6.8 .2-.7 .3-6.2 .2 3.7 .3 3.4 .2-2.8 .2 10.2 .3 11.4 .2 .4 .2 1.7 .2-14.3 .3-2.3 .2 18.2 .2 .8 .2 0 .3-.2 .2-.9 .2-2.7 .3-.4 .2-7.3 .3-2.1 .2-11.4 .3-7.4 .2 3 .2-3.7 .3 7.7 .2 3 .2-11.3 .2 4.5 .3 3.3 .2-2.2 .2-.4 .2-4.4 .3-2.5 .2 2.6 .2-2.8 .3 0 .2 .9 .2 2.8 .2-3.6 .3 1.6 .2-.5 .2 4.1 .3 9.9 .2 11 .3 .7 .2-5.7 .3 3.5 .2 4.8 .2-7.4 .3-2.7 .2-6.4 .3 2 .2-6.5 .3 10.7 .2-19.7 .2 8 .3-8.6 .2-7.6 .2-3 .2 6 .3-6 .2 1.2 .2-1.2 .3 0 .2 3.6 .3 1.4 .2-2.5 .3 13.5 .2-9.8 .2 7.5 .3 4.5 .2-10.5 .3 8.5 .2 8.3 .2-13.1 .2 7.6 .2-4 .3-6.7 .2-4.6 .2-2.5 .2-4.5 .3-1.2 .2-3.7 .2-1.7 .2-.2 .3 0 .2 1.4 .2-1.4 .2 0 .3 0 .2 1.3 .2 2.1 .3 11.4 .2-13.1 .3 3.7 .2-3.1 .3 1.8 .2 10.5 .2-2.3 .3-4.4 .2 7.9 .2-.8 .2 .8 .3 0 .2-16.2 .2 8.1 .3-9.3 .2 9.4 .2-.5 .2-2.5 .3 1 .2 0 .2 0 .2-4.4 .3-4.4 .2 7.6 .2 1.3 .3 0 .2 0 .3-4.5 .2-8.1 .3 0 .2 1.3 .2-1.3 .3-1.1 .2 3.1 .3-.3 .2 2.7 .3-.1 .2-1.3 .2-.7 .3-12.3 .2 14.3 .2-5.2 .2-6.3 .3-2.8 .2 1.3 .2-1.3 .3 3.7 .2 11.2 .3-4.9 .2-6.2 .3 2.8 .2 6.4 .2 8.8 .3 2.4 .2 .8 .3 5.9 .2-21.8 .3 1.7 .2 10.5 .2 3.7 .3 12.2 .2-6.8 .2 2.2 .2 4.3 .3-5.2 .2 8 .2 1.2 .3-10.4 .2-2.1 .3 .1 .2 0 .3 .9 .2 .3 .2-1.2 .2 0 .3 .8 .2 6.1 .2-6.3 .2 5.2 .3 17 .2-9 .2 12.4 .2 6.2 .2-3.4 .3 .3 .2 2.2 .2-4.5 .2 4.2 .2 1.2 .3-23.1 .2 7.8 .3-22.3 .2 1.2 .3 5.7 .2 1.1 .2-12.7 .3 4 .2 8.4 .3-14.1 .2 5.3 .3-5.5 .2 1.3 .2 7.8 .2-9.1 .3 0 .2 2.6 .2 4.1 .2-6.7 .3 8.6 .2-3.2 .2 4.2 .2-6.9 .3 8.3 .2 .3 .2-5.4 .3 2.6 .2 9.3 .2-5.8 .3 14.6 .2-2 .2 5.1 .3-.4 .2 3.2 .3 4.4 .2 12.1 .3-3.2 .2-4.5 .2 2.4 .3-.4 .2 8.4 .3 .4 .2 8.1 .3 .5 .2 5.6 .2-3.5 .3 3.5 .2-16.8 .2 6.3 .2-13.7 .3 8.5 .2-9.3 .2-2.1 .3-4.6 .2 2.1 .2-3.4 .2 3.4 .3-6.6 .2 12.5 .2-.7 .2-12.8 .3 4.3 .2 1.2 .2-13.8 .3 8.9 .2-7 .3 3.5 .2-3.1 .3-.9 .2-7.6 .2-7.8 .3 0 .2 0 .3 0 .2 0 .3 0 .2 1.2 .2 9.5 .3-3.8 .2 1.4 .2 25.2 .2 7.6 .3 3.4 .2 8.3 .2-5.6 .3 5.5 .2-8.2 .3-12.7 .2-12.4 .3-9.4 .2 1.2 .2 7.3 .3 12.4 .2-4.5 .3 3.5 .2 4.1 .3-3.4 .2 2.2 .2-.1 .3-5.8 .2-1.2 .2-5.8 .2-10.4 .3-11.7 .2-6.6 .2-9.6 .3 6 .2 4.3 .2-10.2 .2 6.8 .3-5.3 .2 1.9 .2-5.9 .2-.5 .3-7.4 .2-10.1 .2 6.5 .3-.7 .2-12.4 .3 3.6 .2 5.1 .3 .9 .2-13 .2 .1 .3 4.5 .2 1.9 .3-16.6 .2-5.5 .3-5.2 .2 4.1 .2-.8 .3-1.3 .2 12.1 .2-3.2 .2-24 .3 7.7 .2-3.8 .2-2.3 .3 1 .2 8.1 .2-2.6 .2-6.6 .3 4.3 .2-.4 .2-1.6 .2-10.9 .3 0 .2-.7 .2-2.7 .3-1.7 .2-1.4 .3 6.8 .2-1.9 .2-3.7 .3-7.4 .2-10.9 .2-3 .3 .4 .2-.4 .2 2.5 .3-2.5 .2 1.5 .2-1.5 .3 0 .2 0 .2 0 .3 1.5 .2-1.5 .2 5.8 .3 3.3 .2-5.4 .2-2.7 .3 8 .2-3.8 .2-3.7 .3 3.6 .2 24.4 .2 9.6 .3 0 .2-1.4 .2-7.5 .2-15.6 .3 5.5 .2 1.9 .2-5.9 .2-3.3 .2 .1 .3 7.3 .2 3.4 .2-9.3 .2-1.5 .3 .1 .2 6 .2 16.4 .3 2.9 .2 6.9 .2 .4 .3 0 .2-1.4 .2-5.3 .3-8.1 .2 14.7 .2 .1 .3 2 .2-3.7 .2-4.1 .3 4.7 .2-15.2 .2 10.1 .2-1.7 .3 12.2 .2 4.9 .2 1.1 .2-5.4 .2 17.1 .3-6 .2 12.9 .2 12.3 .2 0 .3-1.4 .2-20 .2-29.6 .3 4.5 .2-9.3 .2-4.4 .3-3.5 .2-.2 .2 9.1 .3-10.5 .2 1.6 .2 .1 .3-1.9 .2 2.8 .2 4.5 .3 0 .2-1.4 .2-.5 .3 1.9 .2-.8 .2 .8 .3-.2 .2 1 .2-1.5 .3-9.2 .2-6.4 .2-1.5 .2 12.5 .3 7.8 .2-1.1 .2-3.7 .2 8 .2 19.7 .3 1.9 .2 20.9 .2 5.8 .2 5 .3-7.2 .2 1.2 .2 6.5 .3 1.9 .2 .8 .2-9.4 .3 13.8 .2-8.4 .2-1.8 .3 11 .2-2 .2-1.4 .3 4.1 .2-5.9 .2 24.3 .3 3.4 .2 4.5 .2 1.2 .2 0 .3-2.5 .2-4.6 .2-3.8 .2-12.8 .2 1.9 .3-6.1 .2-2.6 .2-6.9 .2-6.9 .3 3.2 .2-.4 .2-1.9 .3 2.7 .2-1 .2-8.6 .3-4.4 .2 10.9 .2-8.3 .3 5.8 .2-15.4 .2-10.3 .3 10.5 .2-6.2 .2-4.3 .3-11.5 .2 1.4 .2 3.9 .2-.3 .3-1.4 .2-2.1 .2-1.5 .2 8.2 .2 .9 .3 2.1 .2-3.5 .2-6.3 .2 2.9 .3 6.4 .2-2.9 .2-6.1 .3-1.7 .2 4.7 .2 5.1 .3-5.5 .2 16.3 .2 6.9 .3-4 .2-2.6 .2-4.1 .3 13.5 .2-4.3 .2 9.2 .3-4.9 .2-3.3 .2-3.3 .3 6.7 .2 3.3 .2 13.9 .3-8.6 .2 10 .2-1.6 .3-3.2 .2-4.5 .2 6.4 .2 5.7 .3 0 .2 6.9 .2 2.3 .2-7.2 .3-.7 .2 5 .2 2.8 .3 5.1 .2 7 .2 15.2 .3 .6 .2-6.5 .2-7.7 .2 12.8 .3-6.7 .2 11.2 .2 3.8 .2-15.5 .2 10.5 .3 14.1 .2-.9 .2-.3 .3-16.4 .2-2.1 .3-2.1 .2-11.3 .2 2.9 .2-1.8 .3 19.3 .2 13.3 .2 11 .2 10.2 .2 10.2 .3-1.5 .2 3.5 .2-1.1 .2-2.7 .3-2 .2-10.2 .2 1.5 .3-15.9 .2-4.4 .2 3.7 .3 1.6 .2-9.9 .2-12.6 .3 2.4 .2-14.2 .2 5.9 .3-3.5 .2-13.2 .2-4.5 .3 0 .2 1.3 .2 2.7 .3-2.9 .2-1.1 .2 6.2 .3 11.8 .2 4.2 .2-3.8 .3 9.1 .2-.6 .2 0 .2-11.8 .3 13 .2-14.2 .2-16.9 .2 15.3 .2 .3 .3-14 .2-.9 .2 3.6 .2-10.6 .3 13.7 .2-5.9 .2 9.5 .3-5.1 .2 2 .2-4.2 .3-3.4 .2-8.7 .2 13.4 .3-14.7 .2 0 .2 11.6 .3 8.7 .2 6 .2 5.1 .3 .9 .2-1.2 .2 1.2 .2-3.9 .3 3.8 .2-5.7 .2 .9 .2 1.7 .2-.8 .3-5.9 .2-1.2 .2 9.9 .2 1.2 .3-1.5 .2 0 .2-7 .3 8.5 .2 0 .2-.3 .3-15.7 .2-4.4 .2 3 .3 4.1 .2-2.6 .2 2.6 .3-3.4 .2-5 .2 .4 .3 25.5 .2-1.2 .2 1.7 .2 7.3 .3-8.1 .2 5.9 .2 6.5 .2 6 .2-6.5 .3 13 .2 9.5 .2 11.6 .2-13 .3 1.8 .2-1.2 .2 1.8 .3 1.6 .2-6.6 .2-25.6 .3-9.1 .2-.8 .2 7.5 .3-6 .2-1.8 .2-8.6 .3 2.7 .2-6 .2 5.5 .3-6.7 .2 4.9 .2-1.4 .3 1.7 .2-7.7 .2 9 .2-10.2 .3 10.8 .2-.9 .2-3.8 .3 2.5 .2-4.2 .2-2.1 .2-2.2 .3 3.2 .2-3.3 .2-1.9 .3 6.2 .2-6.1 .2-5.4 .2 9.7 .3-9.6 .2 8.3 .2-7.2 .3 6.1 .2-.7 .2 .8 .2 .4 .3-3 .2-6.1 .2-1.3 .3 13.8 .2 5.9 .2 0 .3-5.8 .2 5.4 .2 .4 .3-7 .2 5.7 .2 1.3 .2 0 .3-4.4 .2 4.4 .2 0 .2 0 .2-10.2 .3 9.4 .2-13.4 .2 2.2 .2 6.9 .3-.1 .2-9.6 .2-.1 .2-.2 .3-.1 .2-.2 .2 0 .3 0 .2 0 .2 0 .2 0 .3 0 .2 1.3 .2-1.3 .3 0 .2 15.4 .2-1.2 .3-7.1 .2-7.1 .2 .2 .3 2.3 .2 11.6 .2-7.6 .3-9.2 .2-1.6 .2 5.2 .3-5 .2 2.5 .2-6.4 .3 13.1 .2-8.1 .2 1.9 .3-5.5 .2-5.3 .2 6.2 .2 4 .3 1.2 .2-1.2 .2-.8 .3-4 .2 2.5 .2-11.1 .2 6.1 .3-.7 .2-3.9 .2-12.2 .3 6.8 .2 3.1 .2-20.1 .3-2.7 .2 12.3 .2-8.2 .3 5.4 .2-10 .2-10.2 .2 18.6 .3-10.8 .2-5.6 .2 15.5 .2-2.7 .2-6.3 .3 2.1 .2-11.9 .2 .7 .2 1.1 .3-4.6 .2 8.9 .3-8.9 .2 0 .3 0 .2 1.4 .2 10 .3-4.3 .2 7.4 .2-12.8 .3 11.1 .2-4.5 .2-4.9 .2 5.8 .3-2.5 .2 11.4 .2 0 .3-2.7 .2 1.3 .2 1.4 .3-4.8 .2-7.1 .3 9 .2-5.9 .2-2.8 .3 11.3 .2-16.4 .2 8.1 .3 .8 .2-8.7 .3 2.1 .2 .8 .2-3.8 .3-7.6 .2 14.3 .2-16.4 .2 7.3 .3-9.6 .2 13 .2 1.9 .3-7.1 .2-9.8 .2 14.8 .2-1.1 .3-1.1 .2-10.3 .2 8.1 .2-5.8 .3-7.6 .2-1.1 .2-1.1 .2-1.1 .3-1.1 .2 4.9 .2 2.2 .2 .5 .2 1.2 .2 .7 .3-2.8 .2 2.5 .2-8.5 .2 4.4 .2-4.3 .3 6 .2-1.1 .2-10.6 .2-4.8 .2-2.1 .2 2.6 .2-3.3 .3 5.5 .2 1.5 .2-5.5 .2 19.5 .2 .1 .2-6.3 .3 .3 .2-2.4 .2 6.9 .2-32.5 .2-7.6 .2 1.4 .2-1.5 .2-6.8 .3 10.3 .2 2.3 .2-16.1 .2 .3 .2 .1 .2-8.3 .3-2.7 .2 15.8 .2-14.3 .2 6.1 .3 7.8 .2-15.4 .3 3.2 .2 2.2 .2-1.2 .3 8.8 .2-1.4 .3 9.4 .2-11.5 .2 13 .3-17.5 .2 8.2 .2 6.4 .2-6.7 .3 7.1 .2-2.9 .2 .2 .2-6.7 .2 10.2 .3-8 .2-3.7 .3 14.4 .2-5.6 .2-6.3 .2 6.1 .3-2.8 .2 .4 .2 1.8 .2 2 .2 3.4 .2-6.9 .3 0 .2 26.3 .2-5.4 .2 5.4 .2-9.2 .3-1.3 .2-6.2 .2 6.2 .2 9 .2-3.5 .2-6.8 .2-2.9 .3 0 .2 1.5 .2 0 .2-1.5 .3 18.3 .2-1.5 .3 3.1 .2-2.3 .2-17.6 .3 12.9 .2 5.5 .2-16.4 .2-2 .3 0 .2 0 .2 0 .2 1.5 .2-1.5 .2 1.5 .2-1.5 .3 4.8 .2-1.9 .2 19.4 .2-4.7 .2 5 .3-2.4 .2-2.5 .2 .9 .2-9.3 .2 2.6 .3-4.1 .2 11.9 .3 7.9 .2 0 .3 0 .2-1.4 .2 1.4 .3 0 .2-16.3 .2 4.5 .2 2 .2 5.7 .3-1.5 .2-24.4 .2 .9 .3-6.2 .2-6.8 .3 2.6 .2-3.1 .3 1.8 .2 1.8 .2-6.5 .2 11.5 .3 1.5 .2-8.1 .2-8.7 .2 2.5 .2 6.2 .3-6.5 .2-4.9 .3-1 .2 .1 .3 8.5 .2-6.3 .3 1.1 .2 2.9 .2-6.3 .3-.4 .3 5 .2-3.6 .2-.8 .2-7.4 .3-3.3 .2-3.8 .2 1 .2-1.6 .3 1.3 .2 4.1 .3 6.9 .2-2.2 .3-8.5 .2 12.9 .2 8.3 .2-1.7 .3 3.9 .2-19.2 .2 21.8 .2-6.5 .2-1.9 .3 .3 .2 4 .2 5.6 .2-13.2 .2 10.8 .2-12.3 .2-.1 .3 2.8 .2 1.7 .2 4.9 .2 1.5 .2 0 .3 0 .2-4.1 .2-7 .2-.8 .2-1.5 .2-.1 .2 4.8 .3 3.8 .2-3 .2-.1 .2-5.4 .2 .4 .3 4.6 .2 13.6 .2 0 .2-6 .3 1.9 .2 1.9 .2 .7 .2-14.3 .2-13.9 .3 14.6 .2-14.2 .2 2.2 .2 4.8 .2-6.5 .2-5.4 .3 3.4 .2-3.4 .2 0 .2 1.6 .2 12.9 .3-2.4 .2 .7 .3-12.8 .2 7.2 .2-1.9 .3 .6 .2-1.8 .2-.7 .2-2.4 .2 5.4 .3 14.9 .2-.8 .2 7 .2 14.7 .2-5 .2 22.7 .2-39 .3 3.5 .2 4.2 .3-4.4 .2-.6 .3 14.3 .2-7.8 .2 2.6 .3-5.5 .2-3.3 .2 1 .2-1.5 .2 27.9 .3-3.8 .2-23.9 .2-.2 .2 27.4 .2-19.6 .2-.2 .3-2.4 .2 5.4 .2-5.4 .2 3.1 .3-3.1 .2 0 .2 1.5 .3-1.4 .2 15.7 .3-10.8 .2 3.6 .3 20.1 .2 1.3 .2 1.5 .3 0 .2-7.3 .3-9.6 .2 .6 .3 11.9 .2-7.5 .2 9.9 .3-18.6 .2-6.8 .2-5.4 .2-4.2 .2-7.7 .3 27.3 .2-17.4 .2-3 .2-1.2 .2 8.1 .2 .8 .3-14.6 .2-5.4 .2 4.5 .2-10.7 .2-6 .3-1.4 .2 21.5 .2-13.5 .2-.3 .2-7.2 .3-.8 .2-.1 .3-5.5 .2 5.9 .2-7.4 .2-5.9 .3 5.9 .2 0 .2 .1 .2-4.4 .2-1.6 .2 0 .2 5.8 .3 15.8 .2 1.9 .2 1.4 .2 1.6 .2-1.5 .3 3.8 .2-10 .2 6 .2-8.9 .2 13.2 .2 3.2 .2 .7 .3 0 .2-.6 .2-1 .2-3.1 .2-1.3 .2-9.8 .3 .3 .2-1.1 .2-1.8 .2-1.6 .2 0 .3 0 .2 2.1 .2 22.6 .2 4.1 .2-7 .2 8.5 .2-5.7 .3-3.6 .2-12 .2 1.6 .2-1.6 .2 1 .3-3.8 .2 11.8 .2 4.6 .2-1.6 .2 1.6 .2 0 .2 0 .3-11.7 .2-1.3 .2-6.7 .2-4 .2 5.1 .3-.5 .2-4.8 .2 .2 .2-.2 .3 0 .2 0 .2 1.6 .2-1.6 .2 11 .3 5.1 .2 0 .2-3.1 .2 1.5 .2-5.8 .2 7.9 .3-7.7 .2-6 .2-.2 .2 1.5 .2 4.2 .3 13.5 .2 4.5 .3 4.1 .2 2.2 .2-2.7 .2-9.4 .3 1.5 .2 0 .2-6.9 .2-8.4 .2 5.6 .2 15.2 .2 1.5 .3-1.1 .2 1 .2-1.5 .2-9.2 .2 3.5 .3 .3 .2 7 .2-17.6 .2-2.2 .2-11.9 .2 4.3 .3-2.8 .2 .1 .2 4.9 .2-6.5 .3 .4 .2 4.9 .2 6.6 .2 15.1 .2 18.6 .2 13 .2-5.2 .2 5.9 .3-2.1 .2 5.1 .2-3.3 .2-8.2 .2 4.7 .2 25.4 .2-9.5 .3-8.9 .2 2.9 .2 14 .2-5.2 .2-5.7 .3-6 .2-10.6 .2 2 .2-.5 .2 13.4 .2-2.4 .2 4.8 .3 6.3 .2-2.6 .2 1.3 .2 1.5 .2-8.7 .2-9.5 .3 2.2 .2 0 .2 1.5 .2 13.4 .2 .3 .3 6 .2-13.1 .2 13 .2-1.4 .2 1.4 .2-4.2 .2 6 .3 3.9 .2-11.1 .2-7.7 .2 17.1 .2 4.9 .3 .9 .2 2.7 .2-1.3 .2-4.9 .2 6.4 .2 10.8 .2 6.4 .3-2.5 .2-1.6 .2 .3 .2-6.2 .2 .1 .3 .7 .2 5.6 .2-1.1 .3 .5 .2 14.8 .2 7 .2-.1 .3 1.4 .2-19.2 .2 9.5 .3 .3 .2-6.9 .2-.2 .3-7.5 .2 4.4 .2-1 .2 .5 .2-18.5 .2-7.2 .2-14.4 .2 1 .3-3 .2 13.9 .2-7.1 .2-1.4 .2-9.1 .3-3 .2 8 .2-1.4 .2-6.5 .3 2.4 .2 4.3 .2-2.4 .2 7.8 .2-8.2 .3-15.6 .2-3.6 .2 6.9 .2-1.6 .2-.6 .3-1.5 .2 4.9 .3-8.4 .2-1 .2 2.4 .3 3.5 .2-9.6 .2-7.9 .2-2.9 .3 .5 .2 .9 .2 6.9 .2-2.7 .2 4.1 .2-.8 .3 2 .2-1 .2-5 .2-14.9 .2 15.1 .2 .4 .2-2.6 .3-1.6 .2-10.3 .2 10.1 .2-3.9 .2-5.5 .3 2.7 .2 4.4 .2 3.8 .2-6.2 .2 .7 .3 4.3 .2-1.8 .2-16.2 .3-6.5 .2 2.3 .3-5.2 .2 5.4 .3-6.2 .2-3.2 .2 7 .2-10 .3 5.5 .2-5.6 .2 8.5 .2 3.6 .2-3.2 .3 3.7 .2-12.1 .2 1.1 .3-.4 .2 3 .3 22.7 .2-7.3 .3 5.9 .2-.2 .3-13.4 .2 11 .3 2.7 .2-.8 .3 12.7 .2-15.1 .3-1.6 .2 3.6 .3 11.1 .2-14.7 .3 12.9 .2 15.3 .3 1.5 .2 0 .3 0 .2-13.7 .3-10.6 .2 8 .2-20.7 .2 7.7 .3 8.5 .2 2.2 .2-14.6 .2 2.6 .2 13.1 .3-18.4 .2 0 .2-4.1 .2 4 .3-5.2 .2-10.7 .3 7.1 .2-7.1 .3 1.6 .2 2 .2 6.6 .3-10.2 .2 0 .2 7.6 .2-7.3 .2 7.3 .3 0 .2-6.1 .2 4.5 .2-5.3 .2 .5 .3 1.1 .2 3.8 .2 6 .2 3.9 .2-5.3 .3-10.7 .2 0 .2 1.6 .2 1.7 .2 6.4 .3 8.8 .2 4.5 .2 6.8 .2-2.6 .2-10.8 .3 10.2 .2 23 .2 .8 .2-8.6 .2-11.4 .3 1.9 .2 5.5 .2-15.2 .2 6.1 .2 1.9 .3 4.9 .2 1.5 .2-11.7 .2 7.5 .3 7.1 .2-10.7 .2-16.2 .3-2.2 .2 2.6 .2-15.2 .2 9.6 .3 .2 .2-5 .2-2.4 .2-4.8 .3 15.9 .2-4 .2 1.8 .2-14.2 .2-4.2 .3 11.4 .2-3.5 .2-6.3 .3 2.5 .2 18.8 .3 1 .2 .1 .3 13.2 .2-1.6 .3 1.6 .2-22.2 .3-3.1 .2-2.4 .3 4.8 .2-11.2 .2-5.4 .2-.4 .3-1 .2-2.7 .2 3.7 .2 1.9 .2 6.8 .3-2.6 .2 .6 .2-5.4 .2 4.4 .3-.5 .2-.5 .3-11 .2-11.9 .3 1.7 .2-2.8 .2 6.8 .3-13.2 .2 3 .2 .4 .2-9.2 .2 12.5 .3-12.5 .2 5.4 .2-3.7 .2-1.6 .3 7.6 .2 2.7 .3 2.2 .2-12.6 .3 3.2 .2 5.6 .3-8.4 .2 .2 .2 10 .3 1.9 .2 14.4 .3 1.6 .2 .1 .3-14.1 .2-11.8 .3-7.1 .2 .2 .2-9.1 .2-.9 .3 8.3 .2-1.5 .2 .1 .2-4.5 .2-3 .3 2.6 .2 8.2 .2-9.1 .3 7.6 .2-9.3 .3-.8 .2-2 .3 5.9 .2 4.5 .3-6 .2-.4 .3-3.8 .2 11.5 .3-1.9 .2-11.2 .3 17.9 .2-7.6 .3-12 .2 0 .3 4.2 .2 6.3 .2 5.9 .3 5.7 .2 15.3 .3-3.4 .2 1.7 .2-20.2 .3-9.5 .2-12.2 .3 1.9 .2-4.7 .3 0 .2 14.7 .3-14.7 .2 0 .3 1.8 .2 13.6 .3-7.5 .2 3.9 .3 7.7 .2-5.1 .3 34.5 .2-19.7 .3-3.6 .2 16.2 .3-9.9 .2 27.8 .3 28 .2 92.8 .3 92.9 .2-2.7 .3 8.8 .2 17 .3 14.8 .2 11 .2-11.9 .3-21.7 .2-30.8 .3-16.1 .2-23.4 .2 7.3 .3 9.5 .2-4.8 .3 1.1 .2 17.5 .2-3.5 .3 4 .2-26.3 .2 0 .2 .5 .3 1.7 .2-.9 .2-1.3 .3-3.6 .2 5.8 .3-3.9 .2 4.7 .3 4.5 .2-18.7 .3 1.7 .2-1.4 .3-4.6 .2-4.5 .3 3 .2-6.8 .3-3.8 .2 0 .3 0 .2 3.2 .3-1.8 .2-.9 .3 6.1 .2 12.9 .2 .4 .2-10.8 .3 15 .2-1.3 .3-4.5 .2-8.2 .3-4.6 .2-10.5 .3-17.8 .2-9.4 .3-13.6 .2-2 .3 1.7 .2 4.2 .3-7.5 .2-19.4 .3 8.8 .2-9.9 .3 33 .2-2 .3 2 .2-1.4 .2 1.4 .3-10.9 .2 10.9 .2-6.8 .2 6.8 .3 0 .2 0 .2-3.3 .2-.1 .3-10.2 .2-3.1 .2 6.8 .3-6.8 .2 3.6 .2-8.1 .3 0 .2 0 .2 0 .3 0 .2 1.5 .2 11.5 .2 1.6 .3 3.2 .2 6.8 .2 12.6 .2-3.7 .2-.1 .3 3 .2-2.8 .2 4.6 .2-16.7 .3 1.4 .2 5.1 .3-21 .2 6.4 .2 6.2 .3 1.1 .2-8.5 .3 0 .2-7.7 .2-1.5 .3 6 .2-3.7 .2-2.3 .2 0 .3 0 .2 0 .2 1.4 .2 1.4 .3 1.3 .2 12.7 .2-2.4 .3 3.8 .2-15.1 .2-3.1 .3 5.4 .2 14.6 .2-18.8 .3 7.5 .2-7.2 .2 20.3 .3-.6 .2 3.5 .2 13.3 .3 4.7 .2-4.9 .2 4.9 .3-3.8 .2 2.4 .2-31 .3 15.6 .2-2.8 .3 16.3 .2-1.9 .2-16 .3 2.8 .2-13.6 .2 6.2 .3-6.9 .2-.8 .2 0 .3 .2 .2-.2 .2 .3 .3 10.3 .2 3.1 .2 25.8 .3-14.7 .2 20.8 .3-3.8 .2 6.3 .3 8.4 .2-33.7 .2-11.7 .2-10.8 .3-17.7 .2-29.6 .2-6.5 .2-5.5 .2 23.1 .3-19.5 .2-21.3 .3 14.2 .2-2.7 .3-5.7 .2 7.2 .2 3.6 .3-4.3 .2 .4 .2-1.3 .2-1.8 .2-5.3 .3 .8 .2-4.4 .2-6.7 .2-1.2 .2 11.5 .3 3.8 .2-11.2 .2 .1 .2 11.5 .2 9.1 .3-7.9 .2 .2 .2-4.1 .3-5 .2 10.5 .3-.6 .2 13 .3 0 .2-1.6 .3 1 .2 .6 .3-1.9 .2-19.4 .3 2.1 .2-13.5 .3 .7 .2-2.3 .3-4.8 .2-4.2 .3 0 .2 1.7 .3 8.5 .2 12.3 .3 4.1 .2-13.6 .3 3.9 .2 5.5 .2-.7 .3 4.4 .2 9.3 .2-8.4 .3 12.5 .2 .7 .2-16.9 .3 4.1 .2-10.8 .3-3.8 .2-.7 .3-7.4 .2 4.7 .3-15.2 .2 18.1 .3-22.7 .2 3.7 .3-2 .2 9 .3 2.8 .2-14.8 .3 6 .2 9.1 .3-1.7 .2-1.1 .3-9.3 .2 5.8 .3 6.3 .2-1.9 .3-20.5 .2-7 .3-5.7 .2 .4 .3-8.6 .2-5.8 .3 4.4 .2 1.2 .2 2 .3-8.7 .2 3.9 .2 6.5 .2-2.2 .2-.1 .3-1.2 .2-.4 .2-5.4 .2 4.5 .2-.4 .3-1.1 .2 .2 .2-.4 .2-1.8 .2 .9 .3-20.9 .2 11.8 .2-10.6 .2 12.9 .3-22.9 .2 4.4 .2 3.7 .2-8.9 .3-5.1 .2 11.5 .2-2.6 .2 .8 .3-18.9 .2-.1 .2-1.8 .3 0 .2 0 .2 0 .2 0 .3 3.7 .2 3.7 .2-7.2 .2 5.9 .3 5.9 .2-1.8 .2-12.3 .3 8.7 .2 5.3 .2 .1 .2 0 .2-7.8 .3-10.6 .2 10.9 .2-11.5 .2-3.2 .3 .2 .2-3.7 .2-12.7 .3 7.4 .2-.8 .3 2.3 .2-12.3 .2-1.4 .3 1.9 .2 0 .2 13.2 .2-15.1 .3 0 .2 0 .2 0 .2 0 .3 0 .2 .2 .2 4.3 .2 17.5 .2-8.8 .2 6.9 .2-15.7 .3 8.8 .2-6.4 .3-2.9 .2 4.3 .2 9.7 .3 1.1 .2-6.7 .2 8.1 .2-10 .3 31.1 .2-6.2 .2 3.2 .2 4.9 .2-16.4 .2-4.6 .3 7.3 .2-21 .2-7.5 .2-4.5 .2-1.8 .2-10.7 .2 .6 .3-11.7 .2 4 .2 .2 .2-1.1 .2 2.3 .3 2.9 .2-2.1 .2-6 .2 10.6 .3 .1 .2-12.6 .2 2 .2-2 .2 29.2 .2 6.5 .2 1.9 .2 0 .3 0 .2-5.5 .2-1.7 .2 7.2 .3 0 .2-1.8 .2-20.8 .2 4.3 .2-3 .2 2.1 .3-5.3 .2 2.8 .2 13.3 .2-16.1 .3 1.9 .2 2.6 .2 1.9 .3 22.3 .2-18 .3-2.4 .2 0 .2-1.9 .2 0 .2 0 .3 25.2 .2 10.4 .2 .1 .2-17.8 .2 15.8 .3-4 .2 5.6 .2-22.6 .2 2.8 .3 7.2 .2-25.1 .2 5.6 .2-18.2 .2 2.3 .3 8.2 .2 11.4 .2-9.9 .2-.2 .2-12.4 .3-1.8 .2-11.4 .3-12.6 .2 13.5 .2-21.2 .2 15.8 .2 8 .3-8.3 .2 11.4 .2-22.5 .2 16.2 .2-27.3 .3 4.9 .2-4.6 .2 8.8 .2 6.8 .3 .7 .2-12.5 .2-2.1 .2 19.7 .2 5.9 .2-13.9 .2 10.3 .2-6.2 .3 17.5 .2-10.1 .2 .1 .2-5.1 .2 27.3 .3 12.1 .2-1.9 .2-21.8 .2-16.4 .3 8.7 .2-8.4 .2-.3 .2 2 .2 6.6 .2 8.1 .2-.4 .3-10.2 .2-1 .2 16.3 .2-15.9 .2-33.7 .2 9.4 .2-26.7 .3 22.8 .2 4.6 .3-6.2 .2 2.4 .3-22.4 .2 .9 .2 18.2 .2-7 .3-5.2 .2 10.5 .2-3.7 .2 7.9 .2-9.8 .3 12.9 .2-15.5 .2 37 .2 2.4 .3-15.7 .2-.9 .2-7.1 .2 2.8 .2 16.4 .3 7.2 .2 28 .2-1.9 .2-7.1 .3 4.9 .2 0 .2-17.4 .3 .7 .2-.2 .3-24.4 .2 2 .2-2 .2 0 .3 1.1 .2 2.5 .2 7.2 .2 11.9 .2 11.6 .2 12.9 .2 5.3 .1 55.6 .2 7 .2-8.1 .3-13.9 .2 25.1 .2 8.9 .2 26.4 .2-1.6 .2 5.9 .2 0 .3-1.7 .2 1.7 .2-1.7 .2-11.8 .2-15.6 .2-7.6 .3-34.2 .2-19.6 .3-4.4 .2-.1 .3-21.2 .2 6.2 .2 5.6 .3-11.8 .2 1.9 .2 11.3 .2 10.3 .3-1.5 .2 18.3 .2-9.6 .2 11.4 .2 1.9 .3-16.7 .2-4.3 .3 10.9 .2-14 .3-13 .2 1.4 .2 2.9 .2 11.1 .3 7.9 .2 1.4 .2 12.2 .2 4.5 .2 14.5 .2-7 .2-13.7 .2 16.6 .3 16.9 .2 16.8 .2 1.8 .3-20.5 .2-16.6 .2-4.7 .2-1.8 .2 15.9 .2-3.4 .2 4 .2-.8 .3 6.1 .2 6.3 .2-1.8 .2 1.8 .2-21.2 .2-26 .2 4.5 .2-2 .3 .1 .2-1.1 .2 16.2 .2-11.6 .3-4.7 .2 8.6 .2-8.7 .2 26.7 .2-13.1 .2-.5 .3-.3 .2 23.5 .2-15.6 .2 27.2 .2 20.4 .2 4.3 .2 9.2 .3 8 .2-1.7 .2 .7 .2 3.9 .2-3.8 .3 11.8 .2-14.3 .2-22.9 .2 24.5 .2 11.8 .2-2.6 .3-19.7 .2 6.9 .2-22.2 .2-1.7 .2 4 .3 10.4 .2-13.2 .2-1.3 .2 18.7 .2 0 .2-13.7 .2-9.6 .3-14.1 .2 13.8 .2-15.3 .2-14.9 .2 8.2 .3-19.6 .2-5.3 .2 6.2 .2-7 .2-10.3 .3-.1 .2 1.1 .3-1 .2 6 .2-8.9 .3 13.2 .2-11.7 .2-4.3 .2 0 .2 1.9 .2 10.2 .3 25.6 .2-7.5 .2 5.8 .2 27.9 .3-18.3 .2 .8 .2 12.9 .2 8.5 .2-5.9 .2-.8 .2 2.5 .3 9.6 .2 4.6 .2 .4 .2 1.8 .2-7.6 .2-14 .3-17.8 .2-4.4 .2 1.8 .2 1.1 .2 18.9 .2 26.7 .2 15.9 .2 15.1 .3 7.1 .2 0 .2 4.1 .2-7.2 .2-3.2 .2 1.7 .2 .5 .3 0 .2 5.5 .2 3.2 .2 1.6 .2-.3 .3-4.5 .2-3.6 .2 0 .2-11.3 .2-6 .2-.9 .3-1.8 .2 2.8 .2-31.6 .2 6.4 .2-.4 .3-24.8 .2-2 .2 22.8 .2-22.8 .3-15 .2-8.5 .2 2.9 .2-.2 .2-11.1 .2 12.6 .2-1.3 .2-8.1 .2-5.3 .2-17.7 .2-.5 .3 7.8 .2 6.3 .2-3 .3-3.8 .2-5.6 .3-.5 .2-15.6 .2 8.3 .3-2.1 .2-4.3 .2 8.8 .2-10.7 .3 0 .2 0 .2 0 .2 0 .3 0 .2 1.5 .2 5.6 .2-.8 .3-4 .2 .6 .3 8.7 .2 13.1 .2 8.3 .3 7.1 .2-1.9 .2-.7 .2-20.5 .3-11.2 .2 31.4 .2-2.5 .2-12 .2 6 .2-2.3 .2-13.1 .3-11.5 .2 7.1 .2-25.1 .2 13.1 .3-1.7 .2-10.1 .3-6.5 .2-16 .2 15.7 .3 1.1 .2-21.5 .2 4 .3-7.7 .2 17.9 .2-11.1 .3 4.6 .2-3.2 .3-2.6 .2-3.3 .2-.5 .3-1.7 .2-1.6 .2 4.8 .2-28 .3-8.7 .2 22.6 .2-12 .2-8.5 .2 4.2 .2 5.1 .3 2.8 .2-13.4 .2 14.6 .2-10.8 .3-.2 .2-4.4 .2 11.1 .2 6.3 .2 12.4 .2-21.3 .3-6.2 .2-2.3 .2 2.1 .2 23.8 .2 11.1 .3 15.7 .2 14.9 .2 0 .2-2 .2-.6 .3-.9 .2-.2 .2-9.2 .3-7.1 .2-2.9 .3-21.3 .2-16.2 .2-.6 .2 0 .3-3.1 .2-2.1 .2-20.7 .2 10.6 .3-9.7 .2 10.9 .2-4.7 .2-12.9 .2 22.8 .3-10 .2-13 .2 10.6 .2 7.2 .3-2.1 .2-5.8 .2-10.9 .2 7.1 .2 13.1 .2-7.3 .3-5.9 .2 7.4 .2-9.2 .2 10.1 .2 4.2 .2 7.8 .2 3.3 .2-14.7 .2 7.9 .3 6.8 .2-15.7 .2 13.6 .2-1.7 .2-5.3 .3-11.9 .2 5.1 .2 15.9 .2-18.9 .2-.8 .2 17 .2 5 .3 3.7 .2-14 .2-1.8 .2 6.2 .3 35.6 .3-3.5 .2-8 .3-9.6 .2 3.9 .2-9.2 .3 14.2 .2-4.6 .2 1 .2-5.3 .3-12.6 .2-5 .2 2.1 .2-2.1 .2 0 .3 0 .2 0 .2 0 .2 16.3 .2 12.9 .2 5.7 .2-5.1 .3 12.8 .2-7.5 .2 7.5 .2-21.4 .2-1.1 .2-16.7 .2 9.3 .2 10 .3-6.7 .2-14.7 .2 0 .2 5 .3 6.6 .2 6.8 .2-2.1 .2 2.1 .2-8.4 .2-13.6 .3 4.7 .2-1 .2-4.5 .2-8.6 .3 0 .2 0 .3 0 .2 2.1 .2 3.8 .2-5.9 .3 5.6 .2 16.6 .2-7 .2 1.1 .2 2.8 .2-13.5 .3 36.6 .2-.2 .2-2.3 .2 8.1 .2-26.6 .2 9.2 .3-9.2 .2 6.1 .2-3.6 .2 1.6 .3-.1 .2 21.2 .2-27.5 .2 1.2 .3-3.3 .2 14.9 .3 5 .2-15 .2 3.6 .3 2.4 .2-6.2 .2 3.1 .2 12.9 .2 9 .3-12.6 .2 12.8 .2 1.1 .2 20.2 .2-14.3 .3-27.1 .2 40.7 .2-4.4 .2-2.1 .2 6.2 .2-13.4 .2 8.1 .3-7.1 .2 8 .2 11.2 .2 15.9 .3-8.8 .2 16.3 .2 6.4 .3-.5 .2-.7 .3-2.4 .2 4.2 .2 0 .3-6.8 .2 4.9 .2-15.6 .2 11.9 .3-3 .2 7.1 .2-8.5 .2-2.3 .3-3 .2-24.2 .3-4.1 .2 6.7 .2-22.1 .3 12.3 .2-15 .2-2.9 .2-1.6 .3 9.6 .2 .2 .2-7.4 .3 16.2 .2-12.3 .3-12.8 .2-10.8 .2 11.4 .3-4 .2 6.8 .2 4 .3-6.2 .2-6 .2 4.6 .2-20.5 .2 .7 .3 16 .2-26.7 .2-1.3 .2 10 .3-13.4 .2 0 .2 0 .3 4.2 .2-4.2 .3 0 .2 2.1 .2-2.1 .2 0 .2 3.6 .3 12.7 .2-1 .2-9.3 .2-6 .2 9.6 .3-8.6 .2 .7 .2 1.4 .2 15.9 .2 9.3 .2 9.3 .3-29 .2 16.2 .2 1.8 .2 9.6 .2 2.1 .2-1.3 .2-24.4 .3 4.7 .2-22.8 .2-5.4 .2 1.2 .2 3.2 .3-6.1 .2-.4 .2-.1 .2 7.4 .2-6.8 .2 2.8 .2 11.3 .3-5.6 .2 .8 .2 2.7 .2-5.4 .2 7.5 .2-11.5 .3-.8 .2 3 .2-13.5 .2-8.2 .2-16.1 .3-4.3 .2 1.3 .2-5.5 .2 8.1 .2 12 .2-7.2 .2 4.5 .3-22.8 .2-.8 .2 9.1 .2-8.6 .2 7.7 .3 3.5 .2-11.3 .2-6.5 .2-1.6 .2-6.9 .2 1 .2 6.3 .3 7 .2-15.5 .2 4.2 .2 4.7 .3-9.6 .2 11.5 .2-6.4 .3-5.1 .2 0 .3 0 .2 2.3 .2-2.3 .3 8.3 .2 5.7 .2-14 .2 10.5 .2 22.9 .3-12.7 .2-11 .2 8.2 .2 15.6 .2-21.3 .3 .6 .2 17.8 .2 4 .2 4 .2-5.5 .2 7.7 .2 0 .3 0 .2-9.3 .2 3.2 .2 .2 .2 5.5 .2-23.1 .3-14.6 .2 .8 .2-9 .2 1.4 .2 .5 .3-5.5 .2 6.2 .2 13 .2-16.9 .2 9.6 .2 9.2 .2-15.9 .3 3.3 .2 9.9 .2 24.1 .2-5.5 .2-15.6 .3 7.7 .2-3.5 .2 15.1 .2-13.7 .2 15.6 .2-17.9 .2 14.2 .3-5.6 .2 39.3 .2-22.3 .2-.8 .2 1.6 .3 21 .2-15.4 .2-8.1 .2 19.9 .2-3.9 .2 11.2 .3-.5 .2 22.9 .2 2.2 .2-2.1 .2 2.1 .2-16 .2-8.7 .3-5.5 .2 0 .2 2.1 .2 .4 .3 1.9 .2 14.2 .3-14.6 .2 21.5 .2-7.3 .3-16.3 .2-2.3 .2-2.1 .2 7 .3 9.7 .2 29.6 .2-1.4 .2-6.6 .2 15.1 .2-.5 .2 21.5 .3 1.3 .2 0 .2-2 .2 2 .2 0 .3-6.6 .2-11.3 .2-9.2 .2-5.1 .2-28.2 .2 3.3 .2 6.7 .3-19.8 .2 9.6 .2-2.7 .2-.9 .3 1.3 .2-10.4 .2 0 .3 11.4 .2-11.4 .3 5.4 .2-3.2 .2-.7 .2 28.3 .3 13.4 .2 0 .2-11.9 .2 9.8 .2 .5 .2-5.6 .2 3.5 .3-33.8 .2 28.8 .2-29.7 .2-20.2 .2 13 .3-18.3 .2 13.8 .2 5 .2-18.8 .3 19.4 .2-19.4 .2 2.2 .2-2.2 .2 33.6 .2 8.8 .2 1.5 .2 .6 .3-6 .2 6 .2 0 .2 0 .3-6.9 .2-1.2 .2-13.5 .2 3.9 .3-.2 .2-1 .3 15.5 .2-7 .2 17.7 .3-16.4 .2 .5 .2-.3 .3 27.2 .2-5.4 .2 4.7 .3-13.8 .2 2.1 .3 16.8 .2-8 .2 7 .2 9.8 .3 .4 .2-10.3 .2 6.3 .2 6.7 .2 3.4 .3-10.9 .2-2 .2 10.9 .3-10.8 .2 15.2 .3 2.9 .2 2.3 .2 0 .3-12.8 .2 10.8 .2 2 .2-28.5 .3-21.3 .2 0 .2 1.9 .2 .2 .2-2.1 .2 14.6 .2-1.9 .3 12 .2 6.7 .2-3 .2-5.1 .3 0 .2 6 .2 2.1 .3-14.3 .2 2.5 .2 11.8 .3-4.6 .2-22.2 .3 1.1 .2-5.7 .2 2.8 .3-13.3 .2 12.6 .2 18.6 .2-12.2 .2 19.9 .2-11.2 .3-40 .2-11.4 .2-3.2 .2-3.1 .3-11.8 .2 17.5 .2-2.4 .2-10 .2 12.3 .2-27.9 .3 13.6 .2-22.7 .2 31.1 .2-15.4 .2-11.2 .2-1 .2 1.8 .2 8.4 .3-12.5 .2-9.9 .2-14.2 .3 0 .2 19.1 .3 7.3 .2-24.1 .2 18.1 .2-13.8 .2-4.9 .3-1.9 .2 17.8 .2 5.4 .2-7.8 .2 10.1 .3-15.2 .2 4.2 .2 5.8 .2-20.4 .2-2.3 .2 0 .2 0 .3 4.2 .2 15.5 .2 17.6 .2-18.6 .2-9.3 .3-4.3 .2 2.3 .2 20 .2-20 .2-2.3 .2 12.7 .3-1.5 .2 14.2 .2 3.6 .2 4.5 .2 9.7 .3 12.9 .2 8.1 .2 35.5 .2 28.1 .2 38.3 .2-4 .2 13.7 .3-6.9 .2 3 .2 1.6 .2 .3" stroke="#ff0000"/></g><rect x="85.9" y="47" width="1748.95" height="948" fill="none" stroke="#000" stroke-width="4.1" stroke-linejoin="round"/><g stroke="#000" fill="none"><line x1="76.5" y1="995.0" x2="86" y2="995.0" stroke-width="1.8"/><line x1="1825.5" y1="995.0" x2="1844.3" y2="995.0" stroke-width="1.8"/><line x1="81" y1="957.1" x2="86" y2="957.1" stroke-width="1.5"/><line x1="1830" y1="957.1" x2="1840" y2="957.1" stroke-width="1.5"/><line x1="81" y1="919.2" x2="86" y2="919.2" stroke-width="1.5"/><line x1="1830" y1="919.2" x2="1840" y2="919.2" stroke-width="1.5"/><line x1="81" y1="881.2" x2="86" y2="881.2" stroke-width="1.5"/><line x1="1830" y1="881.2" x2="1840" y2="881.2" stroke-width="1.5"/><line x1="81" y1="843.3" x2="86" y2="843.3" stroke-width="1.5"/><line x1="1830" y1="843.3" x2="1840" y2="843.3" stroke-width="1.5"/><line x1="76.5" y1="805.4" x2="86" y2="805.4" stroke-width="1.8"/><line x1="1825.5" y1="805.4" x2="1844.3" y2="805.4" stroke-width="1.8"/><line x1="81" y1="767.5" x2="86" y2="767.5" stroke-width="1.5"/><line x1="1830" y1="767.5" x2="1840" y2="767.5" stroke-width="1.5"/><line x1="81" y1="729.6" x2="86" y2="729.6" stroke-width="1.5"/><line x1="1830" y1="729.6" x2="1840" y2="729.6" stroke-width="1.5"/><line x1="81" y1="691.6" x2="86" y2="691.6" stroke-width="1.5"/><line x1="1830" y1="691.6" x2="1840" y2="691.6" stroke-width="1.5"/><line x1="81" y1="653.7" x2="86" y2="653.7" stroke-width="1.5"/><line x1="1830" y1="653.7" x2="1840" y2="653.7" stroke-width="1.5"/><line x1="76.5" y1="615.8" x2="86" y2="615.8" stroke-width="1.8"/><line x1="1825.5" y1="615.8" x2="1844.3" y2="615.8" stroke-width="1.8"/><line x1="81" y1="577.9" x2="86" y2="577.9" stroke-width="1.5"/><line x1="1830" y1="577.9" x2="1840" y2="577.9" stroke-width="1.5"/><line x1="81" y1="540.0" x2="86" y2="540.0" stroke-width="1.5"/><line x1="1830" y1="540.0" x2="1840" y2="540.0" stroke-width="1.5"/><line x1="81" y1="502.0" x2="86" y2="502.0" stroke-width="1.5"/><line x1="1830" y1="502.0" x2="1840" y2="502.0" stroke-width="1.5"/><line x1="81" y1="464.1" x2="86" y2="464.1" stroke-width="1.5"/><line x1="1830" y1="464.1" x2="1840" y2="464.1" stroke-width="1.5"/><line x1="76.5" y1="426.2" x2="86" y2="426.2" stroke-width="1.8"/><line x1="1825.5" y1="426.2" x2="1844.3" y2="426.2" stroke-width="1.8"/><line x1="81" y1="388.3" x2="86" y2="388.3" stroke-width="1.5"/><line x1="1830" y1="388.3" x2="1840" y2="388.3" stroke-width="1.5"/><line x1="81" y1="350.4" x2="86" y2="350.4" stroke-width="1.5"/><line x1="1830" y1="350.4" x2="1840" y2="350.4" stroke-width="1.5"/><line x1="81" y1="312.4" x2="86" y2="312.4" stroke-width="1.5"/><line x1="1830" y1="312.4" x2="1840" y2="312.4" stroke-width="1.5"/><line x1="81" y1="274.5" x2="86" y2="274.5" stroke-width="1.5"/><line x1="1830" y1="274.5" x2="1840" y2="274.5" stroke-width="1.5"/><line x1="76.5" y1="236.6" x2="86" y2="236.6" stroke-width="1.8"/><line x1="1825.5" y1="236.6" x2="1844.3" y2="236.6" stroke-width="1.8"/><line x1="81" y1="198.7" x2="86" y2="198.7" stroke-width="1.5"/><line x1="1830" y1="198.7" x2="1840" y2="198.7" stroke-width="1.5"/><line x1="81" y1="160.8" x2="86" y2="160.8" stroke-width="1.5"/><line x1="1830" y1="160.8" x2="1840" y2="160.8" stroke-width="1.5"/><line x1="81" y1="122.8" x2="86" y2="122.8" stroke-width="1.5"/><line x1="1830" y1="122.8" x2="1840" y2="122.8" stroke-width="1.5"/><line x1="81" y1="84.9" x2="86" y2="84.9" stroke-width="1.5"/><line x1="1830" y1="84.9" x2="1840" y2="84.9" stroke-width="1.5"/><line x1="76.5" y1="47.0" x2="86" y2="47.0" stroke-width="1.8"/><line x1="1825.5" y1="47.0" x2="1844.3" y2="47.0" stroke-width="1.8"/><line x1="87.2" y1="995" x2="87.2" y2="999.5" stroke-width="1.5"/><line x1="145.4" y1="995" x2="145.4" y2="999.5" stroke-width="1.5"/><line x1="203.6" y1="995" x2="203.6" y2="999.5" stroke-width="1.5"/><line x1="261.8" y1="995" x2="261.8" y2="999.5" stroke-width="1.5"/><line x1="320.0" y1="995" x2="320.0" y2="1004.3" stroke-width="1.9" stroke-linecap="round"/><line x1="378.2" y1="995" x2="378.2" y2="999.5" stroke-width="1.5"/><line x1="436.4" y1="995" x2="436.4" y2="999.5" stroke-width="1.5"/><line x1="494.6" y1="995" x2="494.6" y2="999.5" stroke-width="1.5"/><line x1="552.8" y1="995" x2="552.8" y2="999.5" stroke-width="1.5"/><line x1="611.0" y1="995" x2="611.0" y2="1004.3" stroke-width="1.9" stroke-linecap="round"/><line x1="669.2" y1="995" x2="669.2" y2="999.5" stroke-width="1.5"/><line x1="727.4" y1="995" x2="727.4" y2="999.5" stroke-width="1.5"/><line x1="785.6" y1="995" x2="785.6" y2="999.5" stroke-width="1.5"/><line x1="843.8" y1="995" x2="843.8" y2="999.5" stroke-width="1.5"/><line x1="902.0" y1="995" x2="902.0" y2="1004.3" stroke-width="1.9" stroke-linecap="round"/><line x1="960.4" y1="995" x2="960.4" y2="999.5" stroke-width="1.5"/><line x1="1018.9" y1="995" x2="1018.9" y2="999.5" stroke-width="1.5"/><line x1="1077.3" y1="995" x2="1077.3" y2="999.5" stroke-width="1.5"/><line x1="1135.8" y1="995" x2="1135.8" y2="999.5" stroke-width="1.5"/><line x1="1194.2" y1="995" x2="1194.2" y2="1004.3" stroke-width="1.9" stroke-linecap="round"/><line x1="1252.4" y1="995" x2="1252.4" y2="999.5" stroke-width="1.5"/><line x1="1310.7" y1="995" x2="1310.7" y2="999.5" stroke-width="1.5"/><line x1="1368.9" y1="995" x2="1368.9" y2="999.5" stroke-width="1.5"/><line x1="1427.2" y1="995" x2="1427.2" y2="999.5" stroke-width="1.5"/><line x1="1485.4" y1="995" x2="1485.4" y2="1004.3" stroke-width="1.9" stroke-linecap="round"/><line x1="1543.6" y1="995" x2="1543.6" y2="999.5" stroke-width="1.5"/><line x1="1601.8" y1="995" x2="1601.8" y2="999.5" stroke-width="1.5"/><line x1="1660.0" y1="995" x2="1660.0" y2="999.5" stroke-width="1.5"/><line x1="1718.2" y1="995" x2="1718.2" y2="999.5" stroke-width="1.5"/><line x1="1776.4" y1="995" x2="1776.4" y2="1004.3" stroke-width="1.9" stroke-linecap="round"/></g><g font-size="24" fill="#000"><text transform="translate(68 1002.0) scale(0.975 1)" text-anchor="end">500</text><text transform="translate(1853 1002.0) scale(0.975 1)">500</text><text transform="translate(68 812.4) scale(0.975 1)" text-anchor="end">1000</text><text transform="translate(1853 812.4) scale(0.975 1)">1000</text><text transform="translate(68 622.8) scale(0.975 1)" text-anchor="end">1500</text><text transform="translate(1853 622.8) scale(0.975 1)">1500</text><text transform="translate(68 433.2) scale(0.975 1)" text-anchor="end">2000</text><text transform="translate(1853 433.2) scale(0.975 1)">2000</text><text transform="translate(68 243.6) scale(0.975 1)" text-anchor="end">2500</text><text transform="translate(1853 243.6) scale(0.975 1)">2500</text><text transform="translate(68 54.0) scale(0.975 1)" text-anchor="end">3000</text><text transform="translate(1853 54.0) scale(0.975 1)">3000</text><text transform="translate(319.2 1029.6) scale(0.975 1)" text-anchor="middle">2000</text><text transform="translate(610.2 1029.6) scale(0.975 1)" text-anchor="middle">2005</text><text transform="translate(901.2 1029.6) scale(0.975 1)" text-anchor="middle">2010</text><text transform="translate(1193.4 1029.6) scale(0.975 1)" text-anchor="middle">2015</text><text transform="translate(1484.6 1029.6) scale(0.975 1)" text-anchor="middle">2020</text><text transform="translate(1775.6 1029.6) scale(0.975 1)" text-anchor="middle">2025</text></g><rect x="90.4" y="51.5" width="586.6" height="89.8" fill="#2e7d72"/><text x="384.5" y="85.2" font-size="30.8" fill="#fff" text-anchor="middle">FRANCE MSCI STOCK PRICE INDEX</text><text x="384.5" y="127.4" font-size="30.2" fill="#fff" text-anchor="middle">(daily)</text><rect x="91.9" y="145.9" width="493.5" height="63.3" fill="#fff" stroke="#000" stroke-width="3" stroke-linejoin="round"/><line x1="99.2" y1="162.5" x2="153.8" y2="162.5" stroke="#0000ff" stroke-width="2.6"/><line x1="99.2" y1="189.5" x2="153.8" y2="189.5" stroke="#ff0000" stroke-width="2.6"/><text x="163" y="169.8" font-size="24" fill="#000">US Dollars (Apr 09 = 2,390.5)</text><text x="163" y="197" font-size="24" fill="#000">Local Currency (Apr 09 = 2,529.6)</text><text x="89.3" y="1068.7" font-size="24" fill="#000">Source: LSEG Datastream and © Yardeni Research. MSCI.</text></svg></body></html>
